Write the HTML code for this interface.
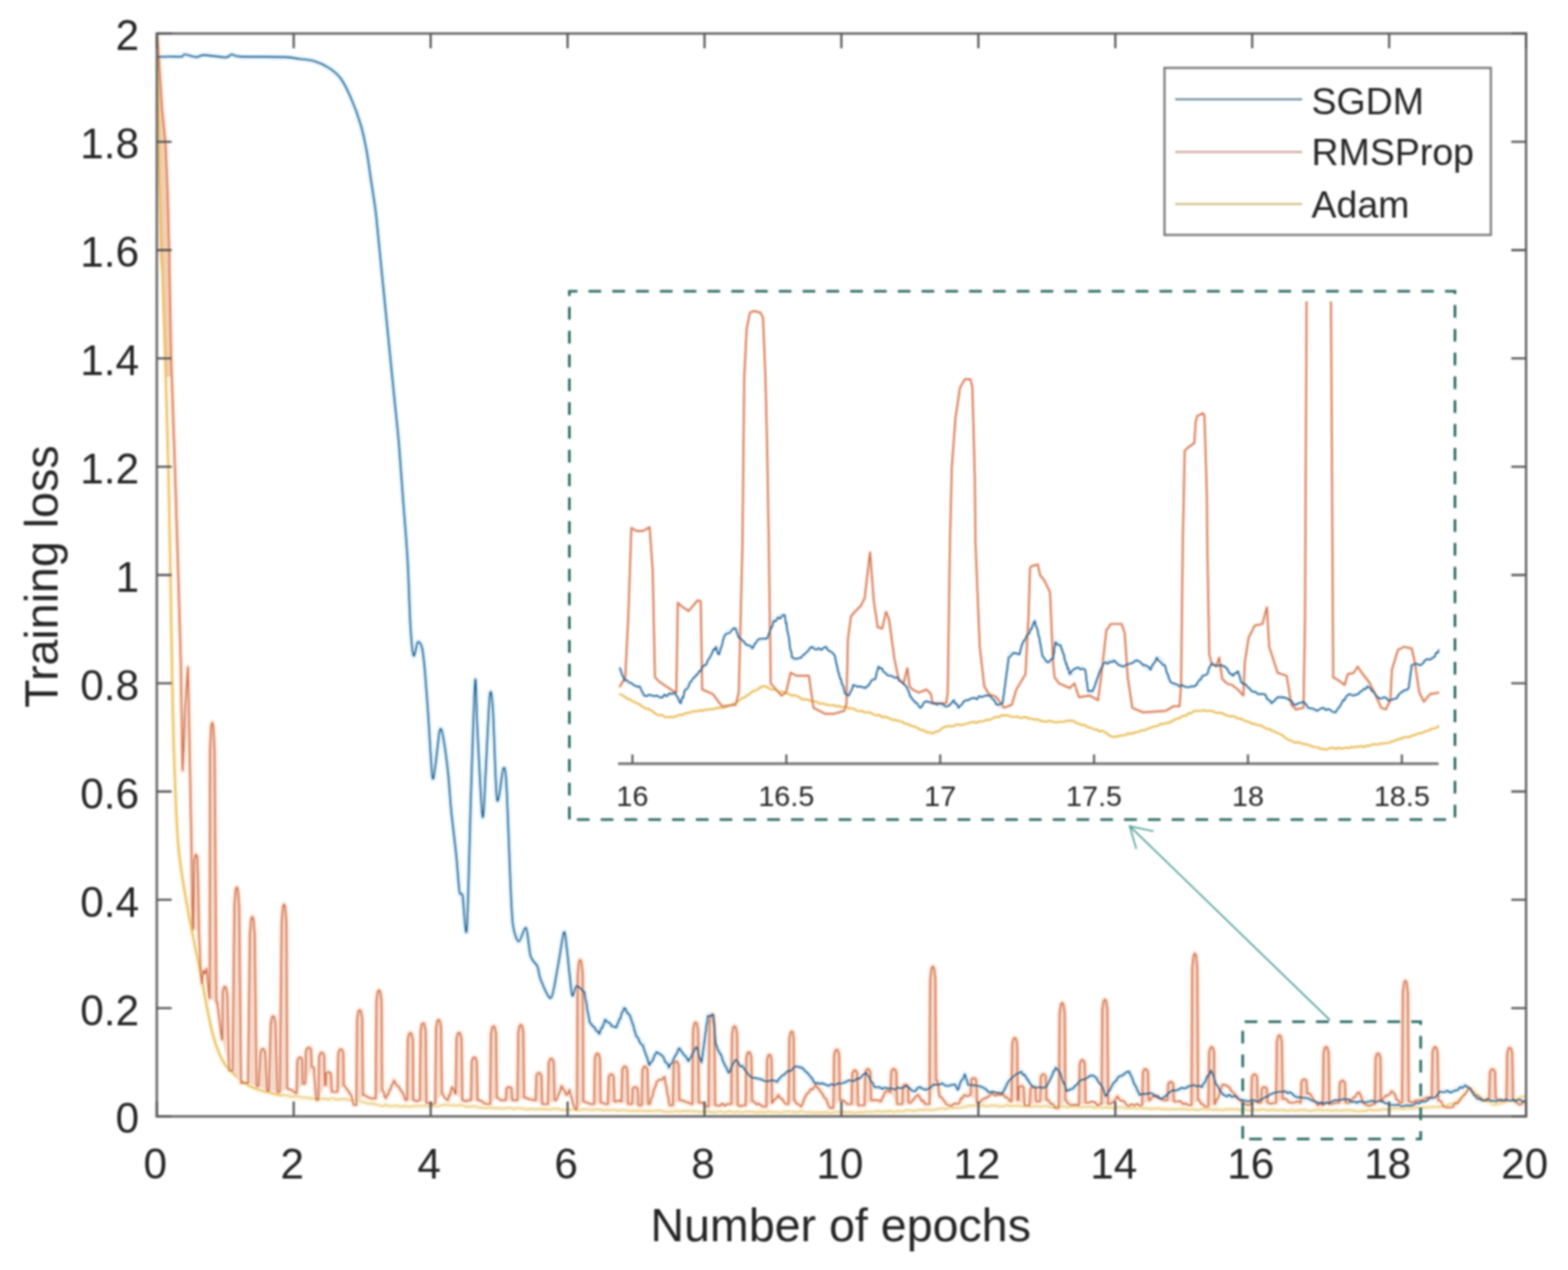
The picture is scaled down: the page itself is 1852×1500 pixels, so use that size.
<!DOCTYPE html>
<html><head><meta charset="utf-8"><title>Training loss</title>
<style>html,body{margin:0;padding:0;background:#fff;}svg{display:block;filter:blur(1px);}text{font-family:'Liberation Sans',sans-serif;}</style></head><body>
<svg width="1852" height="1500" viewBox="0 0 1852 1500">
<rect x="0" y="0" width="1852" height="1500" fill="#ffffff"/>
<defs>
<clipPath id="mainclip"><rect x="185.2" y="39.6" width="1617.3" height="1279.0"/></clipPath>
<clipPath id="insclip"><rect x="730" y="356" width="970" height="546"/></clipPath>
</defs>
<g clip-path="url(#mainclip)" fill="none" stroke-linejoin="round" stroke-linecap="round">
<path d="M186.0,67.4C188.0,67.3 195.9,66.9 200.0,66.8C204.1,66.7 212.1,67.3 214.7,66.9C217.3,66.5 215.6,64.2 218.1,64.3C220.6,64.4 228.8,67.3 232.0,67.4C235.2,67.5 235.7,65.1 240.7,65.1C245.7,65.1 262.0,67.8 266.7,67.7C271.4,67.6 271.1,64.4 273.6,64.3C276.1,64.2 275.1,66.5 284.0,66.9C292.9,67.3 326.1,67.0 336.0,67.4C345.9,67.8 348.3,68.8 353.3,69.5C358.3,70.2 365.7,70.6 370.7,72.1C375.7,73.6 383.5,77.1 388.0,79.9C392.5,82.7 398.2,87.1 401.9,92.0C405.6,96.9 410.5,106.6 414.0,114.5C417.5,122.4 423.4,138.3 426.1,147.5C428.8,156.7 431.4,169.3 433.1,178.7C434.8,188.1 436.8,203.4 438.3,213.3C439.8,223.2 442.3,238.5 443.5,248.0C444.7,257.5 445.3,265.5 446.8,280.0C448.3,294.5 451.7,329.5 453.7,349.3C455.7,369.1 458.9,401.2 460.6,418.5C462.3,435.8 464.3,455.7 465.8,470.5C467.3,485.3 469.5,505.1 471.0,522.4C472.5,539.7 474.7,571.9 476.2,591.7C477.7,611.5 480.2,639.8 481.4,661.0C482.6,682.2 483.8,723.8 484.8,740.0C485.8,756.2 487.3,771.9 488.5,774.5C489.7,777.1 492.0,759.9 493.4,758.5C494.8,757.1 497.2,759.6 498.4,764.7C499.6,769.8 501.0,782.9 502.0,794.2C503.0,805.5 504.5,825.9 505.7,843.5C506.9,861.1 509.5,909.0 510.7,917.5C511.9,926.0 513.2,910.4 514.4,902.7C515.6,895.0 518.1,868.2 519.3,863.3C520.5,858.4 521.6,861.2 523.0,868.2C524.4,875.2 527.8,899.9 529.2,912.6C530.6,925.3 531.5,942.9 532.9,957.0C534.3,971.1 537.6,997.5 539.0,1011.2C540.4,1024.9 541.6,1046.4 542.7,1053.1C543.8,1059.8 545.2,1051.7 546.4,1058.0C547.6,1064.3 550.0,1114.8 551.4,1097.5C552.8,1080.2 554.9,979.1 556.3,937.2C557.7,895.3 560.1,815.4 561.2,804.1C562.3,792.8 562.5,835.4 563.7,858.3C564.9,881.2 568.5,956.6 569.9,964.4C571.3,972.2 572.4,933.0 573.6,912.6C574.8,892.2 577.3,832.0 578.5,821.4C579.7,810.8 581.0,821.0 582.2,838.6C583.4,856.2 585.3,934.7 587.1,944.6C588.9,954.5 592.9,910.1 594.5,907.6C596.1,905.1 597.0,907.3 598.2,927.4C599.4,947.5 602.0,1024.5 603.1,1048.2C604.2,1071.9 604.6,1084.2 606.0,1093.3C607.4,1102.4 610.5,1111.6 612.7,1112.0C614.9,1112.4 619.3,1093.5 621.3,1096.0C623.3,1098.5 624.8,1122.8 626.7,1129.3C628.6,1135.8 633.0,1137.3 634.7,1141.3C636.4,1145.3 636.4,1152.0 638.7,1157.3C641.0,1162.6 647.8,1180.8 650.7,1178.7C653.6,1176.6 656.5,1153.8 658.7,1142.7C660.9,1131.6 664.5,1104.7 666.0,1101.3C667.5,1097.9 668.3,1111.6 669.3,1118.7C670.3,1125.8 671.7,1142.5 672.7,1150.7C673.7,1158.9 674.8,1174.0 676.0,1176.0C677.2,1178.0 679.0,1165.0 681.0,1164.4C683.0,1163.8 688.9,1170.9 690.2,1172.0" stroke="#dcf0fa" stroke-width="6.5"/>
<polyline points="690.2,1172.0 696.4,1207.4 707.9,1221.2 714.8,1204.3 722.7,1212.0 728.0,1213.5 737.2,1190.5 744.1,1199.7 751.8,1224.2 759.5,1235.0 767.1,1258.0 775.6,1242.6 782.5,1247.2 790.2,1261.0 802.4,1238.0 813.2,1253.4 822.4,1236.5 828.5,1254.9 836.2,1199.7 842.3,1198.2 845.4,1233.4 860.7,1267.2 868.4,1251.8 879.1,1262.6 888.3,1273.3 899.0,1274.8 910.0,1276.4 917.7,1277.9 928.4,1267.2 940.7,1259.5 946.8,1261.0 956.0,1270.2 962.1,1279.4 971.3,1279.4 979.0,1282.5 989.8,1279.4 999.0,1277.9 1009.7,1276.4 1017.4,1271.8 1023.5,1267.2 1032.7,1284.0 1048.0,1285.6 1063.4,1285.6 1071.0,1282.5 1078.7,1288.7 1086.4,1284.0 1094.0,1287.1 1105.0,1281.0 1112.7,1279.4 1120.3,1282.5 1128.0,1281.0 1131.1,1287.1 1139.5,1268.7 1143.3,1281.0 1155.6,1282.5 1163.3,1285.6 1167.9,1290.2 1183.2,1291.7 1190.9,1277.9 1200.1,1268.7 1206.2,1265.6 1212.4,1273.3 1218.5,1282.5 1227.7,1284.0 1235.4,1284.0 1246.9,1261.0 1252.2,1267.2 1259.9,1288.7 1267.6,1285.6 1278.3,1274.8 1289.0,1270.2 1295.2,1273.3 1301.3,1282.5 1306.1,1294.8 1312.3,1284.0 1319.9,1273.3 1327.6,1268.7 1333.7,1265.6 1338.3,1276.4 1346.0,1293.3 1361.3,1291.7 1370.6,1297.9 1381.3,1290.2 1392.0,1287.1 1407.4,1282.5 1419.6,1284.0 1430.4,1264.1 1436.5,1281.0 1445.7,1293.3 1461.0,1296.3 1468.7,1299.4 1484.0,1301.0 1502.7,1291.7 1518.0,1288.7 1533.3,1296.3 1548.7,1299.4 1564.0,1304.0 1577.8,1299.4 1587.0,1297.9 1602.4,1302.5 1617.7,1301.0 1633.0,1301.0 1648.4,1305.5 1663.7,1305.5 1679.0,1301.0 1695.0,1296.3 1700.4,1289.2 1716.0,1289.2 1730.4,1282.0 1736.4,1285.6 1744.8,1297.6 1752.0,1300.0 1764.0,1300.0 1776.0,1300.0 1801.2,1300.0" stroke="#dcf0fa" stroke-width="6.5"/>
<polyline points="186.0,40.0 188.5,83.0 191.5,130.0 195.5,170.0 198.0,230.0 199.8,298.0 202.0,420.0 206.5,550.0 210.0,660.0 213.5,780.0 214.5,838.0 215.7,910.0 218.5,840.0 222.0,788.0 224.0,889.0 226.2,1000.0 227.3,1090.0 228.3,1098.0 229.3,1016.0 231.0,1009.0 233.0,1012.0 234.2,1050.0 235.0,1100.0 237.0,1150.0 238.5,1162.0 240.0,1146.0 242.0,1150.0 244.0,1144.0 245.5,1160.0 247.2,1179.0 247.7,1179.0 248.1,886.0 249.3,858.3 250.6,853.4 252.0,858.4 253.4,886.4 255.6,1183.7 256.6,1183.7 262.1,1227.7 262.6,1227.7 263.0,1171.5 264.4,1166.2 265.7,1165.3 267.1,1166.8 268.5,1175.2 270.7,1264.4 271.2,1264.4 274.7,1264.4 276.9,1069.6 278.3,1051.1 279.7,1047.9 281.1,1051.4 282.5,1071.0 284.7,1279.1 285.9,1279.1 293.0,1279.1 295.2,1102.4 296.6,1085.7 298.0,1082.8 299.4,1085.8 300.8,1102.8 303.0,1282.8 304.3,1282.8 305.5,1282.8 307.7,1243.1 309.1,1239.4 310.5,1238.7 311.9,1239.4 313.3,1243.7 315.5,1288.3 316.4,1288.3 317.6,1288.3 319.8,1209.0 321.2,1201.5 322.6,1200.2 324.0,1201.5 325.4,1209.2 327.6,1290.0 330.0,1290.0 330.5,1290.0 332.7,1090.2 334.1,1071.3 335.5,1068.0 336.9,1071.3 338.3,1089.8 339.2,1285.6 339.7,1285.6 349.3,1291.5 350.3,1291.5 351.2,1253.2 352.7,1249.5 354.2,1248.9 355.6,1249.4 357.1,1252.0 357.5,1279.8 358.0,1279.8 360.5,1279.8 361.4,1241.5 362.9,1237.9 364.4,1237.3 365.9,1237.6 367.4,1239.6 368.3,1260.5 370.6,1260.5 373.5,1299.2 376.0,1299.2 376.9,1248.7 378.4,1243.9 379.9,1243.1 381.4,1243.7 382.9,1247.0 383.7,1281.8 384.2,1281.8 384.7,1281.8 385.1,1267.8 386.5,1266.5 388.0,1266.3 389.5,1266.6 391.0,1268.6 391.9,1289.5 393.8,1289.5 398.6,1289.5 399.5,1244.2 401.0,1240.0 402.5,1239.2 404.0,1239.8 405.5,1243.5 405.9,1281.8 406.4,1281.8 413.2,1291.5 418.0,1305.0 420.9,1305.0 421.8,1204.0 423.3,1194.5 424.8,1192.8 426.3,1194.3 427.8,1202.9 428.7,1293.4 430.6,1293.4 438.3,1297.3 443.7,1297.3 444.6,1182.4 446.1,1171.5 447.6,1169.6 449.1,1171.4 450.6,1181.4 451.4,1287.6 451.9,1287.6 455.7,1297.3 465.4,1276.0 473.1,1287.6 478.9,1299.2 480.8,1299.2 481.7,1227.8 483.2,1221.1 484.7,1219.9 486.2,1221.1 487.7,1227.8 488.1,1299.2 488.6,1299.2 495.9,1299.2 496.8,1217.4 498.3,1209.7 499.8,1208.3 501.3,1209.7 502.8,1217.8 503.7,1303.0 506.0,1303.0 514.1,1303.0 515.0,1214.3 516.5,1205.9 518.0,1204.4 519.5,1205.7 521.0,1213.1 521.9,1291.5 522.5,1291.5 529.2,1299.4 533.8,1284.0 537.6,1291.7 538.3,1291.7 539.2,1226.8 540.7,1220.7 542.2,1219.6 543.7,1220.8 545.2,1227.6 546.1,1299.4 546.8,1299.4 553.7,1299.4 556.3,1299.4 557.2,1253.9 558.7,1249.6 560.2,1248.8 561.7,1249.6 563.2,1253.9 564.1,1299.4 566.0,1299.4 575.2,1304.0 579.0,1304.0 579.9,1221.2 581.4,1213.4 582.9,1212.0 584.4,1213.3 585.9,1220.4 586.8,1296.3 587.5,1296.3 595.2,1299.4 597.4,1299.4 598.3,1285.5 599.8,1284.2 601.3,1284.0 602.8,1284.2 604.3,1285.5 605.2,1299.4 609.0,1299.4 611.2,1299.4 612.1,1219.3 613.6,1211.7 615.1,1210.4 616.6,1211.7 618.1,1219.0 619.0,1296.3 621.2,1296.3 630.4,1299.4 632.7,1299.4 633.6,1270.4 635.1,1267.7 636.6,1267.2 638.1,1267.8 639.6,1270.9 640.5,1304.0 642.7,1304.0 647.2,1304.0 648.1,1255.7 649.6,1251.1 651.1,1250.3 652.6,1251.0 654.1,1255.2 655.0,1299.4 656.5,1299.4 663.4,1282.5 668.8,1293.3 672.6,1287.1 679.5,1310.1 681.4,1310.1 682.3,1151.3 683.8,1136.3 685.3,1133.7 686.8,1136.2 688.3,1150.4 689.0,1301.0 689.5,1301.0 697.9,1304.0 701.7,1304.0 702.6,1250.2 704.1,1245.1 705.6,1244.2 707.1,1245.1 708.6,1250.0 709.5,1302.5 711.7,1302.5 715.0,1304.0 718.0,1304.0 718.9,1272.2 720.4,1269.2 721.9,1268.7 723.4,1269.2 724.9,1271.9 725.8,1301.0 727.3,1301.0 734.1,1301.0 735.0,1263.7 736.5,1260.1 738.0,1259.5 739.5,1260.2 741.0,1264.0 741.9,1304.0 744.1,1304.0 746.4,1304.0 747.3,1286.0 748.8,1284.3 750.3,1284.0 751.8,1284.3 753.3,1286.2 754.2,1305.5 754.9,1305.5 757.9,1305.5 758.8,1264.1 760.3,1260.2 761.8,1259.5 763.3,1260.2 764.8,1264.0 765.7,1304.0 767.1,1304.0 775.6,1277.9 784.8,1271.8 790.9,1305.5 794.7,1305.5 795.6,1258.6 797.1,1254.2 798.6,1253.4 800.1,1254.1 801.6,1258.0 802.5,1299.4 804.0,1299.4 816.2,1304.0 817.7,1304.0 818.6,1217.1 820.1,1208.8 821.6,1207.4 823.1,1208.8 824.6,1216.9 825.5,1302.5 827.0,1302.5 836.2,1307.0 836.9,1307.0 837.8,1209.1 839.3,1199.8 840.8,1198.2 842.3,1199.8 843.8,1208.9 844.7,1305.5 846.9,1305.5 859.2,1304.0 863.7,1304.0 864.6,1221.2 866.1,1213.4 867.6,1212.0 869.1,1213.4 870.6,1221.3 871.5,1305.5 877.6,1305.5 880.6,1305.5 881.5,1248.9 883.0,1243.5 884.5,1242.6 886.0,1243.5 887.5,1248.4 888.4,1301.0 890.6,1301.0 902.1,1307.0 905.1,1307.0 906.0,1251.8 907.5,1246.6 909.0,1245.7 910.2,1246.6 911.4,1251.4 911.8,1302.5 912.3,1302.5 919.2,1293.3 928.4,1304.0 931.4,1304.0 932.3,1226.7 933.8,1219.4 935.3,1218.1 936.4,1219.3 937.5,1226.2 937.9,1299.4 938.4,1299.4 946.0,1307.0 953.0,1291.7 963.7,1281.0 971.3,1291.7 980.6,1308.6 984.3,1308.6 985.2,1246.5 986.7,1240.6 988.2,1239.6 989.7,1240.5 991.2,1245.6 992.1,1299.4 993.6,1299.4 1000.5,1304.0 1005.8,1304.0 1006.7,1268.1 1008.2,1264.7 1009.7,1264.1 1011.2,1264.7 1012.7,1268.2 1013.6,1305.5 1015.8,1305.5 1021.1,1305.5 1022.0,1266.9 1023.5,1263.2 1025.0,1262.6 1026.5,1263.2 1028.0,1266.3 1028.9,1299.4 1032.7,1299.4 1040.4,1301.0 1045.0,1290.2 1051.8,1290.2 1052.7,1265.4 1054.2,1263.0 1055.7,1262.6 1057.2,1263.2 1058.7,1266.7 1059.6,1304.0 1061.8,1304.0 1065.6,1304.0 1066.5,1283.3 1068.0,1281.3 1069.5,1281.0 1071.0,1281.3 1072.5,1283.2 1073.4,1302.5 1075.6,1302.5 1084.8,1293.3 1092.5,1304.0 1097.8,1304.0 1098.7,1157.7 1100.2,1143.8 1101.7,1141.4 1103.2,1143.4 1104.7,1154.9 1105.6,1276.4 1107.3,1276.4 1109.6,1294.8 1120.3,1305.5 1131.1,1304.0 1138.7,1293.3 1146.3,1293.3 1147.2,1275.3 1148.7,1273.6 1150.2,1273.3 1151.7,1273.7 1153.2,1276.2 1154.1,1302.5 1157.1,1302.5 1169.4,1293.3 1184.8,1291.7 1193.2,1301.0 1194.7,1301.0 1195.6,1233.3 1197.1,1226.9 1198.6,1225.8 1200.0,1226.9 1201.5,1233.2 1201.9,1299.4 1202.4,1299.4 1202.9,1299.4 1203.3,1284.2 1204.8,1282.8 1206.2,1282.5 1207.7,1282.8 1209.2,1284.8 1210.1,1305.5 1215.4,1305.5 1216.1,1305.5 1217.0,1286.2 1218.5,1284.3 1220.0,1284.0 1221.5,1284.3 1223.0,1285.7 1223.9,1301.0 1226.2,1301.0 1228.4,1301.0 1229.3,1271.9 1230.8,1269.2 1232.3,1268.7 1233.8,1269.2 1235.3,1271.8 1236.2,1299.4 1238.4,1299.4 1246.1,1308.6 1250.6,1308.6 1251.5,1196.8 1253.0,1186.3 1254.5,1184.4 1256.0,1186.1 1257.5,1195.9 1258.4,1299.4 1259.1,1299.4 1266.0,1305.5 1274.4,1305.5 1275.3,1257.2 1276.8,1252.6 1278.3,1251.8 1279.8,1252.6 1281.3,1256.9 1282.2,1302.5 1286.0,1302.5 1299.8,1304.0 1301.1,1304.0 1302.0,1192.8 1303.5,1182.4 1305.0,1180.5 1306.5,1182.4 1308.0,1192.8 1308.9,1304.0 1311.5,1304.0 1319.9,1294.8 1330.7,1305.5 1349.0,1305.5 1349.9,1266.9 1351.4,1263.2 1352.9,1262.6 1354.4,1263.2 1355.9,1266.3 1356.8,1299.4 1358.3,1299.4 1364.4,1293.3 1373.6,1299.4 1378.9,1299.4 1379.8,1280.1 1381.3,1278.2 1382.8,1277.9 1384.3,1278.2 1385.8,1280.2 1386.7,1301.0 1390.5,1301.0 1404.3,1305.5 1407.3,1305.5 1408.2,1144.0 1409.7,1128.8 1411.2,1126.1 1412.7,1128.7 1414.2,1143.4 1415.1,1299.4 1416.6,1299.4 1422.7,1307.0 1427.2,1307.0 1428.1,1243.5 1429.6,1237.6 1431.1,1236.5 1432.6,1237.5 1434.1,1243.2 1434.5,1304.0 1435.0,1304.0 1444.2,1281.0 1451.8,1284.0 1462.6,1297.9 1470.2,1304.0 1477.8,1304.0 1478.7,1272.2 1480.2,1269.2 1481.7,1268.7 1483.2,1269.2 1484.7,1272.1 1485.6,1302.5 1487.1,1302.5 1489.4,1302.5 1490.3,1285.8 1491.8,1284.3 1493.3,1284.0 1494.8,1284.3 1496.3,1285.8 1497.2,1302.5 1497.9,1302.5 1507.2,1302.5 1508.1,1230.7 1509.6,1223.9 1511.1,1222.7 1512.6,1223.8 1514.1,1230.2 1515.0,1297.9 1515.7,1297.9 1525.7,1302.5 1536.3,1302.5 1537.2,1277.6 1538.7,1275.2 1540.2,1274.8 1541.7,1275.1 1543.2,1276.5 1544.1,1291.7 1547.1,1291.7 1556.3,1305.5 1562.4,1305.5 1563.3,1243.4 1564.8,1237.5 1566.3,1236.5 1567.8,1237.5 1569.3,1243.2 1570.2,1304.0 1571.7,1304.0 1577.8,1302.5 1581.6,1302.5 1582.5,1279.0 1584.0,1276.8 1585.5,1276.4 1587.0,1276.8 1588.5,1279.0 1589.4,1302.5 1593.2,1302.5 1605.4,1290.2 1611.6,1304.0 1623.8,1304.0 1624.7,1250.2 1626.2,1245.1 1627.7,1244.2 1629.2,1245.1 1630.6,1249.9 1631.0,1301.0 1631.5,1301.0 1643.8,1288.7 1653.0,1302.5 1656.0,1302.5 1656.9,1172.7 1658.4,1160.5 1659.9,1158.3 1661.4,1160.4 1662.9,1172.6 1663.8,1301.0 1664.5,1301.0 1679.0,1299.4 1685.2,1296.3 1691.1,1296.3 1692.0,1242.5 1693.5,1237.4 1695.0,1236.5 1696.5,1237.5 1698.0,1242.8 1698.9,1300.0 1700.4,1300.0 1706.4,1307.3 1716.0,1307.3 1725.6,1297.6 1735.2,1284.4 1743.6,1294.0 1752.0,1300.0 1756.8,1297.6 1758.9,1297.6 1759.8,1266.3 1761.3,1263.3 1762.8,1262.8 1764.3,1263.3 1765.8,1266.3 1766.7,1297.6 1767.6,1297.6 1776.0,1300.0 1779.3,1300.0 1780.2,1243.8 1781.7,1238.5 1783.2,1237.6 1784.7,1238.5 1786.2,1243.8 1787.1,1300.0 1788.0,1300.0 1795.2,1304.8 1801.2,1300.0" stroke="#fce6da" stroke-width="6.5"/>
<path d="M186.0,40.0C186.1,51.4 186.6,94.3 187.0,120.0C187.4,145.7 187.9,194.3 188.5,220.0C189.1,245.7 190.1,271.4 191.0,300.0C191.9,328.6 193.9,385.7 195.0,420.0C196.1,454.3 197.6,505.7 198.5,540.0C199.4,574.3 200.4,625.7 201.0,660.0C201.6,694.3 202.4,747.1 203.0,780.0C203.6,812.9 204.4,858.5 205.5,890.0C206.6,921.5 208.4,974.0 210.7,1000.2C213.0,1026.4 218.0,1052.6 221.7,1073.6C225.4,1094.6 232.2,1126.0 236.4,1147.0C240.6,1168.0 246.8,1204.7 251.0,1220.4C255.2,1236.1 259.4,1248.1 265.7,1257.0C272.0,1265.9 285.6,1277.5 295.0,1282.8C304.4,1288.1 321.3,1291.7 331.8,1293.8C342.3,1295.9 356.5,1296.6 368.7,1297.3C380.9,1298.0 406.0,1297.9 417.0,1299.0C428.0,1300.1 436.3,1303.9 446.0,1305.0C455.7,1306.1 472.7,1307.0 484.7,1307.0C496.7,1307.0 516.4,1304.8 530.0,1305.0C543.6,1305.2 564.3,1307.8 580.0,1308.5C595.7,1309.2 622.9,1309.6 640.0,1310.0C657.1,1310.4 682.9,1310.7 700.0,1311.0C717.1,1311.3 741.4,1311.7 760.0,1312.0C778.6,1312.3 810.0,1312.8 830.0,1313.0C850.0,1313.2 875.7,1313.4 900.0,1313.5C924.3,1313.6 971.4,1314.4 1000.0,1314.0C1028.6,1313.6 1078.6,1312.1 1100.0,1311.0C1121.4,1309.9 1135.7,1306.7 1150.0,1306.0C1164.3,1305.3 1178.6,1305.7 1200.0,1306.0C1221.4,1306.3 1271.4,1307.4 1300.0,1308.0C1328.6,1308.6 1371.4,1309.6 1400.0,1310.0C1428.6,1310.4 1471.4,1310.7 1500.0,1311.0C1528.6,1311.3 1574.3,1312.4 1600.0,1312.0C1625.7,1311.6 1665.1,1308.7 1680.0,1308.0C1694.9,1307.3 1698.0,1308.4 1704.0,1307.3C1710.0,1306.2 1717.4,1303.1 1722.0,1300.0C1726.6,1296.9 1732.8,1286.3 1736.4,1285.6C1740.0,1284.9 1743.3,1292.5 1747.2,1295.2C1751.1,1297.9 1759.0,1304.1 1764.0,1304.8C1769.0,1305.5 1776.7,1301.4 1782.0,1300.0C1787.3,1298.6 1798.5,1295.9 1801.2,1295.2" stroke="#fcf4dc" stroke-width="6.5"/>
<polygon points="186.5,45.0 188.5,83.0 191.5,130.0 195.5,170.0 198.0,230.0 199.8,298.0 202.0,420.0 203.0,445.0 196.0,445.0 192.0,330.0 188.5,300.0 187.2,200.0 186.5,100.0" fill="#f4cdb0" stroke="none"/>
<path d="M186.0,40.0C186.1,51.4 186.6,94.3 187.0,120.0C187.4,145.7 187.9,194.3 188.5,220.0C189.1,245.7 190.1,271.4 191.0,300.0C191.9,328.6 193.9,385.7 195.0,420.0C196.1,454.3 197.6,505.7 198.5,540.0C199.4,574.3 200.4,625.7 201.0,660.0C201.6,694.3 202.4,747.1 203.0,780.0C203.6,812.9 204.4,858.5 205.5,890.0C206.6,921.5 208.4,974.0 210.7,1000.2C213.0,1026.4 218.0,1052.6 221.7,1073.6C225.4,1094.6 232.2,1126.0 236.4,1147.0C240.6,1168.0 246.8,1204.7 251.0,1220.4C255.2,1236.1 259.4,1248.1 265.7,1257.0C272.0,1265.9 285.6,1277.5 295.0,1282.8C304.4,1288.1 326.5,1292.2 331.8,1293.8" stroke="#e6b54a" stroke-width="1.8"/>
<polyline points="331.8,1293.8 335.2,1293.0 338.5,1293.6 341.9,1294.5 345.2,1295.5 348.6,1294.6 351.9,1294.9 355.3,1295.4 358.6,1296.9 362.0,1295.9 365.3,1297.5 368.7,1297.3 371.9,1297.8 375.1,1296.7 378.4,1297.7 381.6,1297.6 384.8,1297.7 388.0,1299.1 391.2,1297.2 394.5,1297.2 397.7,1299.3 400.9,1298.2 404.1,1297.9 407.3,1298.3 410.6,1298.5 413.8,1299.9 417.0,1299.0 420.2,1299.0 423.4,1299.7 426.7,1301.2 429.9,1301.8 433.1,1303.3 436.3,1303.7 439.6,1303.3 442.8,1303.7 446.0,1305.0 449.2,1305.9 452.4,1306.4 455.7,1304.5 458.9,1306.2 462.1,1306.6 465.4,1306.3 468.6,1305.5 471.8,1307.0 475.0,1307.0 478.2,1306.0 481.5,1307.1 484.7,1307.0 487.9,1306.2 491.2,1305.7 494.4,1306.2 497.6,1306.1 500.9,1306.1 504.1,1306.5 507.4,1306.7 510.6,1306.9 513.8,1306.8 517.1,1306.7 520.3,1306.1 523.5,1304.9 526.8,1304.4 530.0,1305.0 533.3,1305.5 536.7,1305.6 540.0,1306.1 543.3,1305.0 546.7,1305.5 550.0,1307.3 553.3,1306.9 556.7,1307.3 560.0,1306.2 563.3,1307.1 566.7,1308.5 570.0,1308.1 573.3,1309.1 576.7,1307.6 580.0,1308.5 583.3,1308.5 586.7,1309.3 590.0,1308.6 593.3,1309.5 596.7,1309.1 600.0,1308.2 603.3,1308.2 606.7,1310.2 610.0,1308.4 613.3,1308.7 616.7,1309.1 620.0,1310.0 623.3,1310.4 626.7,1309.6 630.0,1309.7 633.3,1310.5 636.7,1309.4 640.0,1310.0 643.3,1309.8 646.7,1310.4 650.0,1310.5 653.3,1309.2 656.7,1309.4 660.0,1309.5 663.3,1310.9 666.7,1310.9 670.0,1311.5 673.3,1311.1 676.7,1310.1 680.0,1311.3 683.3,1311.8 686.7,1310.4 690.0,1309.8 693.3,1310.6 696.7,1310.5 700.0,1311.0 703.3,1310.3 706.7,1310.1 710.0,1310.3 713.3,1312.0 716.7,1310.3 720.0,1311.6 723.3,1310.7 726.7,1310.8 730.0,1312.2 733.3,1311.1 736.7,1310.9 740.0,1311.6 743.3,1312.2 746.7,1311.8 750.0,1312.6 753.3,1311.7 756.7,1312.0 760.0,1312.0 763.3,1312.5 766.7,1312.0 770.0,1312.6 773.3,1312.1 776.7,1311.4 780.0,1311.5 783.3,1313.0 786.7,1312.9 790.0,1313.4 793.3,1312.9 796.7,1312.7 800.0,1311.8 803.3,1313.4 806.7,1311.8 810.0,1312.5 813.3,1312.0 816.7,1312.5 820.0,1312.4 823.3,1312.7 826.7,1313.4 830.0,1313.0 833.3,1313.1 836.7,1312.5 840.0,1313.7 843.3,1313.6 846.7,1313.8 850.0,1312.1 853.3,1313.4 856.7,1314.1 860.0,1312.7 863.3,1312.6 866.7,1314.0 870.0,1313.0 873.3,1313.1 876.7,1314.0 880.0,1313.1 883.3,1312.7 886.7,1312.8 890.0,1313.1 893.3,1313.9 896.7,1313.2 900.0,1313.5 903.2,1314.1 906.5,1312.6 909.7,1313.0 912.9,1313.8 916.1,1313.5 919.4,1313.6 922.6,1314.6 925.8,1313.1 929.0,1312.9 932.3,1312.6 935.5,1313.6 938.7,1313.2 941.9,1313.7 945.2,1312.6 948.4,1312.6 951.6,1313.5 954.8,1314.3 958.1,1313.4 961.3,1314.7 964.5,1314.0 967.7,1313.6 971.0,1314.5 974.2,1313.3 977.4,1314.1 980.6,1314.7 983.9,1314.0 987.1,1313.5 990.3,1313.1 993.5,1314.1 996.8,1313.3 1000.0,1314.0 1003.2,1313.6 1006.5,1313.9 1009.7,1314.7 1012.9,1314.0 1016.1,1313.6 1019.4,1314.2 1022.6,1312.9 1025.8,1313.0 1029.0,1313.5 1032.3,1313.2 1035.5,1312.3 1038.7,1312.6 1041.9,1313.5 1045.2,1312.1 1048.4,1313.0 1051.6,1311.5 1054.8,1313.4 1058.1,1312.7 1061.3,1311.8 1064.5,1313.1 1067.7,1312.6 1071.0,1310.9 1074.2,1311.2 1077.4,1311.7 1080.6,1312.7 1083.9,1310.7 1087.1,1310.4 1090.3,1310.9 1093.5,1310.2 1096.8,1310.9 1100.0,1311.0 1103.3,1310.8 1106.7,1310.2 1110.0,1309.2 1113.3,1308.6 1116.7,1310.0 1120.0,1308.9 1123.3,1308.6 1126.7,1308.3 1130.0,1308.4 1133.3,1308.5 1136.7,1308.1 1140.0,1307.5 1143.3,1306.3 1146.7,1305.6 1150.0,1306.0 1153.3,1305.1 1156.7,1306.8 1160.0,1305.0 1163.3,1306.2 1166.7,1306.9 1170.0,1305.6 1173.3,1305.8 1176.7,1305.8 1180.0,1307.0 1183.3,1306.4 1186.7,1306.7 1190.0,1305.0 1193.3,1306.5 1196.7,1305.9 1200.0,1306.0 1203.2,1305.8 1206.5,1306.8 1209.7,1306.7 1212.9,1307.2 1216.1,1306.8 1219.4,1307.3 1222.6,1306.3 1225.8,1306.6 1229.0,1307.2 1232.3,1306.5 1235.5,1305.9 1238.7,1307.0 1241.9,1307.7 1245.2,1307.7 1248.4,1306.1 1251.6,1306.8 1254.8,1306.5 1258.1,1306.8 1261.3,1308.2 1264.5,1307.1 1267.7,1306.9 1271.0,1306.9 1274.2,1307.4 1277.4,1307.9 1280.6,1307.3 1283.9,1307.0 1287.1,1307.1 1290.3,1307.3 1293.5,1308.8 1296.8,1307.2 1300.0,1308.0 1303.2,1308.6 1306.5,1307.3 1309.7,1308.8 1312.9,1307.7 1316.1,1308.9 1319.4,1308.2 1322.6,1307.5 1325.8,1307.6 1329.0,1309.2 1332.3,1308.7 1335.5,1308.7 1338.7,1308.4 1341.9,1309.3 1345.2,1308.9 1348.4,1308.0 1351.6,1309.3 1354.8,1308.7 1358.1,1309.9 1361.3,1309.3 1364.5,1309.9 1367.7,1308.5 1371.0,1309.9 1374.2,1309.7 1377.4,1310.3 1380.6,1310.5 1383.9,1309.8 1387.1,1309.9 1390.3,1310.4 1393.5,1309.4 1396.8,1310.0 1400.0,1310.0 1403.2,1310.7 1406.5,1310.3 1409.7,1310.2 1412.9,1310.9 1416.1,1311.2 1419.4,1309.7 1422.6,1309.3 1425.8,1310.5 1429.0,1309.5 1432.3,1311.4 1435.5,1310.3 1438.7,1310.5 1441.9,1311.1 1445.2,1311.3 1448.4,1309.7 1451.6,1310.4 1454.8,1309.8 1458.1,1310.5 1461.3,1309.8 1464.5,1311.5 1467.7,1310.4 1471.0,1310.5 1474.2,1311.6 1477.4,1311.5 1480.6,1310.4 1483.9,1310.8 1487.1,1311.2 1490.3,1310.2 1493.5,1310.1 1496.8,1311.8 1500.0,1311.0 1503.2,1310.3 1506.5,1311.5 1509.7,1311.6 1512.9,1311.3 1516.1,1310.8 1519.4,1312.0 1522.6,1311.9 1525.8,1310.3 1529.0,1312.2 1532.3,1311.6 1535.5,1310.9 1538.7,1310.7 1541.9,1310.5 1545.2,1312.1 1548.4,1312.2 1551.6,1311.2 1554.8,1310.8 1558.1,1310.6 1561.3,1311.4 1564.5,1311.2 1567.7,1310.7 1571.0,1311.3 1574.2,1312.4 1577.4,1310.8 1580.6,1311.6 1583.9,1311.9 1587.1,1311.1 1590.3,1310.9 1593.5,1311.0 1596.8,1311.2 1600.0,1312.0 1603.2,1312.9 1606.4,1312.5 1609.6,1312.0 1612.8,1312.2 1616.0,1310.8 1619.2,1310.5 1622.4,1311.7 1625.6,1311.0 1628.8,1311.5 1632.0,1310.1 1635.2,1310.0 1638.4,1310.6 1641.6,1310.8 1644.8,1309.0 1648.0,1309.1 1651.2,1308.4 1654.4,1309.4 1657.6,1310.1 1660.8,1309.1 1664.0,1308.0 1667.2,1309.1 1670.4,1308.8 1673.6,1307.5 1676.8,1309.1 1680.0,1308.0 1683.4,1308.3 1686.9,1307.8 1690.3,1307.4 1693.7,1306.9 1697.1,1307.4 1700.6,1307.1 1704.0,1307.3 1707.0,1305.5 1710.0,1305.2 1713.0,1304.0 1716.0,1303.4 1719.0,1302.2 1722.0,1300.0 1724.4,1297.5 1726.8,1295.7 1729.2,1292.5 1731.6,1290.3 1734.0,1288.1 1736.4,1285.6 1739.1,1289.1 1741.8,1289.4 1744.5,1292.7 1747.2,1295.2 1750.0,1296.4 1752.8,1299.1 1755.6,1301.0 1758.4,1301.5 1761.2,1302.3 1764.0,1304.8 1767.6,1304.0 1771.2,1303.1 1774.8,1302.3 1778.4,1301.6 1782.0,1300.0 1785.2,1299.1 1788.4,1298.5 1791.6,1298.2 1794.8,1295.8 1798.0,1295.4 1801.2,1295.2" stroke="#e8c77a" stroke-width="1.5"/>
<g fill="#f7d9ca" stroke="none">
<polygon points="247.7,1179.0 248.1,886.0 249.3,858.3 250.6,853.4 252.0,858.4 253.4,886.4 255.6,1183.7"/>
<polygon points="262.6,1227.7 263.0,1171.5 264.4,1166.2 265.7,1165.3 267.1,1166.8 268.5,1175.2 270.7,1264.4"/>
<polygon points="274.7,1264.4 276.9,1069.6 278.3,1051.1 279.7,1047.9 281.1,1051.4 282.5,1071.0 284.7,1279.1"/>
<polygon points="293.0,1279.1 295.2,1102.4 296.6,1085.7 298.0,1082.8 299.4,1085.8 300.8,1102.8 303.0,1282.8"/>
<polygon points="305.5,1282.8 307.7,1243.1 309.1,1239.4 310.5,1238.7 311.9,1239.4 313.3,1243.7 315.5,1288.3"/>
<polygon points="317.6,1288.3 319.8,1209.0 321.2,1201.5 322.6,1200.2 324.0,1201.5 325.4,1209.2 327.6,1290.0"/>
<polygon points="330.5,1290.0 332.7,1090.2 334.1,1071.3 335.5,1068.0 336.9,1071.3 338.3,1089.8 339.2,1285.6"/>
<polygon points="350.3,1291.5 351.2,1253.2 352.7,1249.5 354.2,1248.9 355.6,1249.4 357.1,1252.0 357.5,1279.8"/>
<polygon points="360.5,1279.8 361.4,1241.5 362.9,1237.9 364.4,1237.3 365.9,1237.6 367.4,1239.6 368.3,1260.5"/>
<polygon points="376.0,1299.2 376.9,1248.7 378.4,1243.9 379.9,1243.1 381.4,1243.7 382.9,1247.0 383.7,1281.8"/>
<polygon points="384.7,1281.8 385.1,1267.8 386.5,1266.5 388.0,1266.3 389.5,1266.6 391.0,1268.6 391.9,1289.5"/>
<polygon points="398.6,1289.5 399.5,1244.2 401.0,1240.0 402.5,1239.2 404.0,1239.8 405.5,1243.5 405.9,1281.8"/>
<polygon points="420.9,1305.0 421.8,1204.0 423.3,1194.5 424.8,1192.8 426.3,1194.3 427.8,1202.9 428.7,1293.4"/>
<polygon points="443.7,1297.3 444.6,1182.4 446.1,1171.5 447.6,1169.6 449.1,1171.4 450.6,1181.4 451.4,1287.6"/>
<polygon points="480.8,1299.2 481.7,1227.8 483.2,1221.1 484.7,1219.9 486.2,1221.1 487.7,1227.8 488.1,1299.2"/>
<polygon points="495.9,1299.2 496.8,1217.4 498.3,1209.7 499.8,1208.3 501.3,1209.7 502.8,1217.8 503.7,1303.0"/>
<polygon points="514.1,1303.0 515.0,1214.3 516.5,1205.9 518.0,1204.4 519.5,1205.7 521.0,1213.1 521.9,1291.5"/>
<polygon points="538.3,1291.7 539.2,1226.8 540.7,1220.7 542.2,1219.6 543.7,1220.8 545.2,1227.6 546.1,1299.4"/>
<polygon points="556.3,1299.4 557.2,1253.9 558.7,1249.6 560.2,1248.8 561.7,1249.6 563.2,1253.9 564.1,1299.4"/>
<polygon points="579.0,1304.0 579.9,1221.2 581.4,1213.4 582.9,1212.0 584.4,1213.3 585.9,1220.4 586.8,1296.3"/>
<polygon points="597.4,1299.4 598.3,1285.5 599.8,1284.2 601.3,1284.0 602.8,1284.2 604.3,1285.5 605.2,1299.4"/>
<polygon points="611.2,1299.4 612.1,1219.3 613.6,1211.7 615.1,1210.4 616.6,1211.7 618.1,1219.0 619.0,1296.3"/>
<polygon points="632.7,1299.4 633.6,1270.4 635.1,1267.7 636.6,1267.2 638.1,1267.8 639.6,1270.9 640.5,1304.0"/>
<polygon points="647.2,1304.0 648.1,1255.7 649.6,1251.1 651.1,1250.3 652.6,1251.0 654.1,1255.2 655.0,1299.4"/>
<polygon points="681.4,1310.1 682.3,1151.3 683.8,1136.3 685.3,1133.7 686.8,1136.2 688.3,1150.4 689.0,1301.0"/>
<polygon points="701.7,1304.0 702.6,1250.2 704.1,1245.1 705.6,1244.2 707.1,1245.1 708.6,1250.0 709.5,1302.5"/>
<polygon points="718.0,1304.0 718.9,1272.2 720.4,1269.2 721.9,1268.7 723.4,1269.2 724.9,1271.9 725.8,1301.0"/>
<polygon points="734.1,1301.0 735.0,1263.7 736.5,1260.1 738.0,1259.5 739.5,1260.2 741.0,1264.0 741.9,1304.0"/>
<polygon points="746.4,1304.0 747.3,1286.0 748.8,1284.3 750.3,1284.0 751.8,1284.3 753.3,1286.2 754.2,1305.5"/>
<polygon points="757.9,1305.5 758.8,1264.1 760.3,1260.2 761.8,1259.5 763.3,1260.2 764.8,1264.0 765.7,1304.0"/>
<polygon points="794.7,1305.5 795.6,1258.6 797.1,1254.2 798.6,1253.4 800.1,1254.1 801.6,1258.0 802.5,1299.4"/>
<polygon points="817.7,1304.0 818.6,1217.1 820.1,1208.8 821.6,1207.4 823.1,1208.8 824.6,1216.9 825.5,1302.5"/>
<polygon points="836.9,1307.0 837.8,1209.1 839.3,1199.8 840.8,1198.2 842.3,1199.8 843.8,1208.9 844.7,1305.5"/>
<polygon points="863.7,1304.0 864.6,1221.2 866.1,1213.4 867.6,1212.0 869.1,1213.4 870.6,1221.3 871.5,1305.5"/>
<polygon points="880.6,1305.5 881.5,1248.9 883.0,1243.5 884.5,1242.6 886.0,1243.5 887.5,1248.4 888.4,1301.0"/>
<polygon points="905.1,1307.0 906.0,1251.8 907.5,1246.6 909.0,1245.7 910.2,1246.6 911.4,1251.4 911.8,1302.5"/>
<polygon points="931.4,1304.0 932.3,1226.7 933.8,1219.4 935.3,1218.1 936.4,1219.3 937.5,1226.2 937.9,1299.4"/>
<polygon points="984.3,1308.6 985.2,1246.5 986.7,1240.6 988.2,1239.6 989.7,1240.5 991.2,1245.6 992.1,1299.4"/>
<polygon points="1005.8,1304.0 1006.7,1268.1 1008.2,1264.7 1009.7,1264.1 1011.2,1264.7 1012.7,1268.2 1013.6,1305.5"/>
<polygon points="1021.1,1305.5 1022.0,1266.9 1023.5,1263.2 1025.0,1262.6 1026.5,1263.2 1028.0,1266.3 1028.9,1299.4"/>
<polygon points="1051.8,1290.2 1052.7,1265.4 1054.2,1263.0 1055.7,1262.6 1057.2,1263.2 1058.7,1266.7 1059.6,1304.0"/>
<polygon points="1065.6,1304.0 1066.5,1283.3 1068.0,1281.3 1069.5,1281.0 1071.0,1281.3 1072.5,1283.2 1073.4,1302.5"/>
<polygon points="1097.8,1304.0 1098.7,1157.7 1100.2,1143.8 1101.7,1141.4 1103.2,1143.4 1104.7,1154.9 1105.6,1276.4"/>
<polygon points="1146.3,1293.3 1147.2,1275.3 1148.7,1273.6 1150.2,1273.3 1151.7,1273.7 1153.2,1276.2 1154.1,1302.5"/>
<polygon points="1194.7,1301.0 1195.6,1233.3 1197.1,1226.9 1198.6,1225.8 1200.0,1226.9 1201.5,1233.2 1201.9,1299.4"/>
<polygon points="1202.9,1299.4 1203.3,1284.2 1204.8,1282.8 1206.2,1282.5 1207.7,1282.8 1209.2,1284.8 1210.1,1305.5"/>
<polygon points="1216.1,1305.5 1217.0,1286.2 1218.5,1284.3 1220.0,1284.0 1221.5,1284.3 1223.0,1285.7 1223.9,1301.0"/>
<polygon points="1228.4,1301.0 1229.3,1271.9 1230.8,1269.2 1232.3,1268.7 1233.8,1269.2 1235.3,1271.8 1236.2,1299.4"/>
<polygon points="1250.6,1308.6 1251.5,1196.8 1253.0,1186.3 1254.5,1184.4 1256.0,1186.1 1257.5,1195.9 1258.4,1299.4"/>
<polygon points="1274.4,1305.5 1275.3,1257.2 1276.8,1252.6 1278.3,1251.8 1279.8,1252.6 1281.3,1256.9 1282.2,1302.5"/>
<polygon points="1301.1,1304.0 1302.0,1192.8 1303.5,1182.4 1305.0,1180.5 1306.5,1182.4 1308.0,1192.8 1308.9,1304.0"/>
<polygon points="1349.0,1305.5 1349.9,1266.9 1351.4,1263.2 1352.9,1262.6 1354.4,1263.2 1355.9,1266.3 1356.8,1299.4"/>
<polygon points="1378.9,1299.4 1379.8,1280.1 1381.3,1278.2 1382.8,1277.9 1384.3,1278.2 1385.8,1280.2 1386.7,1301.0"/>
<polygon points="1407.3,1305.5 1408.2,1144.0 1409.7,1128.8 1411.2,1126.1 1412.7,1128.7 1414.2,1143.4 1415.1,1299.4"/>
<polygon points="1427.2,1307.0 1428.1,1243.5 1429.6,1237.6 1431.1,1236.5 1432.6,1237.5 1434.1,1243.2 1434.5,1304.0"/>
<polygon points="1477.8,1304.0 1478.7,1272.2 1480.2,1269.2 1481.7,1268.7 1483.2,1269.2 1484.7,1272.1 1485.6,1302.5"/>
<polygon points="1489.4,1302.5 1490.3,1285.8 1491.8,1284.3 1493.3,1284.0 1494.8,1284.3 1496.3,1285.8 1497.2,1302.5"/>
<polygon points="1507.2,1302.5 1508.1,1230.7 1509.6,1223.9 1511.1,1222.7 1512.6,1223.8 1514.1,1230.2 1515.0,1297.9"/>
<polygon points="1536.3,1302.5 1537.2,1277.6 1538.7,1275.2 1540.2,1274.8 1541.7,1275.1 1543.2,1276.5 1544.1,1291.7"/>
<polygon points="1562.4,1305.5 1563.3,1243.4 1564.8,1237.5 1566.3,1236.5 1567.8,1237.5 1569.3,1243.2 1570.2,1304.0"/>
<polygon points="1581.6,1302.5 1582.5,1279.0 1584.0,1276.8 1585.5,1276.4 1587.0,1276.8 1588.5,1279.0 1589.4,1302.5"/>
<polygon points="1623.8,1304.0 1624.7,1250.2 1626.2,1245.1 1627.7,1244.2 1629.2,1245.1 1630.6,1249.9 1631.0,1301.0"/>
<polygon points="1656.0,1302.5 1656.9,1172.7 1658.4,1160.5 1659.9,1158.3 1661.4,1160.4 1662.9,1172.6 1663.8,1301.0"/>
<polygon points="1691.1,1296.3 1692.0,1242.5 1693.5,1237.4 1695.0,1236.5 1696.5,1237.5 1698.0,1242.8 1698.9,1300.0"/>
<polygon points="1758.9,1297.6 1759.8,1266.3 1761.3,1263.3 1762.8,1262.8 1764.3,1263.3 1765.8,1266.3 1766.7,1297.6"/>
<polygon points="1779.3,1300.0 1780.2,1243.8 1781.7,1238.5 1783.2,1237.6 1784.7,1238.5 1786.2,1243.8 1787.1,1300.0"/>
<polygon points="227.6,1095.0 229.3,1016.0 231.0,1009.0 233.0,1012.0 234.2,1050.0 235.0,1100.0"/>
<polygon points="214.8,905.0 216.5,850.0 218.5,840.0 220.0,830.0 221.0,860.0 218.0,900.0"/>
</g>
<polyline points="186.0,40.0 186.2,43.1 186.4,46.1 186.5,49.2 186.7,52.3 186.9,55.4 187.1,58.4 187.2,61.5 187.4,64.6 187.6,67.6 187.8,70.7 188.0,73.8 188.1,76.9 188.3,79.9 188.5,83.0 188.7,86.1 188.9,89.3 189.1,92.4 189.3,95.5 189.5,98.7 189.7,101.8 189.9,104.9 190.1,108.1 190.3,111.2 190.5,114.3 190.7,117.5 190.9,120.6 191.1,123.7 191.3,126.9 191.5,130.0 191.8,133.1 192.1,136.2 192.4,139.2 192.7,142.3 193.0,145.4 193.3,148.5 193.7,151.5 194.0,154.6 194.3,157.7 194.6,160.8 194.9,163.8 195.2,166.9 195.5,170.0 195.6,173.0 195.8,176.0 195.9,179.0 196.0,182.0 196.1,185.0 196.2,188.0 196.4,191.0 196.5,194.0 196.6,197.0 196.8,200.0 196.9,203.0 197.0,206.0 197.1,209.0 197.2,212.0 197.4,215.0 197.5,218.0 197.6,221.0 197.8,224.0 197.9,227.0 198.0,230.0 198.1,233.1 198.2,236.2 198.2,239.3 198.3,242.4 198.4,245.5 198.5,248.5 198.6,251.6 198.7,254.7 198.7,257.8 198.8,260.9 198.9,264.0 199.0,267.1 199.1,270.2 199.1,273.3 199.2,276.4 199.3,279.5 199.4,282.5 199.5,285.6 199.6,288.7 199.6,291.8 199.7,294.9 199.8,298.0 199.9,301.1 199.9,304.1 200.0,307.1 200.0,310.2 200.1,313.2 200.1,316.3 200.2,319.4 200.2,322.4 200.3,325.4 200.4,328.5 200.4,331.6 200.5,334.6 200.5,337.6 200.6,340.7 200.6,343.8 200.7,346.8 200.7,349.9 200.8,352.9 200.8,355.9 200.9,359.0 201.0,362.1 201.0,365.1 201.1,368.1 201.1,371.2 201.2,374.2 201.2,377.3 201.3,380.4 201.3,383.4 201.4,386.4 201.4,389.5 201.5,392.6 201.6,395.6 201.6,398.6 201.7,401.7 201.7,404.8 201.8,407.8 201.8,410.9 201.9,413.9 201.9,416.9 202.0,420.0 202.1,423.0 202.2,426.0 202.3,429.1 202.4,432.1 202.5,435.1 202.6,438.1 202.7,441.2 202.8,444.2 202.9,447.2 203.0,450.2 203.2,453.3 203.3,456.3 203.4,459.3 203.5,462.3 203.6,465.3 203.7,468.4 203.8,471.4 203.9,474.4 204.0,477.4 204.1,480.5 204.2,483.5 204.3,486.5 204.4,489.5 204.5,492.6 204.6,495.6 204.7,498.6 204.8,501.6 204.9,504.7 205.0,507.7 205.1,510.7 205.2,513.7 205.3,516.7 205.5,519.8 205.6,522.8 205.7,525.8 205.8,528.8 205.9,531.9 206.0,534.9 206.1,537.9 206.2,540.9 206.3,544.0 206.4,547.0 206.5,550.0 206.6,553.1 206.7,556.1 206.8,559.2 206.9,562.2 207.0,565.3 207.1,568.3 207.2,571.4 207.3,574.4 207.4,577.5 207.5,580.6 207.6,583.6 207.7,586.7 207.8,589.7 207.9,592.8 208.0,595.8 208.1,598.9 208.2,601.9 208.2,605.0 208.3,608.1 208.4,611.1 208.5,614.2 208.6,617.2 208.7,620.3 208.8,623.3 208.9,626.4 209.0,629.4 209.1,632.5 209.2,635.6 209.3,638.6 209.4,641.7 209.5,644.7 209.6,647.8 209.7,650.8 209.8,653.9 209.9,656.9 210.0,660.0 210.1,663.0 210.2,666.0 210.3,669.0 210.3,672.0 210.4,675.0 210.5,678.0 210.6,681.0 210.7,684.0 210.8,687.0 210.9,690.0 211.0,693.0 211.1,696.0 211.1,699.0 211.2,702.0 211.3,705.0 211.4,708.0 211.5,711.0 211.6,714.0 211.7,717.0 211.8,720.0 211.8,723.0 211.9,726.0 212.0,729.0 212.1,732.0 212.2,735.0 212.3,738.0 212.4,741.0 212.4,744.0 212.5,747.0 212.6,750.0 212.7,753.0 212.8,756.0 212.9,759.0 213.0,762.0 213.1,765.0 213.2,768.0 213.2,771.0 213.3,774.0 213.4,777.0 213.5,780.0 213.6,783.1 213.6,786.1 213.7,789.2 213.7,792.2 213.8,795.3 213.8,798.3 213.9,801.4 213.9,804.4 214.0,807.5 214.0,810.5 214.1,813.6 214.1,816.6 214.2,819.7 214.2,822.7 214.3,825.8 214.3,828.8 214.4,831.9 214.4,834.9 214.5,838.0 214.6,841.0 214.6,844.0 214.7,847.0 214.7,850.0 214.8,853.0 214.8,856.0 214.8,859.0 214.9,862.0 214.9,865.0 215.0,868.0 215.0,871.0 215.1,874.0 215.2,877.0 215.2,880.0 215.2,883.0 215.3,886.0 215.3,889.0 215.4,892.0 215.4,895.0 215.5,898.0 215.5,901.0 215.6,904.0 215.6,907.0 215.7,910.0 215.8,907.0 215.9,903.9 216.1,900.9 216.2,897.8 216.3,894.8 216.4,891.7 216.6,888.7 216.7,885.7 216.8,882.6 216.9,879.6 217.0,876.5 217.2,873.5 217.3,870.4 217.4,867.4 217.5,864.3 217.6,861.3 217.8,858.3 217.9,855.2 218.0,852.2 218.1,849.1 218.3,846.1 218.4,843.0 218.5,840.0 218.7,836.9 218.9,833.9 219.1,830.8 219.3,827.8 219.5,824.7 219.7,821.6 219.9,818.6 220.1,815.5 220.4,812.5 220.6,809.4 220.8,806.4 221.0,803.3 221.2,800.2 221.4,797.2 221.6,794.1 221.8,791.1 222.0,788.0 222.1,791.1 222.1,794.1 222.2,797.2 222.2,800.2 222.3,803.3 222.4,806.4 222.4,809.4 222.5,812.5 222.5,815.5 222.6,818.6 222.7,821.7 222.7,824.7 222.8,827.8 222.8,830.8 222.9,833.9 223.0,837.0 223.0,840.0 223.1,843.1 223.2,846.2 223.2,849.2 223.3,852.3 223.3,855.3 223.4,858.4 223.5,861.5 223.5,864.5 223.6,867.6 223.6,870.6 223.7,873.7 223.8,876.8 223.8,879.8 223.9,882.9 223.9,885.9 224.0,889.0 224.1,892.0 224.1,895.0 224.2,898.0 224.2,901.0 224.3,904.0 224.4,907.0 224.4,910.0 224.5,913.0 224.5,916.0 224.6,919.0 224.7,922.0 224.7,925.0 224.8,928.0 224.8,931.0 224.9,934.0 225.0,937.0 225.0,940.0 225.1,943.0 225.1,946.0 225.2,949.0 225.2,952.0 225.3,955.0 225.4,958.0 225.4,961.0 225.5,964.0 225.5,967.0 225.6,970.0 225.7,973.0 225.7,976.0 225.8,979.0 225.8,982.0 225.9,985.0 226.0,988.0 226.0,991.0 226.1,994.0 226.1,997.0 226.2,1000.0 226.2,1003.0 226.3,1006.0 226.3,1009.0 226.3,1012.0 226.4,1015.0 226.4,1018.0 226.5,1021.0 226.5,1024.0 226.5,1027.0 226.6,1030.0 226.6,1033.0 226.6,1036.0 226.7,1039.0 226.7,1042.0 226.8,1045.0 226.8,1048.0 226.8,1051.0 226.9,1054.0 226.9,1057.0 226.9,1060.0 227.0,1063.0 227.0,1066.0 227.0,1069.0 227.1,1072.0 227.1,1075.0 227.2,1078.0 227.2,1081.0 227.2,1084.0 227.3,1087.0 227.3,1090.0 227.8,1094.0 228.3,1098.0 228.3,1095.0 228.4,1091.9 228.4,1088.9 228.4,1085.9 228.5,1082.8 228.5,1079.8 228.6,1076.7 228.6,1073.7 228.6,1070.7 228.7,1067.6 228.7,1064.6 228.7,1061.6 228.8,1058.5 228.8,1055.5 228.9,1052.4 228.9,1049.4 228.9,1046.4 229.0,1043.3 229.0,1040.3 229.0,1037.3 229.1,1034.2 229.1,1031.2 229.2,1028.1 229.2,1025.1 229.2,1022.1 229.3,1019.0 229.3,1016.0 230.2,1012.5 231.0,1009.0 233.0,1012.0 233.1,1015.2 233.2,1018.3 233.3,1021.5 233.4,1024.7 233.5,1027.8 233.6,1031.0 233.7,1034.2 233.8,1037.3 233.9,1040.5 234.0,1043.7 234.1,1046.8 234.2,1050.0 234.2,1053.1 234.3,1056.2 234.3,1059.4 234.4,1062.5 234.4,1065.6 234.5,1068.8 234.5,1071.9 234.6,1075.0 234.7,1078.1 234.7,1081.2 234.8,1084.4 234.8,1087.5 234.8,1090.6 234.9,1093.8 234.9,1096.9 235.0,1100.0 235.1,1103.1 235.2,1106.2 235.4,1109.4 235.5,1112.5 235.6,1115.6 235.8,1118.8 235.9,1121.9 236.0,1125.0 236.1,1128.1 236.2,1131.2 236.4,1134.4 236.5,1137.5 236.6,1140.6 236.8,1143.8 236.9,1146.9 237.0,1150.0 237.4,1153.0 237.8,1156.0 238.1,1159.0 238.5,1162.0 238.8,1158.8 239.1,1155.6 239.4,1152.4 239.7,1149.2 240.0,1146.0 242.0,1150.0 243.0,1147.0 244.0,1144.0 244.3,1147.2 244.6,1150.4 244.9,1153.6 245.2,1156.8 245.5,1160.0 245.8,1163.2 246.1,1166.3 246.3,1169.5 246.6,1172.7 246.9,1175.8 247.2,1179.0 247.7,1179.0 247.7,1176.0 247.7,1173.0 247.7,1169.9 247.7,1166.9 247.7,1163.9 247.7,1160.9 247.7,1157.9 247.7,1154.8 247.7,1151.8 247.7,1148.8 247.7,1145.8 247.7,1142.7 247.8,1139.7 247.8,1136.7 247.8,1133.7 247.8,1130.7 247.8,1127.6 247.8,1124.6 247.8,1121.6 247.8,1118.6 247.8,1115.6 247.8,1112.5 247.8,1109.5 247.8,1106.5 247.8,1103.5 247.8,1100.5 247.8,1097.4 247.8,1094.4 247.8,1091.4 247.8,1088.4 247.8,1085.3 247.8,1082.3 247.8,1079.3 247.8,1076.3 247.8,1073.3 247.8,1070.2 247.9,1067.2 247.9,1064.2 247.9,1061.2 247.9,1058.2 247.9,1055.1 247.9,1052.1 247.9,1049.1 247.9,1046.1 247.9,1043.1 247.9,1040.0 247.9,1037.0 247.9,1034.0 247.9,1031.0 247.9,1027.9 247.9,1024.9 247.9,1021.9 247.9,1018.9 247.9,1015.9 247.9,1012.8 247.9,1009.8 247.9,1006.8 247.9,1003.8 247.9,1000.8 247.9,997.7 248.0,994.7 248.0,991.7 248.0,988.7 248.0,985.7 248.0,982.6 248.0,979.6 248.0,976.6 248.0,973.6 248.0,970.5 248.0,967.5 248.0,964.5 248.0,961.5 248.0,958.5 248.0,955.4 248.0,952.4 248.0,949.4 248.0,946.4 248.0,943.4 248.0,940.3 248.0,937.3 248.0,934.3 248.0,931.3 248.0,928.3 248.0,925.2 248.1,922.2 248.1,919.2 248.1,916.2 248.1,913.1 248.1,910.1 248.1,907.1 248.1,904.1 248.1,901.1 248.1,898.0 248.1,895.0 248.1,892.0 248.1,889.0 248.1,886.0 248.2,882.9 248.4,879.8 248.5,876.7 248.7,873.7 248.8,870.6 248.9,867.5 249.1,864.4 249.2,861.4 249.3,858.3 250.6,853.4 252.0,858.4 252.2,861.5 252.3,864.6 252.5,867.7 252.6,870.8 252.8,874.0 252.9,877.1 253.1,880.2 253.2,883.3 253.4,886.4 253.4,889.4 253.4,892.4 253.5,895.4 253.5,898.4 253.5,901.4 253.5,904.4 253.6,907.4 253.6,910.5 253.6,913.5 253.6,916.5 253.6,919.5 253.7,922.5 253.7,925.5 253.7,928.5 253.7,931.5 253.8,934.5 253.8,937.5 253.8,940.5 253.8,943.5 253.8,946.5 253.9,949.5 253.9,952.5 253.9,955.5 253.9,958.5 254.0,961.5 254.0,964.5 254.0,967.5 254.0,970.5 254.0,973.5 254.1,976.5 254.1,979.5 254.1,982.5 254.1,985.5 254.2,988.5 254.2,991.5 254.2,994.5 254.2,997.5 254.2,1000.5 254.3,1003.5 254.3,1006.5 254.3,1009.5 254.3,1012.5 254.4,1015.5 254.4,1018.5 254.4,1021.6 254.4,1024.6 254.4,1027.6 254.5,1030.6 254.5,1033.6 254.5,1036.6 254.5,1039.6 254.6,1042.6 254.6,1045.6 254.6,1048.6 254.6,1051.6 254.6,1054.6 254.7,1057.6 254.7,1060.6 254.7,1063.6 254.7,1066.6 254.8,1069.6 254.8,1072.6 254.8,1075.6 254.8,1078.6 254.8,1081.6 254.9,1084.6 254.9,1087.6 254.9,1090.6 254.9,1093.6 255.0,1096.6 255.0,1099.6 255.0,1102.6 255.0,1105.6 255.0,1108.6 255.1,1111.6 255.1,1114.6 255.1,1117.6 255.1,1120.6 255.2,1123.6 255.2,1126.6 255.2,1129.7 255.2,1132.7 255.2,1135.7 255.3,1138.7 255.3,1141.7 255.3,1144.7 255.3,1147.7 255.4,1150.7 255.4,1153.7 255.4,1156.7 255.4,1159.7 255.4,1162.7 255.5,1165.7 255.5,1168.7 255.5,1171.7 255.5,1174.7 255.6,1177.7 255.6,1180.7 255.6,1183.7 256.6,1183.7 257.0,1186.8 257.4,1190.0 257.8,1193.1 258.2,1196.3 258.6,1199.4 259.0,1202.6 259.4,1205.7 259.7,1208.8 260.1,1212.0 260.5,1215.1 260.9,1218.3 261.3,1221.4 261.7,1224.6 262.1,1227.7 262.6,1227.7 262.6,1224.6 262.6,1221.5 262.7,1218.3 262.7,1215.2 262.7,1212.1 262.7,1209.0 262.8,1205.9 262.8,1202.7 262.8,1199.6 262.8,1196.5 262.8,1193.4 262.9,1190.3 262.9,1187.1 262.9,1184.0 262.9,1180.9 263.0,1177.8 263.0,1174.7 263.0,1171.5 264.4,1166.2 265.7,1165.3 267.1,1166.8 267.8,1171.0 268.5,1175.2 268.6,1178.3 268.7,1181.4 268.7,1184.4 268.8,1187.5 268.9,1190.6 269.0,1193.7 269.0,1196.7 269.1,1199.8 269.2,1202.9 269.3,1206.0 269.3,1209.0 269.4,1212.1 269.5,1215.2 269.6,1218.3 269.6,1221.3 269.7,1224.4 269.8,1227.5 269.9,1230.6 269.9,1233.6 270.0,1236.7 270.1,1239.8 270.2,1242.9 270.2,1245.9 270.3,1249.0 270.4,1252.1 270.5,1255.2 270.5,1258.2 270.6,1261.3 270.7,1264.4 271.2,1264.4 274.7,1264.4 274.7,1261.4 274.8,1258.3 274.8,1255.3 274.8,1252.2 274.9,1249.2 274.9,1246.1 274.9,1243.1 275.0,1240.0 275.0,1237.0 275.0,1234.0 275.1,1230.9 275.1,1227.9 275.1,1224.8 275.2,1221.8 275.2,1218.7 275.2,1215.7 275.3,1212.6 275.3,1209.6 275.4,1206.6 275.4,1203.5 275.4,1200.5 275.5,1197.4 275.5,1194.4 275.5,1191.3 275.6,1188.3 275.6,1185.2 275.6,1182.2 275.7,1179.2 275.7,1176.1 275.7,1173.1 275.8,1170.0 275.8,1167.0 275.8,1163.9 275.9,1160.9 275.9,1157.8 275.9,1154.8 276.0,1151.8 276.0,1148.7 276.0,1145.7 276.1,1142.6 276.1,1139.6 276.1,1136.5 276.2,1133.5 276.2,1130.4 276.2,1127.4 276.3,1124.4 276.3,1121.3 276.3,1118.3 276.4,1115.2 276.4,1112.2 276.5,1109.1 276.5,1106.1 276.5,1103.0 276.6,1100.0 276.6,1097.0 276.6,1093.9 276.7,1090.9 276.7,1087.8 276.7,1084.8 276.8,1081.7 276.8,1078.7 276.8,1075.6 276.9,1072.6 276.9,1069.6 277.1,1066.5 277.4,1063.4 277.6,1060.3 277.8,1057.3 278.1,1054.2 278.3,1051.1 279.7,1047.9 281.1,1051.4 281.3,1054.6 281.6,1057.9 281.8,1061.2 282.0,1064.5 282.3,1067.7 282.5,1071.0 282.5,1074.0 282.6,1077.1 282.6,1080.1 282.6,1083.1 282.7,1086.1 282.7,1089.1 282.7,1092.1 282.8,1095.1 282.8,1098.2 282.8,1101.2 282.9,1104.2 282.9,1107.2 282.9,1110.2 282.9,1113.2 283.0,1116.3 283.0,1119.3 283.0,1122.3 283.1,1125.3 283.1,1128.3 283.1,1131.3 283.2,1134.3 283.2,1137.4 283.2,1140.4 283.3,1143.4 283.3,1146.4 283.3,1149.4 283.4,1152.4 283.4,1155.5 283.4,1158.5 283.5,1161.5 283.5,1164.5 283.5,1167.5 283.6,1170.5 283.6,1173.6 283.6,1176.6 283.6,1179.6 283.7,1182.6 283.7,1185.6 283.7,1188.6 283.8,1191.6 283.8,1194.7 283.8,1197.7 283.9,1200.7 283.9,1203.7 283.9,1206.7 284.0,1209.7 284.0,1212.8 284.0,1215.8 284.1,1218.8 284.1,1221.8 284.1,1224.8 284.2,1227.8 284.2,1230.8 284.2,1233.9 284.3,1236.9 284.3,1239.9 284.3,1242.9 284.3,1245.9 284.4,1248.9 284.4,1252.0 284.4,1255.0 284.5,1258.0 284.5,1261.0 284.5,1264.0 284.6,1267.0 284.6,1270.1 284.6,1273.1 284.7,1276.1 284.7,1279.1 285.9,1279.1 289.4,1279.1 293.0,1279.1 293.0,1276.1 293.1,1273.0 293.1,1270.0 293.2,1266.9 293.2,1263.9 293.2,1260.8 293.3,1257.8 293.3,1254.7 293.3,1251.7 293.4,1248.6 293.4,1245.6 293.5,1242.5 293.5,1239.5 293.5,1236.5 293.6,1233.4 293.6,1230.4 293.6,1227.3 293.7,1224.3 293.7,1221.2 293.8,1218.2 293.8,1215.1 293.8,1212.1 293.9,1209.0 293.9,1206.0 293.9,1202.9 294.0,1199.9 294.0,1196.9 294.1,1193.8 294.1,1190.8 294.1,1187.7 294.2,1184.7 294.2,1181.6 294.3,1178.6 294.3,1175.5 294.3,1172.5 294.4,1169.4 294.4,1166.4 294.4,1163.4 294.5,1160.3 294.5,1157.3 294.6,1154.2 294.6,1151.2 294.6,1148.1 294.7,1145.1 294.7,1142.0 294.7,1139.0 294.8,1135.9 294.8,1132.9 294.9,1129.8 294.9,1126.8 294.9,1123.8 295.0,1120.7 295.0,1117.7 295.0,1114.6 295.1,1111.6 295.1,1108.5 295.2,1105.5 295.2,1102.4 295.5,1099.1 295.8,1095.8 296.0,1092.4 296.3,1089.1 296.6,1085.7 298.0,1082.8 299.4,1085.8 299.7,1089.2 300.0,1092.6 300.2,1096.0 300.5,1099.4 300.8,1102.8 300.8,1105.8 300.9,1108.8 300.9,1111.8 300.9,1114.8 301.0,1117.8 301.0,1120.8 301.1,1123.8 301.1,1126.8 301.1,1129.8 301.2,1132.8 301.2,1135.8 301.2,1138.8 301.3,1141.8 301.3,1144.8 301.4,1147.8 301.4,1150.8 301.4,1153.8 301.5,1156.8 301.5,1159.8 301.5,1162.8 301.6,1165.8 301.6,1168.8 301.6,1171.8 301.7,1174.8 301.7,1177.8 301.8,1180.8 301.8,1183.8 301.8,1186.8 301.9,1189.8 301.9,1192.8 301.9,1195.8 302.0,1198.8 302.0,1201.8 302.0,1204.8 302.1,1207.8 302.1,1210.8 302.2,1213.8 302.2,1216.8 302.2,1219.8 302.3,1222.8 302.3,1225.8 302.3,1228.8 302.4,1231.8 302.4,1234.8 302.4,1237.8 302.5,1240.8 302.5,1243.8 302.6,1246.8 302.6,1249.8 302.6,1252.8 302.7,1255.8 302.7,1258.8 302.7,1261.8 302.8,1264.8 302.8,1267.8 302.9,1270.8 302.9,1273.8 302.9,1276.8 303.0,1279.8 303.0,1282.8 304.3,1282.8 305.5,1282.8 305.7,1279.7 305.8,1276.7 306.0,1273.6 306.2,1270.6 306.3,1267.5 306.5,1264.5 306.7,1261.4 306.9,1258.4 307.0,1255.3 307.2,1252.3 307.4,1249.2 307.5,1246.2 307.7,1243.1 309.1,1239.4 310.5,1238.7 311.9,1239.4 313.3,1243.7 313.5,1246.8 313.6,1250.0 313.8,1253.2 313.9,1256.4 314.1,1259.6 314.2,1262.8 314.4,1266.0 314.6,1269.2 314.7,1272.4 314.9,1275.5 315.0,1278.7 315.2,1281.9 315.3,1285.1 315.5,1288.3 316.4,1288.3 317.6,1288.3 317.7,1285.3 317.8,1282.2 317.9,1279.2 317.9,1276.1 318.0,1273.1 318.1,1270.0 318.2,1267.0 318.3,1263.9 318.4,1260.9 318.4,1257.8 318.5,1254.8 318.6,1251.7 318.7,1248.7 318.8,1245.6 318.9,1242.6 319.0,1239.5 319.0,1236.5 319.1,1233.4 319.2,1230.4 319.3,1227.3 319.4,1224.3 319.5,1221.2 319.5,1218.2 319.6,1215.1 319.7,1212.1 319.8,1209.0 320.5,1205.3 321.2,1201.5 322.6,1200.2 324.0,1201.5 324.7,1205.4 325.4,1209.2 325.5,1212.3 325.6,1215.4 325.7,1218.5 325.7,1221.6 325.8,1224.7 325.9,1227.8 326.0,1230.9 326.1,1234.0 326.2,1237.2 326.2,1240.3 326.3,1243.4 326.4,1246.5 326.5,1249.6 326.6,1252.7 326.7,1255.8 326.8,1258.9 326.8,1262.0 326.9,1265.1 327.0,1268.2 327.1,1271.3 327.2,1274.5 327.3,1277.6 327.3,1280.7 327.4,1283.8 327.5,1286.9 327.6,1290.0 330.0,1290.0 330.5,1290.0 330.5,1287.0 330.6,1283.9 330.6,1280.9 330.6,1277.9 330.7,1274.9 330.7,1271.8 330.7,1268.8 330.8,1265.8 330.8,1262.8 330.8,1259.7 330.9,1256.7 330.9,1253.7 330.9,1250.6 331.0,1247.6 331.0,1244.6 331.0,1241.6 331.1,1238.5 331.1,1235.5 331.1,1232.5 331.2,1229.5 331.2,1226.4 331.2,1223.4 331.3,1220.4 331.3,1217.3 331.3,1214.3 331.4,1211.3 331.4,1208.3 331.4,1205.2 331.5,1202.2 331.5,1199.2 331.5,1196.2 331.6,1193.1 331.6,1190.1 331.6,1187.1 331.7,1184.0 331.7,1181.0 331.7,1178.0 331.8,1175.0 331.8,1171.9 331.8,1168.9 331.9,1165.9 331.9,1162.9 331.9,1159.8 332.0,1156.8 332.0,1153.8 332.0,1150.7 332.1,1147.7 332.1,1144.7 332.1,1141.7 332.2,1138.6 332.2,1135.6 332.2,1132.6 332.3,1129.6 332.3,1126.5 332.3,1123.5 332.4,1120.5 332.4,1117.4 332.4,1114.4 332.5,1111.4 332.5,1108.4 332.5,1105.3 332.6,1102.3 332.6,1099.3 332.6,1096.3 332.7,1093.2 332.7,1090.2 332.9,1087.1 333.2,1083.9 333.4,1080.8 333.6,1077.6 333.9,1074.5 334.1,1071.3 335.5,1068.0 336.9,1071.3 337.1,1074.3 337.4,1077.4 337.6,1080.5 337.8,1083.6 338.1,1086.7 338.3,1089.8 338.3,1092.8 338.3,1095.8 338.3,1098.8 338.4,1101.8 338.4,1104.8 338.4,1107.8 338.4,1110.9 338.4,1113.9 338.4,1116.9 338.4,1119.9 338.5,1122.9 338.5,1125.9 338.5,1128.9 338.5,1131.9 338.5,1135.0 338.5,1138.0 338.5,1141.0 338.5,1144.0 338.6,1147.0 338.6,1150.0 338.6,1153.0 338.6,1156.0 338.6,1159.1 338.6,1162.1 338.6,1165.1 338.7,1168.1 338.7,1171.1 338.7,1174.1 338.7,1177.1 338.7,1180.1 338.7,1183.2 338.7,1186.2 338.8,1189.2 338.8,1192.2 338.8,1195.2 338.8,1198.2 338.8,1201.2 338.8,1204.3 338.8,1207.3 338.9,1210.3 338.9,1213.3 338.9,1216.3 338.9,1219.3 338.9,1222.3 338.9,1225.3 338.9,1228.4 339.0,1231.4 339.0,1234.4 339.0,1237.4 339.0,1240.4 339.0,1243.4 339.0,1246.4 339.0,1249.4 339.0,1252.5 339.1,1255.5 339.1,1258.5 339.1,1261.5 339.1,1264.5 339.1,1267.5 339.1,1270.5 339.1,1273.5 339.2,1276.6 339.2,1279.6 339.2,1282.6 339.2,1285.6 339.7,1285.6 342.9,1287.0 346.1,1288.3 349.3,1291.5 350.3,1291.5 350.4,1286.8 350.4,1286.9 350.5,1282.3 350.6,1279.6 350.7,1275.8 350.8,1271.8 350.8,1269.1 350.9,1265.9 351.0,1262.7 351.1,1259.6 351.1,1256.4 351.2,1253.2 352.7,1249.5 354.2,1248.9 355.6,1249.4 357.1,1252.0 357.1,1255.1 357.2,1258.2 357.2,1261.3 357.3,1264.3 357.3,1267.4 357.4,1270.5 357.4,1274.6 357.5,1277.0 357.5,1279.8 358.0,1279.8 360.5,1279.8 360.6,1277.8 360.6,1274.1 360.7,1270.2 360.8,1267.0 360.9,1263.9 360.9,1260.7 361.0,1257.5 361.1,1254.3 361.2,1251.1 361.2,1247.9 361.3,1244.7 361.4,1241.5 362.9,1237.9 364.4,1237.3 365.9,1237.6 367.4,1239.6 367.5,1243.1 367.7,1246.6 367.8,1250.1 368.0,1253.5 368.1,1257.0 368.3,1260.5 370.6,1260.5 370.8,1263.7 371.1,1267.0 371.3,1270.2 371.6,1274.9 371.8,1276.4 372.1,1278.3 372.3,1281.5 372.5,1287.3 372.8,1288.1 373.0,1293.4 373.3,1296.5 373.5,1299.2 376.0,1299.2 376.1,1294.1 376.1,1294.1 376.2,1287.7 376.2,1288.2 376.3,1284.9 376.3,1279.0 376.4,1278.1 376.4,1275.0 376.5,1270.8 376.6,1267.6 376.6,1264.5 376.7,1261.3 376.7,1258.2 376.8,1255.0 376.8,1251.9 376.9,1248.7 378.4,1243.9 379.9,1243.1 381.4,1243.7 382.9,1247.0 383.0,1250.1 383.0,1253.3 383.1,1256.5 383.2,1259.6 383.3,1262.8 383.3,1266.0 383.4,1269.1 383.5,1270.7 383.6,1276.2 383.6,1277.0 383.7,1281.8 384.2,1281.8 384.7,1281.8 384.8,1280.1 384.9,1275.7 385.0,1271.3 385.1,1267.8 386.5,1266.5 388.0,1266.3 389.5,1266.6 391.0,1268.6 391.1,1274.2 391.3,1273.6 391.4,1278.3 391.6,1283.1 391.8,1286.5 391.9,1289.5 393.8,1289.5 398.6,1289.5 398.7,1285.1 398.7,1285.2 398.8,1282.0 398.8,1276.6 398.9,1272.9 399.0,1271.4 399.0,1268.4 399.1,1265.4 399.1,1262.3 399.2,1259.3 399.3,1256.3 399.3,1253.3 399.4,1250.3 399.4,1247.2 399.5,1244.2 401.0,1240.0 402.5,1239.2 404.0,1239.8 405.5,1243.5 405.5,1246.7 405.6,1249.8 405.6,1253.0 405.6,1256.2 405.7,1259.4 405.7,1262.6 405.7,1265.8 405.8,1269.0 405.8,1273.0 405.8,1275.0 405.9,1279.3 405.9,1281.8 406.4,1281.8 408.7,1285.0 410.9,1287.8 413.2,1291.5 414.4,1292.8 415.6,1296.6 416.8,1301.4 418.0,1305.0 420.9,1305.0 420.9,1302.9 421.0,1298.6 421.0,1296.9 421.0,1292.9 421.0,1291.4 421.1,1287.3 421.1,1282.8 421.1,1278.9 421.1,1275.5 421.2,1272.4 421.2,1271.3 421.2,1268.3 421.3,1265.2 421.3,1262.2 421.3,1259.1 421.3,1256.0 421.4,1253.0 421.4,1249.9 421.4,1246.9 421.4,1243.8 421.5,1240.7 421.5,1237.7 421.5,1234.6 421.6,1231.6 421.6,1228.5 421.6,1225.4 421.6,1222.4 421.7,1219.3 421.7,1216.3 421.7,1213.2 421.7,1210.1 421.8,1207.1 421.8,1204.0 422.3,1200.8 422.8,1197.7 423.3,1194.5 424.8,1192.8 426.3,1194.3 427.1,1198.6 427.8,1202.9 427.8,1205.9 427.9,1208.9 427.9,1211.9 427.9,1214.9 427.9,1217.9 428.0,1221.0 428.0,1224.0 428.0,1227.0 428.1,1230.0 428.1,1233.0 428.1,1236.1 428.2,1239.1 428.2,1242.1 428.2,1245.1 428.2,1248.1 428.3,1251.1 428.3,1254.2 428.3,1257.2 428.4,1260.2 428.4,1263.2 428.4,1266.2 428.5,1269.3 428.5,1273.9 428.5,1276.9 428.6,1279.4 428.6,1279.6 428.6,1285.1 428.6,1285.7 428.7,1292.1 428.7,1293.4 430.6,1293.4 434.5,1296.0 438.3,1297.3 443.7,1297.3 443.7,1295.4 443.7,1291.7 443.8,1287.9 443.8,1286.7 443.8,1284.2 443.8,1278.0 443.9,1275.9 443.9,1274.1 443.9,1270.1 443.9,1267.1 444.0,1264.0 444.0,1261.0 444.0,1258.0 444.0,1255.0 444.1,1251.9 444.1,1248.9 444.1,1245.9 444.1,1242.9 444.2,1239.8 444.2,1236.8 444.2,1233.8 444.2,1230.8 444.2,1227.7 444.3,1224.7 444.3,1221.7 444.3,1218.7 444.3,1215.6 444.4,1212.6 444.4,1209.6 444.4,1206.6 444.4,1203.5 444.5,1200.5 444.5,1197.5 444.5,1194.5 444.5,1191.4 444.6,1188.4 444.6,1185.4 444.6,1182.4 445.1,1178.8 445.6,1175.1 446.1,1171.5 447.6,1169.6 449.1,1171.4 449.6,1174.7 450.1,1178.1 450.6,1181.4 450.6,1184.4 450.6,1187.5 450.7,1190.5 450.7,1193.5 450.7,1196.6 450.7,1199.6 450.8,1202.6 450.8,1205.7 450.8,1208.7 450.8,1211.7 450.9,1214.8 450.9,1217.8 450.9,1220.8 450.9,1223.9 450.9,1226.9 451.0,1229.9 451.0,1233.0 451.0,1236.0 451.0,1239.1 451.1,1242.1 451.1,1245.1 451.1,1248.2 451.1,1251.2 451.1,1254.2 451.2,1257.3 451.2,1260.3 451.2,1263.3 451.2,1266.4 451.3,1269.4 451.3,1273.2 451.3,1275.1 451.3,1278.3 451.4,1283.6 451.4,1283.6 451.4,1287.6 451.9,1287.6 453.2,1289.6 454.4,1294.9 455.7,1297.3 457.1,1293.3 458.5,1293.0 459.9,1287.4 461.2,1287.0 462.6,1281.6 464.0,1280.7 465.4,1276.0 467.3,1280.0 469.2,1282.8 471.2,1283.4 473.1,1287.6 474.6,1289.0 476.0,1291.3 477.4,1294.9 478.9,1299.2 480.8,1299.2 480.8,1296.8 480.9,1291.1 480.9,1288.7 481.0,1287.1 481.0,1282.2 481.0,1279.8 481.1,1276.3 481.1,1275.2 481.2,1271.3 481.2,1268.2 481.2,1265.1 481.3,1262.0 481.3,1258.9 481.3,1255.8 481.4,1252.7 481.4,1249.6 481.5,1246.4 481.5,1243.3 481.5,1240.2 481.6,1237.1 481.6,1234.0 481.7,1230.9 481.7,1227.8 482.4,1224.5 483.2,1221.1 484.7,1219.9 486.2,1221.1 486.9,1224.5 487.7,1227.8 487.7,1230.9 487.7,1234.0 487.8,1237.1 487.8,1240.2 487.8,1243.3 487.8,1246.4 487.8,1249.6 487.8,1252.7 487.9,1255.8 487.9,1258.9 487.9,1262.0 487.9,1265.1 487.9,1268.2 487.9,1271.3 488.0,1272.7 488.0,1279.7 488.0,1281.0 488.0,1284.6 488.0,1287.0 488.0,1289.9 488.1,1295.1 488.1,1297.8 488.1,1299.2 488.6,1299.2 492.2,1300.6 495.9,1299.2 495.9,1294.1 496.0,1293.5 496.0,1292.1 496.0,1287.7 496.1,1284.1 496.1,1281.7 496.1,1276.6 496.2,1276.0 496.2,1271.9 496.2,1268.9 496.3,1265.9 496.3,1262.8 496.3,1259.8 496.4,1256.8 496.4,1253.8 496.4,1250.7 496.5,1247.7 496.5,1244.7 496.5,1241.6 496.6,1238.6 496.6,1235.6 496.6,1232.5 496.7,1229.5 496.7,1226.5 496.7,1223.4 496.8,1220.4 496.8,1217.4 497.6,1213.5 498.3,1209.7 499.8,1208.3 501.3,1209.7 502.1,1213.7 502.8,1217.8 502.8,1220.8 502.9,1223.9 502.9,1226.9 502.9,1229.9 503.0,1233.0 503.0,1236.0 503.0,1239.1 503.1,1242.1 503.1,1245.2 503.1,1248.2 503.2,1251.3 503.2,1254.3 503.2,1257.3 503.2,1260.4 503.3,1263.4 503.3,1266.5 503.3,1269.5 503.4,1273.8 503.4,1273.7 503.4,1278.7 503.5,1282.1 503.5,1284.1 503.5,1288.6 503.6,1292.7 503.6,1295.7 503.6,1296.1 503.7,1298.4 503.7,1303.0 506.0,1303.0 510.1,1304.6 514.1,1303.0 514.1,1300.4 514.2,1298.3 514.2,1295.4 514.2,1289.8 514.3,1288.1 514.3,1283.8 514.3,1282.9 514.3,1279.4 514.4,1274.3 514.4,1272.4 514.4,1269.3 514.5,1266.3 514.5,1263.2 514.5,1260.2 514.6,1257.1 514.6,1254.0 514.6,1251.0 514.7,1247.9 514.7,1244.9 514.7,1241.8 514.8,1238.7 514.8,1235.7 514.8,1232.6 514.8,1229.6 514.9,1226.5 514.9,1223.4 514.9,1220.4 515.0,1217.3 515.0,1214.3 515.8,1210.1 516.5,1205.9 518.0,1204.4 519.5,1205.7 520.2,1209.4 521.0,1213.1 521.0,1216.1 521.1,1219.1 521.1,1222.2 521.1,1225.2 521.2,1228.2 521.2,1231.2 521.2,1234.2 521.3,1237.2 521.3,1240.2 521.3,1243.3 521.4,1246.3 521.4,1249.3 521.5,1252.3 521.5,1255.3 521.5,1258.3 521.6,1261.4 521.6,1264.4 521.6,1267.4 521.7,1270.4 521.7,1273.8 521.7,1275.3 521.8,1278.0 521.8,1282.3 521.8,1283.6 521.9,1288.5 521.9,1291.5 522.5,1291.5 524.7,1296.1 527.0,1298.2 529.2,1299.4 530.1,1294.4 531.0,1294.7 532.0,1291.1 532.9,1288.0 533.8,1284.0 535.7,1285.8 537.6,1291.7 538.3,1291.7 538.3,1289.8 538.4,1284.2 538.4,1283.8 538.5,1278.6 538.5,1275.7 538.6,1271.7 538.6,1270.1 538.6,1267.0 538.7,1263.9 538.7,1260.8 538.8,1257.7 538.8,1254.6 538.9,1251.5 538.9,1248.4 538.9,1245.3 539.0,1242.3 539.0,1239.2 539.1,1236.1 539.1,1233.0 539.2,1229.9 539.2,1226.8 540.0,1223.7 540.7,1220.7 542.2,1219.6 543.7,1220.8 544.5,1224.2 545.2,1227.6 545.2,1230.7 545.3,1233.8 545.3,1236.9 545.4,1240.1 545.4,1243.2 545.4,1246.3 545.5,1249.4 545.5,1252.6 545.6,1255.7 545.6,1258.8 545.6,1261.9 545.7,1265.1 545.7,1268.2 545.7,1271.3 545.8,1276.0 545.8,1276.3 545.9,1282.3 545.9,1283.8 545.9,1285.4 546.0,1290.7 546.0,1293.3 546.1,1294.2 546.1,1299.4 546.8,1299.4 550.2,1300.8 553.7,1299.4 556.3,1299.4 556.4,1295.4 556.4,1291.2 556.5,1291.5 556.5,1288.3 556.6,1283.7 556.7,1279.8 556.7,1278.3 556.8,1275.5 556.8,1272.9 556.9,1269.0 557.0,1266.0 557.0,1263.0 557.1,1259.9 557.1,1256.9 557.2,1253.9 558.7,1249.6 560.2,1248.8 561.7,1249.6 563.2,1253.9 563.3,1256.9 563.3,1259.9 563.4,1263.0 563.4,1266.0 563.5,1269.0 563.6,1272.0 563.6,1275.4 563.7,1279.1 563.7,1279.8 563.8,1282.8 563.9,1287.2 563.9,1291.4 564.0,1294.7 564.0,1297.9 564.1,1299.4 566.0,1299.4 569.1,1300.7 572.1,1303.4 575.2,1304.0 579.0,1304.0 579.0,1299.2 579.1,1297.4 579.1,1292.9 579.1,1293.2 579.2,1290.9 579.2,1286.3 579.2,1283.6 579.3,1278.9 579.3,1277.7 579.3,1271.5 579.4,1270.3 579.4,1267.2 579.4,1264.1 579.5,1261.1 579.5,1258.0 579.5,1254.9 579.6,1251.9 579.6,1248.8 579.6,1245.7 579.7,1242.7 579.7,1239.6 579.7,1236.5 579.8,1233.5 579.8,1230.4 579.8,1227.3 579.9,1224.3 579.9,1221.2 580.6,1217.3 581.4,1213.4 582.9,1212.0 584.4,1213.3 585.1,1216.8 585.9,1220.4 585.9,1223.5 586.0,1226.5 586.0,1229.5 586.0,1232.6 586.1,1235.6 586.1,1238.6 586.2,1241.7 586.2,1244.7 586.2,1247.7 586.3,1250.8 586.3,1253.8 586.3,1256.8 586.4,1259.9 586.4,1262.9 586.4,1266.0 586.5,1269.0 586.5,1271.5 586.5,1274.4 586.6,1279.7 586.6,1279.7 586.7,1282.7 586.7,1285.4 586.7,1291.7 586.8,1292.5 586.8,1296.3 587.5,1296.3 591.4,1299.6 595.2,1299.4 597.4,1299.4 597.6,1295.1 597.8,1294.0 598.1,1287.7 598.3,1285.5 599.8,1284.2 601.3,1284.0 602.8,1284.2 604.3,1285.5 604.5,1290.8 604.8,1294.6 605.0,1297.6 605.2,1299.4 609.0,1299.4 611.2,1299.4 611.2,1297.2 611.3,1295.0 611.3,1292.0 611.3,1289.1 611.4,1283.0 611.4,1282.5 611.4,1279.1 611.5,1274.1 611.5,1271.7 611.5,1268.6 611.6,1265.5 611.6,1262.4 611.7,1259.4 611.7,1256.3 611.7,1253.2 611.8,1250.1 611.8,1247.0 611.8,1243.9 611.9,1240.9 611.9,1237.8 611.9,1234.7 612.0,1231.6 612.0,1228.5 612.0,1225.5 612.1,1222.4 612.1,1219.3 612.9,1215.5 613.6,1211.7 615.1,1210.4 616.6,1211.7 617.4,1215.3 618.1,1219.0 618.1,1222.1 618.2,1225.2 618.2,1228.3 618.2,1231.4 618.3,1234.5 618.3,1237.5 618.4,1240.6 618.4,1243.7 618.4,1246.8 618.5,1249.9 618.5,1253.0 618.5,1256.1 618.6,1259.2 618.6,1262.3 618.6,1265.4 618.7,1268.5 618.7,1271.6 618.7,1273.2 618.8,1279.5 618.8,1280.7 618.9,1284.1 618.9,1288.7 618.9,1290.0 619.0,1292.1 619.0,1296.3 621.2,1296.3 624.3,1298.2 627.3,1298.5 630.4,1299.4 632.7,1299.4 632.8,1295.2 632.9,1293.8 633.0,1291.5 633.1,1285.4 633.2,1284.7 633.3,1281.2 633.4,1277.0 633.5,1272.3 633.6,1270.4 635.1,1267.7 636.6,1267.2 638.1,1267.8 639.6,1270.9 639.7,1274.6 639.8,1275.9 639.8,1278.8 639.9,1284.5 640.0,1284.9 640.1,1287.2 640.2,1293.5 640.3,1297.1 640.3,1297.1 640.4,1300.6 640.5,1304.0 642.7,1304.0 647.2,1304.0 647.3,1301.2 647.3,1299.1 647.4,1292.8 647.4,1292.6 647.5,1287.7 647.5,1287.8 647.6,1282.5 647.7,1281.8 647.7,1276.6 647.8,1274.5 647.8,1270.8 647.9,1267.8 647.9,1264.7 648.0,1261.7 648.0,1258.7 648.1,1255.7 649.6,1251.1 651.1,1250.3 652.6,1251.0 654.1,1255.2 654.2,1258.4 654.2,1261.5 654.3,1264.7 654.4,1267.8 654.4,1271.0 654.5,1272.1 654.5,1276.0 654.6,1279.6 654.7,1283.0 654.7,1285.3 654.8,1289.6 654.9,1291.3 654.9,1296.5 655.0,1299.4 656.5,1299.4 657.6,1298.6 658.8,1295.3 660.0,1291.5 661.1,1290.3 662.2,1286.3 663.4,1282.5 664.8,1285.8 666.1,1287.7 667.4,1288.8 668.8,1293.3 670.7,1291.9 672.6,1287.1 673.5,1291.7 674.3,1294.2 675.2,1296.6 676.0,1300.0 676.9,1303.5 677.8,1306.4 678.6,1308.4 679.5,1310.1 681.4,1310.1 681.4,1304.9 681.4,1306.0 681.5,1301.2 681.5,1297.7 681.5,1294.5 681.5,1290.8 681.5,1286.7 681.5,1286.2 681.6,1283.1 681.6,1277.7 681.6,1278.4 681.6,1275.2 681.6,1270.4 681.6,1267.4 681.7,1264.3 681.7,1261.3 681.7,1258.2 681.7,1255.1 681.7,1252.1 681.7,1249.0 681.8,1246.0 681.8,1242.9 681.8,1239.9 681.8,1236.8 681.8,1233.8 681.8,1230.7 681.9,1227.7 681.9,1224.6 681.9,1221.6 681.9,1218.5 681.9,1215.5 682.0,1212.4 682.0,1209.3 682.0,1206.3 682.0,1203.2 682.0,1200.2 682.0,1197.1 682.1,1194.1 682.1,1191.0 682.1,1188.0 682.1,1184.9 682.1,1181.9 682.1,1178.8 682.2,1175.8 682.2,1172.7 682.2,1169.7 682.2,1166.6 682.2,1163.6 682.2,1160.5 682.3,1157.4 682.3,1154.4 682.3,1151.3 682.6,1148.3 682.9,1145.3 683.2,1142.3 683.5,1139.3 683.8,1136.3 685.3,1133.7 686.8,1136.2 687.2,1139.8 687.5,1143.3 687.9,1146.9 688.3,1150.4 688.3,1153.4 688.3,1156.5 688.3,1159.5 688.4,1162.5 688.4,1165.5 688.4,1168.5 688.4,1171.5 688.4,1174.5 688.4,1177.5 688.4,1180.5 688.5,1183.6 688.5,1186.6 688.5,1189.6 688.5,1192.6 688.5,1195.6 688.5,1198.6 688.5,1201.6 688.6,1204.6 688.6,1207.6 688.6,1210.7 688.6,1213.7 688.6,1216.7 688.6,1219.7 688.6,1222.7 688.6,1225.7 688.7,1228.7 688.7,1231.7 688.7,1234.7 688.7,1237.8 688.7,1240.8 688.7,1243.8 688.7,1246.8 688.8,1249.8 688.8,1252.8 688.8,1255.8 688.8,1258.8 688.8,1261.9 688.8,1264.9 688.8,1267.9 688.9,1270.9 688.9,1275.5 688.9,1277.1 688.9,1279.4 688.9,1282.8 688.9,1285.4 688.9,1291.0 689.0,1293.8 689.0,1296.7 689.0,1298.1 689.0,1301.0 689.5,1301.0 693.7,1302.5 697.9,1304.0 701.7,1304.0 701.8,1301.7 701.8,1296.7 701.9,1293.1 701.9,1293.5 702.0,1287.2 702.0,1284.0 702.1,1281.8 702.1,1276.9 702.2,1275.6 702.2,1270.8 702.3,1269.2 702.3,1266.0 702.4,1262.8 702.4,1259.7 702.5,1256.5 702.5,1253.3 702.6,1250.2 704.1,1245.1 705.6,1244.2 707.1,1245.1 708.6,1250.0 708.7,1253.1 708.7,1256.2 708.8,1259.3 708.8,1262.4 708.9,1265.5 708.9,1268.5 709.0,1271.6 709.0,1276.2 709.1,1276.0 709.1,1282.2 709.2,1283.0 709.2,1288.3 709.3,1291.5 709.3,1295.2 709.4,1294.9 709.4,1301.5 709.5,1302.5 711.7,1302.5 715.0,1304.0 718.0,1304.0 718.1,1299.3 718.2,1297.0 718.3,1292.3 718.4,1291.3 718.5,1286.3 718.5,1285.2 718.6,1283.7 718.7,1279.8 718.8,1276.1 718.9,1272.2 720.4,1269.2 721.9,1268.7 723.4,1269.2 724.9,1271.9 725.0,1273.4 725.1,1280.5 725.2,1281.0 725.3,1286.8 725.4,1286.5 725.5,1290.4 725.6,1296.5 725.7,1298.9 725.8,1301.0 727.3,1301.0 730.7,1299.6 734.1,1301.0 734.2,1297.7 734.2,1295.0 734.3,1290.6 734.4,1287.3 734.5,1283.6 734.5,1282.4 734.6,1278.8 734.7,1275.4 734.8,1272.9 734.9,1269.9 734.9,1266.8 735.0,1263.7 736.5,1260.1 738.0,1259.5 739.5,1260.2 741.0,1264.0 741.1,1267.0 741.1,1270.1 741.2,1272.5 741.3,1275.8 741.3,1280.5 741.4,1280.9 741.5,1283.7 741.6,1288.4 741.6,1290.8 741.7,1294.6 741.8,1299.4 741.8,1302.9 741.9,1304.0 744.1,1304.0 746.4,1304.0 746.5,1302.4 746.7,1299.9 746.8,1293.8 747.0,1291.3 747.1,1287.3 747.3,1286.0 748.8,1284.3 750.3,1284.0 751.8,1284.3 753.3,1286.2 753.4,1288.4 753.6,1291.5 753.8,1294.7 753.9,1298.3 754.0,1304.2 754.2,1305.5 754.9,1305.5 757.9,1305.5 758.0,1302.4 758.0,1300.9 758.1,1296.1 758.2,1293.9 758.2,1290.3 758.3,1286.8 758.4,1285.1 758.5,1280.4 758.5,1276.9 758.6,1272.5 758.7,1270.5 758.7,1267.3 758.8,1264.1 760.3,1260.2 761.8,1259.5 763.3,1260.2 764.8,1264.0 764.9,1267.0 764.9,1270.1 765.0,1271.4 765.1,1276.0 765.1,1278.9 765.2,1280.8 765.3,1287.5 765.4,1286.5 765.4,1291.4 765.5,1293.6 765.6,1297.4 765.6,1302.4 765.7,1304.0 767.1,1304.0 768.0,1303.1 769.0,1297.8 769.9,1296.2 770.9,1294.1 771.8,1288.6 772.8,1286.1 773.7,1283.4 774.7,1282.3 775.6,1277.9 778.7,1275.0 781.7,1275.6 784.8,1271.8 785.4,1273.5 785.9,1278.7 786.5,1281.6 787.0,1282.0 787.6,1286.4 788.1,1291.7 788.7,1292.8 789.2,1294.4 789.8,1299.2 790.3,1302.6 790.9,1305.5 794.7,1305.5 794.8,1302.2 794.8,1298.9 794.9,1298.0 794.9,1293.7 795.0,1289.6 795.1,1286.5 795.1,1284.8 795.2,1279.3 795.2,1277.3 795.3,1275.4 795.4,1271.1 795.4,1268.0 795.5,1264.9 795.5,1261.7 795.6,1258.6 797.1,1254.2 798.6,1253.4 800.1,1254.1 801.6,1258.0 801.7,1261.2 801.7,1264.4 801.8,1267.6 801.9,1270.7 801.9,1272.1 802.0,1275.6 802.1,1278.3 802.2,1284.2 802.2,1288.0 802.3,1290.6 802.4,1293.6 802.4,1294.2 802.5,1299.4 804.0,1299.4 807.0,1300.0 810.1,1301.5 813.2,1302.1 816.2,1304.0 817.7,1304.0 817.7,1299.8 817.8,1297.2 817.8,1293.5 817.8,1289.7 817.9,1288.8 817.9,1283.3 817.9,1282.0 818.0,1278.7 818.0,1277.4 818.0,1273.9 818.1,1269.8 818.1,1266.7 818.1,1263.6 818.2,1260.5 818.2,1257.4 818.2,1254.3 818.2,1251.2 818.3,1248.1 818.3,1245.0 818.3,1241.9 818.4,1238.8 818.4,1235.7 818.4,1232.6 818.5,1229.5 818.5,1226.4 818.5,1223.3 818.6,1220.2 818.6,1217.1 819.4,1213.0 820.1,1208.8 821.6,1207.4 823.1,1208.8 823.9,1212.9 824.6,1216.9 824.6,1220.0 824.7,1223.0 824.7,1226.1 824.7,1229.1 824.8,1232.2 824.8,1235.3 824.8,1238.3 824.9,1241.4 824.9,1244.4 824.9,1247.5 825.0,1250.5 825.0,1253.6 825.0,1256.6 825.0,1259.7 825.1,1262.8 825.1,1265.8 825.1,1268.9 825.2,1271.9 825.2,1274.8 825.2,1275.9 825.3,1282.0 825.3,1285.1 825.3,1287.8 825.4,1292.4 825.4,1293.3 825.4,1295.9 825.5,1299.6 825.5,1302.5 827.0,1302.5 830.1,1302.3 833.1,1306.1 836.2,1307.0 836.9,1307.0 836.9,1302.3 837.0,1301.6 837.0,1298.3 837.0,1295.6 837.0,1290.3 837.1,1289.6 837.1,1287.5 837.1,1284.7 837.2,1280.6 837.2,1274.9 837.2,1274.5 837.2,1270.3 837.3,1267.2 837.3,1264.2 837.3,1261.1 837.3,1258.0 837.4,1255.0 837.4,1251.9 837.4,1248.9 837.5,1245.8 837.5,1242.7 837.5,1239.7 837.5,1236.6 837.6,1233.6 837.6,1230.5 837.6,1227.4 837.7,1224.4 837.7,1221.3 837.7,1218.3 837.7,1215.2 837.8,1212.1 837.8,1209.1 838.3,1206.0 838.8,1202.9 839.3,1199.8 840.8,1198.2 842.3,1199.8 842.8,1202.8 843.3,1205.9 843.8,1208.9 843.8,1211.9 843.9,1215.0 843.9,1218.0 843.9,1221.0 843.9,1224.0 844.0,1227.0 844.0,1230.1 844.0,1233.1 844.1,1236.1 844.1,1239.1 844.1,1242.1 844.1,1245.1 844.2,1248.2 844.2,1251.2 844.2,1254.2 844.2,1257.2 844.3,1260.2 844.3,1263.3 844.3,1266.3 844.4,1269.3 844.4,1270.9 844.4,1277.4 844.4,1276.3 844.5,1279.2 844.5,1283.9 844.5,1285.5 844.6,1292.4 844.6,1295.3 844.6,1295.4 844.6,1301.1 844.7,1301.8 844.7,1305.5 846.9,1305.5 850.0,1306.5 853.0,1303.1 856.1,1306.3 859.2,1304.0 863.7,1304.0 863.7,1300.7 863.8,1296.7 863.8,1294.6 863.8,1289.5 863.9,1286.6 863.9,1285.5 863.9,1283.0 864.0,1281.7 864.0,1276.5 864.0,1272.6 864.1,1270.3 864.1,1267.2 864.1,1264.1 864.2,1261.1 864.2,1258.0 864.2,1254.9 864.3,1251.9 864.3,1248.8 864.3,1245.7 864.4,1242.7 864.4,1239.6 864.4,1236.5 864.5,1233.5 864.5,1230.4 864.5,1227.3 864.6,1224.3 864.6,1221.2 865.4,1217.3 866.1,1213.4 867.6,1212.0 869.1,1213.4 869.9,1217.4 870.6,1221.3 870.6,1224.4 870.7,1227.4 870.7,1230.4 870.7,1233.4 870.8,1236.4 870.8,1239.4 870.8,1242.4 870.9,1245.4 870.9,1248.4 870.9,1251.4 871.0,1254.4 871.0,1257.4 871.0,1260.4 871.0,1263.4 871.1,1266.4 871.1,1269.4 871.1,1271.4 871.2,1273.3 871.2,1280.3 871.2,1282.3 871.3,1283.4 871.3,1288.6 871.3,1291.3 871.4,1294.1 871.4,1296.3 871.4,1301.1 871.5,1304.4 871.5,1305.5 874.5,1306.6 877.6,1305.5 880.6,1305.5 880.6,1301.0 880.7,1299.0 880.8,1296.7 880.8,1294.9 880.9,1289.8 880.9,1286.6 881.0,1281.6 881.0,1278.4 881.0,1276.2 881.1,1274.8 881.1,1270.9 881.2,1267.8 881.2,1264.6 881.3,1261.5 881.4,1258.3 881.4,1255.2 881.5,1252.0 881.5,1248.9 883.0,1243.5 884.5,1242.6 886.0,1243.5 887.5,1248.4 887.6,1251.5 887.6,1254.6 887.7,1257.7 887.7,1260.8 887.8,1263.9 887.8,1267.0 887.9,1270.1 887.9,1271.9 888.0,1277.4 888.0,1280.0 888.1,1281.5 888.1,1285.6 888.2,1290.1 888.2,1289.7 888.3,1295.4 888.3,1299.0 888.4,1301.0 890.6,1301.0 893.5,1304.6 896.4,1303.3 899.2,1306.1 902.1,1307.0 905.1,1307.0 905.1,1305.3 905.2,1300.0 905.2,1299.0 905.3,1295.8 905.4,1293.7 905.4,1288.2 905.5,1283.8 905.5,1282.6 905.5,1280.2 905.6,1278.2 905.6,1274.4 905.7,1270.2 905.8,1267.2 905.8,1264.1 905.9,1261.0 905.9,1258.0 906.0,1254.9 906.0,1251.8 907.5,1246.6 909.0,1245.7 910.2,1246.6 911.4,1251.4 911.4,1254.4 911.4,1257.4 911.5,1260.4 911.5,1263.4 911.5,1266.4 911.5,1269.4 911.6,1272.6 911.6,1277.0 911.6,1280.0 911.6,1281.9 911.7,1283.5 911.7,1285.3 911.7,1290.9 911.7,1291.3 911.8,1295.8 911.8,1301.6 911.8,1302.5 912.3,1302.5 914.6,1298.4 916.9,1297.2 919.2,1293.3 921.5,1297.0 923.8,1297.9 926.1,1301.8 928.4,1304.0 931.4,1304.0 931.4,1302.6 931.5,1298.8 931.5,1294.0 931.5,1293.8 931.6,1289.3 931.6,1284.3 931.7,1283.7 931.7,1280.5 931.7,1277.8 931.8,1274.6 931.8,1270.0 931.8,1266.9 931.9,1263.8 931.9,1260.7 931.9,1257.6 932.0,1254.5 932.0,1251.4 932.0,1248.3 932.1,1245.2 932.1,1242.2 932.2,1239.1 932.2,1236.0 932.2,1232.9 932.3,1229.8 932.3,1226.7 933.0,1223.0 933.8,1219.4 935.3,1218.1 936.4,1219.3 937.0,1222.8 937.5,1226.2 937.5,1229.3 937.5,1232.3 937.5,1235.4 937.6,1238.4 937.6,1241.5 937.6,1244.5 937.6,1247.6 937.6,1250.6 937.6,1253.7 937.7,1256.7 937.7,1259.8 937.7,1262.8 937.7,1265.9 937.7,1268.9 937.8,1272.0 937.8,1276.3 937.8,1277.6 937.8,1282.2 937.8,1285.3 937.8,1288.6 937.9,1289.0 937.9,1295.4 937.9,1296.7 937.9,1299.4 938.4,1299.4 940.9,1303.7 943.5,1304.5 946.0,1307.0 947.4,1305.2 948.8,1301.3 950.2,1296.9 951.6,1294.7 953.0,1291.7 955.1,1291.0 957.3,1286.4 959.4,1287.1 961.6,1284.2 963.7,1281.0 965.6,1284.9 967.5,1286.5 969.4,1289.9 971.3,1291.7 972.8,1295.1 974.4,1297.0 976.0,1298.0 977.5,1303.2 979.0,1306.6 980.6,1308.6 984.3,1308.6 984.3,1305.7 984.4,1302.0 984.4,1299.5 984.5,1294.4 984.5,1293.7 984.6,1288.1 984.6,1285.2 984.7,1281.9 984.7,1282.6 984.8,1279.3 984.8,1275.0 984.8,1271.3 984.9,1268.2 984.9,1265.1 985.0,1262.0 985.0,1258.9 985.1,1255.8 985.1,1252.7 985.2,1249.6 985.2,1246.5 986.0,1243.6 986.7,1240.6 988.2,1239.6 989.7,1240.5 991.2,1245.6 991.3,1248.7 991.3,1251.9 991.4,1255.1 991.4,1258.2 991.5,1261.4 991.5,1264.6 991.6,1267.7 991.6,1270.9 991.7,1276.0 991.7,1276.0 991.8,1281.1 991.8,1283.5 991.9,1285.0 991.9,1290.2 992.0,1291.4 992.0,1295.3 992.1,1299.4 993.6,1299.4 997.0,1300.1 1000.5,1304.0 1005.8,1304.0 1005.9,1299.6 1006.0,1299.2 1006.0,1294.2 1006.1,1291.2 1006.2,1286.1 1006.3,1282.9 1006.4,1279.4 1006.5,1278.8 1006.5,1275.0 1006.6,1271.4 1006.7,1268.1 1008.2,1264.7 1009.7,1264.1 1011.2,1264.7 1012.7,1268.2 1012.8,1271.3 1012.9,1275.5 1012.9,1277.9 1013.0,1279.6 1013.1,1283.3 1013.2,1286.3 1013.2,1291.9 1013.3,1294.0 1013.4,1297.6 1013.5,1300.0 1013.5,1304.4 1013.6,1305.5 1015.8,1305.5 1021.1,1305.5 1021.2,1303.4 1021.2,1296.9 1021.3,1294.0 1021.4,1290.6 1021.5,1291.1 1021.5,1284.9 1021.6,1282.8 1021.7,1280.1 1021.8,1275.3 1021.9,1272.3 1021.9,1270.1 1022.0,1266.9 1023.5,1263.2 1025.0,1262.6 1026.5,1263.2 1028.0,1266.3 1028.1,1269.3 1028.2,1274.0 1028.2,1273.9 1028.3,1279.8 1028.4,1281.2 1028.5,1285.2 1028.6,1286.9 1028.7,1291.2 1028.7,1294.3 1028.8,1296.0 1028.9,1299.4 1032.7,1299.4 1036.6,1299.3 1040.4,1301.0 1041.9,1297.1 1043.5,1294.9 1045.0,1290.2 1048.4,1288.0 1051.8,1290.2 1051.9,1285.8 1052.0,1283.3 1052.1,1281.8 1052.2,1277.8 1052.4,1273.5 1052.5,1271.6 1052.6,1268.5 1052.7,1265.4 1054.2,1263.0 1055.7,1262.6 1057.2,1263.2 1058.7,1266.7 1058.8,1269.8 1058.9,1274.6 1058.9,1276.4 1059.0,1280.9 1059.1,1281.7 1059.2,1287.4 1059.2,1288.8 1059.3,1290.9 1059.4,1293.2 1059.5,1299.1 1059.5,1299.5 1059.6,1304.0 1061.8,1304.0 1065.6,1304.0 1065.8,1302.0 1065.9,1298.5 1066.0,1292.0 1066.2,1291.2 1066.3,1287.6 1066.5,1283.3 1068.0,1281.3 1069.5,1281.0 1071.0,1281.3 1072.5,1283.2 1072.7,1284.6 1072.8,1290.7 1073.0,1294.8 1073.1,1295.3 1073.2,1299.4 1073.4,1302.5 1075.6,1302.5 1077.9,1299.8 1080.2,1296.7 1082.5,1294.1 1084.8,1293.3 1086.7,1296.7 1088.7,1300.7 1090.6,1299.7 1092.5,1304.0 1097.8,1304.0 1097.8,1298.8 1097.8,1298.1 1097.9,1293.8 1097.9,1293.4 1097.9,1287.8 1097.9,1283.6 1097.9,1281.8 1098.0,1279.2 1098.0,1276.3 1098.0,1273.1 1098.0,1270.5 1098.0,1267.4 1098.0,1264.4 1098.1,1261.3 1098.1,1258.3 1098.1,1255.2 1098.1,1252.2 1098.1,1249.1 1098.2,1246.1 1098.2,1243.0 1098.2,1240.0 1098.2,1236.9 1098.2,1233.9 1098.2,1230.8 1098.3,1227.8 1098.3,1224.7 1098.3,1221.7 1098.3,1218.6 1098.3,1215.6 1098.4,1212.5 1098.4,1209.5 1098.4,1206.4 1098.4,1203.4 1098.4,1200.3 1098.5,1197.3 1098.5,1194.2 1098.5,1191.2 1098.5,1188.1 1098.5,1185.1 1098.5,1182.1 1098.6,1179.0 1098.6,1176.0 1098.6,1172.9 1098.6,1169.9 1098.6,1166.8 1098.7,1163.8 1098.7,1160.7 1098.7,1157.7 1099.1,1154.2 1099.5,1150.7 1099.8,1147.3 1100.2,1143.8 1101.7,1141.4 1103.2,1143.4 1103.7,1147.3 1104.2,1151.1 1104.7,1154.9 1104.7,1157.9 1104.7,1161.0 1104.8,1164.0 1104.8,1167.1 1104.8,1170.1 1104.8,1173.1 1104.9,1176.2 1104.9,1179.2 1104.9,1182.2 1104.9,1185.3 1104.9,1188.3 1105.0,1191.4 1105.0,1194.4 1105.0,1197.4 1105.0,1200.5 1105.1,1203.5 1105.1,1206.5 1105.1,1209.6 1105.1,1212.6 1105.2,1215.7 1105.2,1218.7 1105.2,1221.7 1105.2,1224.8 1105.2,1227.8 1105.3,1230.8 1105.3,1233.9 1105.3,1236.9 1105.3,1240.0 1105.4,1243.0 1105.4,1246.0 1105.4,1249.1 1105.4,1252.1 1105.4,1255.1 1105.5,1258.2 1105.5,1261.2 1105.5,1264.2 1105.5,1267.3 1105.6,1270.3 1105.6,1272.4 1105.6,1276.4 1107.3,1276.4 1107.7,1281.5 1108.1,1280.4 1108.4,1284.4 1108.8,1290.1 1109.2,1290.4 1109.6,1294.8 1111.7,1295.7 1113.9,1298.6 1116.0,1301.8 1118.2,1304.8 1120.3,1305.5 1123.9,1306.3 1127.5,1303.1 1131.1,1304.0 1133.0,1303.2 1134.9,1297.2 1136.8,1297.3 1138.7,1293.3 1142.5,1294.9 1146.3,1293.3 1146.5,1288.6 1146.6,1286.8 1146.8,1283.0 1146.9,1281.1 1147.0,1279.5 1147.2,1275.3 1148.7,1273.6 1150.2,1273.3 1151.7,1273.7 1153.2,1276.2 1153.3,1280.8 1153.4,1283.9 1153.5,1284.0 1153.7,1288.4 1153.8,1294.5 1153.9,1297.0 1154.0,1300.4 1154.1,1302.5 1157.1,1302.5 1159.6,1299.2 1162.0,1297.3 1164.5,1296.9 1166.9,1295.6 1169.4,1293.3 1172.5,1291.3 1175.6,1294.3 1178.6,1292.7 1181.7,1293.9 1184.8,1291.7 1186.9,1295.8 1189.0,1295.9 1191.1,1297.7 1193.2,1301.0 1194.7,1301.0 1194.7,1299.4 1194.8,1294.8 1194.8,1292.2 1194.9,1289.7 1194.9,1287.7 1194.9,1282.6 1195.0,1279.3 1195.0,1278.0 1195.1,1271.4 1195.1,1270.2 1195.1,1267.2 1195.2,1264.1 1195.2,1261.0 1195.3,1257.9 1195.3,1254.9 1195.4,1251.8 1195.4,1248.7 1195.4,1245.6 1195.5,1242.5 1195.5,1239.5 1195.6,1236.4 1195.6,1233.3 1196.3,1230.1 1197.1,1226.9 1198.6,1225.8 1200.0,1226.9 1200.8,1230.0 1201.5,1233.2 1201.5,1236.2 1201.5,1239.2 1201.6,1242.2 1201.6,1245.2 1201.6,1248.2 1201.6,1251.2 1201.6,1254.2 1201.6,1257.2 1201.7,1260.3 1201.7,1263.3 1201.7,1266.3 1201.7,1269.3 1201.7,1272.0 1201.8,1274.1 1201.8,1278.8 1201.8,1282.8 1201.8,1284.0 1201.8,1286.1 1201.8,1288.7 1201.9,1295.1 1201.9,1296.8 1201.9,1299.4 1202.4,1299.4 1202.9,1299.4 1203.0,1298.3 1203.1,1292.3 1203.1,1289.3 1203.2,1285.8 1203.3,1284.2 1204.8,1282.8 1206.2,1282.5 1207.7,1282.8 1209.2,1284.8 1209.4,1288.9 1209.5,1292.0 1209.7,1296.7 1209.8,1299.0 1210.0,1301.3 1210.1,1305.5 1215.4,1305.5 1216.1,1305.5 1216.2,1300.5 1216.4,1300.3 1216.5,1297.8 1216.7,1291.8 1216.8,1288.5 1217.0,1286.2 1218.5,1284.3 1220.0,1284.0 1221.5,1284.3 1223.0,1285.7 1223.2,1288.9 1223.4,1291.3 1223.5,1296.0 1223.7,1297.9 1223.9,1301.0 1226.2,1301.0 1228.4,1301.0 1228.5,1297.7 1228.6,1294.0 1228.7,1290.2 1228.8,1289.9 1228.9,1286.8 1229.0,1280.3 1229.1,1277.8 1229.2,1276.1 1229.3,1271.9 1230.8,1269.2 1232.3,1268.7 1233.8,1269.2 1235.3,1271.8 1235.4,1274.2 1235.5,1277.7 1235.6,1281.3 1235.7,1283.0 1235.8,1286.6 1235.9,1291.2 1236.0,1295.2 1236.1,1294.4 1236.2,1299.4 1238.4,1299.4 1241.0,1304.1 1243.5,1303.7 1246.1,1308.6 1250.6,1308.6 1250.6,1306.3 1250.6,1300.6 1250.7,1299.7 1250.7,1295.3 1250.7,1294.9 1250.7,1288.4 1250.8,1287.5 1250.8,1286.5 1250.8,1281.5 1250.8,1278.1 1250.9,1276.0 1250.9,1273.6 1250.9,1269.3 1250.9,1266.3 1251.0,1263.3 1251.0,1260.3 1251.0,1257.2 1251.0,1254.2 1251.1,1251.2 1251.1,1248.2 1251.1,1245.2 1251.1,1242.1 1251.2,1239.1 1251.2,1236.1 1251.2,1233.1 1251.2,1230.1 1251.3,1227.0 1251.3,1224.0 1251.3,1221.0 1251.3,1218.0 1251.4,1214.9 1251.4,1211.9 1251.4,1208.9 1251.4,1205.9 1251.5,1202.9 1251.5,1199.8 1251.5,1196.8 1252.0,1193.3 1252.5,1189.8 1253.0,1186.3 1254.5,1184.4 1256.0,1186.1 1256.5,1189.4 1257.0,1192.6 1257.5,1195.9 1257.5,1198.9 1257.6,1202.0 1257.6,1205.0 1257.6,1208.1 1257.6,1211.1 1257.7,1214.2 1257.7,1217.2 1257.7,1220.3 1257.7,1223.3 1257.8,1226.3 1257.8,1229.4 1257.8,1232.4 1257.8,1235.5 1257.9,1238.5 1257.9,1241.6 1257.9,1244.6 1258.0,1247.7 1258.0,1250.7 1258.0,1253.7 1258.0,1256.8 1258.1,1259.8 1258.1,1262.9 1258.1,1265.9 1258.1,1269.0 1258.2,1272.8 1258.2,1274.7 1258.2,1276.8 1258.2,1282.4 1258.3,1284.2 1258.3,1289.2 1258.3,1289.6 1258.3,1292.5 1258.4,1296.2 1258.4,1299.4 1259.1,1299.4 1261.4,1303.6 1263.7,1304.7 1266.0,1305.5 1270.2,1304.6 1274.4,1305.5 1274.5,1303.3 1274.5,1300.9 1274.6,1294.5 1274.6,1294.5 1274.7,1290.3 1274.7,1289.1 1274.8,1285.5 1274.8,1280.7 1274.9,1276.5 1275.0,1274.9 1275.0,1271.7 1275.1,1269.3 1275.1,1266.2 1275.2,1263.2 1275.2,1260.2 1275.3,1257.2 1276.8,1252.6 1278.3,1251.8 1279.8,1252.6 1281.3,1256.9 1281.4,1259.9 1281.4,1263.0 1281.5,1266.0 1281.5,1269.0 1281.6,1270.8 1281.7,1275.9 1281.7,1279.8 1281.8,1281.0 1281.8,1282.6 1281.9,1287.6 1282.0,1289.6 1282.0,1291.4 1282.1,1294.6 1282.1,1299.0 1282.2,1302.5 1286.0,1302.5 1289.5,1300.8 1292.9,1301.6 1296.3,1305.6 1299.8,1304.0 1301.1,1304.0 1301.1,1301.1 1301.1,1296.6 1301.2,1293.0 1301.2,1291.0 1301.2,1288.2 1301.2,1287.9 1301.3,1281.6 1301.3,1281.8 1301.3,1277.0 1301.3,1275.3 1301.4,1271.0 1301.4,1268.0 1301.4,1264.9 1301.4,1261.9 1301.5,1258.9 1301.5,1255.9 1301.5,1252.9 1301.5,1249.9 1301.6,1246.9 1301.6,1243.9 1301.6,1240.9 1301.6,1237.9 1301.7,1234.9 1301.7,1231.9 1301.7,1228.9 1301.7,1225.9 1301.8,1222.9 1301.8,1219.9 1301.8,1216.9 1301.8,1213.9 1301.9,1210.9 1301.9,1207.9 1301.9,1204.9 1301.9,1201.9 1302.0,1198.9 1302.0,1195.9 1302.0,1192.8 1302.5,1189.4 1303.0,1185.9 1303.5,1182.4 1305.0,1180.5 1306.5,1182.4 1307.0,1185.9 1307.5,1189.4 1308.0,1192.8 1308.0,1195.9 1308.0,1198.9 1308.1,1201.9 1308.1,1204.9 1308.1,1207.9 1308.1,1210.9 1308.2,1213.9 1308.2,1216.9 1308.2,1219.9 1308.2,1222.9 1308.3,1225.9 1308.3,1228.9 1308.3,1231.9 1308.3,1234.9 1308.4,1237.9 1308.4,1240.9 1308.4,1243.9 1308.4,1246.9 1308.5,1249.9 1308.5,1252.9 1308.5,1255.9 1308.5,1258.9 1308.6,1261.9 1308.6,1264.9 1308.6,1268.0 1308.6,1271.0 1308.7,1274.2 1308.7,1279.0 1308.7,1282.0 1308.7,1283.5 1308.8,1285.3 1308.8,1288.1 1308.8,1290.5 1308.8,1293.8 1308.9,1298.5 1308.9,1300.6 1308.9,1304.0 1311.5,1304.0 1313.6,1301.9 1315.7,1301.4 1317.8,1298.1 1319.9,1294.8 1322.1,1298.8 1324.2,1300.2 1326.4,1300.1 1328.5,1301.3 1330.7,1305.5 1333.8,1306.4 1336.8,1303.9 1339.8,1306.2 1342.9,1303.7 1346.0,1305.8 1349.0,1305.5 1349.1,1302.4 1349.2,1298.9 1349.2,1297.2 1349.3,1293.5 1349.4,1288.2 1349.5,1286.2 1349.5,1282.6 1349.6,1279.3 1349.7,1275.3 1349.8,1272.1 1349.8,1270.1 1349.9,1266.9 1351.4,1263.2 1352.9,1262.6 1354.4,1263.2 1355.9,1266.3 1356.0,1269.3 1356.1,1272.8 1356.1,1273.4 1356.2,1278.0 1356.3,1281.3 1356.4,1284.2 1356.5,1288.2 1356.6,1291.7 1356.6,1293.5 1356.7,1294.9 1356.8,1299.4 1358.3,1299.4 1361.3,1294.9 1364.4,1293.3 1367.5,1297.2 1370.5,1297.2 1373.6,1299.4 1378.9,1299.4 1379.0,1296.1 1379.2,1291.7 1379.3,1290.3 1379.5,1286.0 1379.6,1283.6 1379.8,1280.1 1381.3,1278.2 1382.8,1277.9 1384.3,1278.2 1385.8,1280.2 1386.0,1283.9 1386.1,1289.0 1386.2,1291.8 1386.4,1295.9 1386.5,1299.2 1386.7,1301.0 1390.5,1301.0 1394.0,1300.3 1397.4,1303.8 1400.8,1303.4 1404.3,1305.5 1407.3,1305.5 1407.3,1301.8 1407.3,1299.5 1407.4,1296.5 1407.4,1293.7 1407.4,1290.0 1407.4,1285.5 1407.4,1286.3 1407.4,1279.1 1407.5,1280.0 1407.5,1277.2 1407.5,1272.0 1407.5,1268.9 1407.5,1265.9 1407.5,1262.9 1407.6,1259.8 1407.6,1256.8 1407.6,1253.7 1407.6,1250.7 1407.6,1247.6 1407.6,1244.6 1407.7,1241.5 1407.7,1238.5 1407.7,1235.4 1407.7,1232.4 1407.7,1229.3 1407.7,1226.3 1407.8,1223.2 1407.8,1220.2 1407.8,1217.2 1407.8,1214.1 1407.8,1211.1 1407.8,1208.0 1407.9,1205.0 1407.9,1201.9 1407.9,1198.9 1407.9,1195.8 1407.9,1192.8 1407.9,1189.7 1408.0,1186.7 1408.0,1183.6 1408.0,1180.6 1408.0,1177.6 1408.0,1174.5 1408.0,1171.5 1408.1,1168.4 1408.1,1165.4 1408.1,1162.3 1408.1,1159.3 1408.1,1156.2 1408.1,1153.2 1408.2,1150.1 1408.2,1147.1 1408.2,1144.0 1408.5,1141.0 1408.8,1137.9 1409.1,1134.9 1409.4,1131.8 1409.7,1128.8 1411.2,1126.1 1412.7,1128.7 1413.1,1132.4 1413.5,1136.1 1413.8,1139.7 1414.2,1143.4 1414.2,1146.5 1414.2,1149.5 1414.3,1152.6 1414.3,1155.7 1414.3,1158.7 1414.3,1161.8 1414.3,1164.8 1414.3,1167.9 1414.4,1171.0 1414.4,1174.0 1414.4,1177.1 1414.4,1180.1 1414.4,1183.2 1414.4,1186.2 1414.5,1189.3 1414.5,1192.4 1414.5,1195.4 1414.5,1198.5 1414.5,1201.5 1414.6,1204.6 1414.6,1207.7 1414.6,1210.7 1414.6,1213.8 1414.6,1216.8 1414.6,1219.9 1414.7,1222.9 1414.7,1226.0 1414.7,1229.1 1414.7,1232.1 1414.7,1235.2 1414.7,1238.2 1414.8,1241.3 1414.8,1244.4 1414.8,1247.4 1414.8,1250.5 1414.8,1253.5 1414.9,1256.6 1414.9,1259.6 1414.9,1262.7 1414.9,1265.8 1414.9,1268.8 1414.9,1271.9 1415.0,1275.7 1415.0,1276.7 1415.0,1281.9 1415.0,1283.4 1415.0,1286.5 1415.0,1291.8 1415.1,1294.3 1415.1,1294.2 1415.1,1299.4 1416.6,1299.4 1418.6,1303.9 1420.7,1304.0 1422.7,1307.0 1427.2,1307.0 1427.2,1303.1 1427.3,1300.5 1427.3,1296.6 1427.4,1294.6 1427.4,1293.4 1427.5,1291.0 1427.5,1287.4 1427.5,1283.5 1427.6,1279.5 1427.6,1276.7 1427.7,1272.2 1427.7,1270.7 1427.8,1267.7 1427.8,1264.7 1427.8,1261.7 1427.9,1258.7 1427.9,1255.6 1428.0,1252.6 1428.0,1249.6 1428.1,1246.6 1428.1,1243.5 1428.8,1240.6 1429.6,1237.6 1431.1,1236.5 1432.6,1237.5 1434.1,1243.2 1434.1,1246.3 1434.1,1249.3 1434.2,1252.4 1434.2,1255.4 1434.2,1258.4 1434.2,1261.5 1434.2,1264.5 1434.3,1267.5 1434.3,1270.6 1434.3,1272.5 1434.3,1274.7 1434.3,1280.9 1434.4,1281.0 1434.4,1284.4 1434.4,1288.5 1434.4,1293.2 1434.4,1293.0 1434.5,1299.0 1434.5,1300.1 1434.5,1304.0 1435.0,1304.0 1436.2,1300.7 1437.3,1298.0 1438.5,1297.5 1439.6,1294.7 1440.8,1288.6 1441.9,1287.2 1443.0,1283.1 1444.2,1281.0 1448.0,1281.7 1451.8,1284.0 1454.0,1288.2 1456.1,1290.2 1458.3,1292.5 1460.4,1294.3 1462.6,1297.9 1465.1,1299.4 1467.7,1301.8 1470.2,1304.0 1474.0,1305.4 1477.8,1304.0 1477.9,1299.8 1478.0,1297.9 1478.1,1295.8 1478.2,1289.3 1478.2,1286.9 1478.3,1286.1 1478.4,1279.9 1478.5,1280.5 1478.6,1275.1 1478.7,1272.2 1480.2,1269.2 1481.7,1268.7 1483.2,1269.2 1484.7,1272.1 1484.8,1275.7 1484.9,1276.4 1485.0,1281.0 1485.1,1284.1 1485.2,1288.5 1485.2,1290.7 1485.3,1291.8 1485.4,1294.6 1485.5,1298.4 1485.6,1302.5 1487.1,1302.5 1489.4,1302.5 1489.6,1299.5 1489.8,1294.1 1489.9,1291.0 1490.1,1288.5 1490.3,1285.8 1491.8,1284.3 1493.3,1284.0 1494.8,1284.3 1496.3,1285.8 1496.5,1288.0 1496.7,1293.0 1496.8,1294.6 1497.0,1297.9 1497.2,1302.5 1497.9,1302.5 1501.0,1303.6 1504.1,1303.0 1507.2,1302.5 1507.2,1300.4 1507.3,1294.7 1507.3,1293.7 1507.4,1289.5 1507.4,1286.8 1507.4,1282.5 1507.5,1282.0 1507.5,1278.9 1507.6,1274.2 1507.6,1271.3 1507.6,1268.2 1507.7,1265.0 1507.7,1261.9 1507.7,1258.8 1507.8,1255.7 1507.8,1252.5 1507.9,1249.4 1507.9,1246.3 1507.9,1243.2 1508.0,1240.0 1508.0,1236.9 1508.1,1233.8 1508.1,1230.7 1508.8,1227.3 1509.6,1223.9 1511.1,1222.7 1512.6,1223.8 1513.3,1227.0 1514.1,1230.2 1514.1,1233.3 1514.2,1236.4 1514.2,1239.4 1514.3,1242.5 1514.3,1245.6 1514.3,1248.7 1514.4,1251.8 1514.4,1254.8 1514.5,1257.9 1514.5,1261.0 1514.5,1264.1 1514.6,1267.1 1514.6,1270.2 1514.7,1272.7 1514.7,1275.3 1514.8,1279.5 1514.8,1281.6 1514.8,1285.3 1514.9,1289.1 1514.9,1293.3 1515.0,1296.4 1515.0,1297.9 1515.7,1297.9 1519.0,1297.5 1522.4,1302.2 1525.7,1302.5 1529.2,1302.0 1532.8,1300.8 1536.3,1302.5 1536.4,1299.2 1536.5,1297.9 1536.6,1292.7 1536.8,1289.2 1536.9,1287.1 1537.0,1284.1 1537.1,1282.5 1537.2,1277.6 1538.7,1275.2 1540.2,1274.8 1541.7,1275.1 1543.2,1276.5 1543.4,1281.3 1543.6,1284.7 1543.7,1283.7 1543.9,1289.7 1544.1,1291.7 1547.1,1291.7 1548.9,1294.4 1550.8,1297.6 1552.6,1301.5 1554.5,1301.9 1556.3,1305.5 1559.3,1303.3 1562.4,1305.5 1562.4,1301.3 1562.5,1301.3 1562.5,1298.1 1562.6,1292.9 1562.6,1288.4 1562.7,1287.9 1562.7,1282.9 1562.8,1282.3 1562.8,1277.6 1562.8,1273.6 1562.9,1271.3 1562.9,1268.2 1563.0,1265.1 1563.0,1262.0 1563.1,1258.9 1563.1,1255.8 1563.2,1252.7 1563.2,1249.6 1563.3,1246.5 1563.3,1243.4 1564.0,1240.5 1564.8,1237.5 1566.3,1236.5 1567.8,1237.5 1569.3,1243.2 1569.3,1246.3 1569.4,1249.3 1569.4,1252.4 1569.5,1255.4 1569.5,1258.4 1569.6,1261.5 1569.6,1264.5 1569.7,1267.5 1569.7,1270.6 1569.8,1271.7 1569.8,1275.6 1569.8,1279.0 1569.9,1281.8 1569.9,1286.9 1570.0,1290.3 1570.0,1292.5 1570.1,1294.7 1570.1,1298.7 1570.2,1299.0 1570.2,1304.0 1571.7,1304.0 1574.8,1303.3 1577.8,1302.5 1581.6,1302.5 1581.7,1299.3 1581.9,1296.3 1582.0,1291.4 1582.1,1290.7 1582.2,1285.0 1582.4,1282.2 1582.5,1279.0 1584.0,1276.8 1585.5,1276.4 1587.0,1276.8 1588.5,1279.0 1588.6,1280.7 1588.8,1285.8 1588.9,1286.9 1589.0,1292.6 1589.1,1294.5 1589.3,1301.1 1589.4,1302.5 1593.2,1302.5 1595.6,1299.8 1598.1,1296.4 1600.5,1295.8 1603.0,1291.1 1605.4,1290.2 1606.6,1293.1 1607.9,1295.5 1609.1,1300.4 1610.4,1302.3 1611.6,1304.0 1614.6,1305.6 1617.7,1306.1 1620.8,1304.4 1623.8,1304.0 1623.9,1301.6 1623.9,1298.5 1624.0,1295.9 1624.0,1293.0 1624.1,1289.8 1624.1,1286.9 1624.2,1283.8 1624.2,1277.2 1624.3,1276.7 1624.3,1273.3 1624.4,1269.2 1624.4,1266.0 1624.5,1262.8 1624.5,1259.7 1624.6,1256.5 1624.6,1253.3 1624.7,1250.2 1626.2,1245.1 1627.7,1244.2 1629.2,1245.1 1630.6,1249.9 1630.6,1252.9 1630.6,1255.9 1630.7,1258.9 1630.7,1261.9 1630.7,1264.9 1630.7,1267.9 1630.8,1270.9 1630.8,1275.7 1630.8,1276.3 1630.8,1281.1 1630.9,1280.8 1630.9,1285.5 1630.9,1287.8 1630.9,1290.8 1631.0,1293.2 1631.0,1298.1 1631.0,1301.0 1631.5,1301.0 1634.0,1297.0 1636.4,1294.1 1638.9,1294.1 1641.3,1292.4 1643.8,1288.7 1645.6,1290.7 1647.5,1292.2 1649.3,1298.6 1651.2,1299.1 1653.0,1302.5 1656.0,1302.5 1656.0,1299.0 1656.0,1298.2 1656.1,1291.9 1656.1,1291.1 1656.1,1286.8 1656.1,1284.8 1656.1,1281.2 1656.2,1277.0 1656.2,1277.3 1656.2,1272.4 1656.2,1269.3 1656.3,1266.3 1656.3,1263.3 1656.3,1260.2 1656.3,1257.2 1656.3,1254.2 1656.4,1251.2 1656.4,1248.2 1656.4,1245.2 1656.4,1242.1 1656.4,1239.1 1656.5,1236.1 1656.5,1233.1 1656.5,1230.1 1656.5,1227.0 1656.5,1224.0 1656.6,1221.0 1656.6,1218.0 1656.6,1215.0 1656.6,1212.0 1656.6,1208.9 1656.7,1205.9 1656.7,1202.9 1656.7,1199.9 1656.7,1196.9 1656.8,1193.8 1656.8,1190.8 1656.8,1187.8 1656.8,1184.8 1656.8,1181.8 1656.9,1178.8 1656.9,1175.7 1656.9,1172.7 1657.3,1169.7 1657.7,1166.6 1658.0,1163.5 1658.4,1160.5 1659.9,1158.3 1661.4,1160.4 1661.8,1163.5 1662.2,1166.5 1662.5,1169.5 1662.9,1172.6 1662.9,1175.6 1662.9,1178.7 1663.0,1181.7 1663.0,1184.8 1663.0,1187.9 1663.0,1190.9 1663.1,1194.0 1663.1,1197.0 1663.1,1200.1 1663.1,1203.1 1663.1,1206.2 1663.2,1209.3 1663.2,1212.3 1663.2,1215.4 1663.2,1218.4 1663.2,1221.5 1663.3,1224.6 1663.3,1227.6 1663.3,1230.7 1663.3,1233.7 1663.4,1236.8 1663.4,1239.8 1663.4,1242.9 1663.4,1246.0 1663.4,1249.0 1663.5,1252.1 1663.5,1255.1 1663.5,1258.2 1663.5,1261.2 1663.5,1264.3 1663.6,1267.4 1663.6,1270.4 1663.6,1272.1 1663.6,1276.4 1663.7,1280.0 1663.7,1284.5 1663.7,1284.8 1663.7,1287.0 1663.7,1291.7 1663.8,1296.4 1663.8,1295.9 1663.8,1301.0 1664.5,1301.0 1668.1,1302.4 1671.8,1300.2 1675.4,1299.7 1679.0,1299.4 1682.1,1298.4 1685.2,1296.3 1691.1,1296.3 1691.2,1294.2 1691.2,1290.6 1691.3,1288.7 1691.3,1284.1 1691.4,1279.7 1691.4,1276.9 1691.5,1273.8 1691.5,1271.0 1691.6,1267.8 1691.6,1264.6 1691.7,1261.5 1691.7,1258.3 1691.8,1255.1 1691.8,1252.0 1691.9,1248.8 1691.9,1245.6 1692.0,1242.5 1693.5,1237.4 1695.0,1236.5 1696.5,1237.5 1698.0,1242.8 1698.0,1245.9 1698.1,1248.9 1698.1,1251.9 1698.2,1254.9 1698.2,1257.9 1698.3,1260.9 1698.3,1263.9 1698.4,1266.9 1698.4,1269.9 1698.5,1271.7 1698.5,1275.1 1698.6,1278.4 1698.6,1283.9 1698.7,1286.7 1698.7,1289.0 1698.8,1291.9 1698.8,1292.9 1698.9,1296.4 1698.9,1300.0 1700.4,1300.0 1702.4,1301.1 1704.4,1306.3 1706.4,1307.3 1709.6,1308.1 1712.8,1308.0 1716.0,1307.3 1718.4,1302.8 1720.8,1303.5 1723.2,1301.3 1725.6,1297.6 1727.5,1295.1 1729.4,1293.5 1731.4,1291.1 1733.3,1287.6 1735.2,1284.4 1737.3,1286.0 1739.4,1289.5 1741.5,1293.3 1743.6,1294.0 1746.4,1294.2 1749.2,1299.4 1752.0,1300.0 1756.8,1297.6 1758.9,1297.6 1759.0,1293.8 1759.1,1292.2 1759.2,1286.5 1759.3,1284.9 1759.3,1284.1 1759.4,1279.2 1759.5,1275.6 1759.6,1271.7 1759.7,1269.4 1759.8,1266.3 1761.3,1263.3 1762.8,1262.8 1764.3,1263.3 1765.8,1266.3 1765.9,1269.4 1766.0,1272.0 1766.1,1276.4 1766.2,1280.7 1766.2,1280.3 1766.3,1284.4 1766.4,1287.6 1766.5,1290.4 1766.6,1296.5 1766.7,1297.6 1767.6,1297.6 1771.8,1300.2 1776.0,1300.0 1779.3,1300.0 1779.3,1297.0 1779.4,1291.6 1779.5,1292.4 1779.5,1288.6 1779.5,1286.1 1779.6,1280.4 1779.7,1277.4 1779.7,1274.6 1779.8,1271.9 1779.8,1268.8 1779.8,1265.7 1779.9,1262.6 1780.0,1259.4 1780.0,1256.3 1780.0,1253.2 1780.1,1250.1 1780.2,1247.0 1780.2,1243.8 1781.7,1238.5 1783.2,1237.6 1784.7,1238.5 1786.2,1243.8 1786.2,1247.0 1786.3,1250.1 1786.4,1253.2 1786.4,1256.3 1786.5,1259.4 1786.5,1262.6 1786.6,1265.7 1786.6,1268.8 1786.7,1271.9 1786.7,1274.6 1786.8,1278.0 1786.8,1283.4 1786.9,1286.0 1786.9,1285.6 1787.0,1290.3 1787.0,1292.2 1787.1,1296.8 1787.1,1300.0 1788.0,1300.0 1791.6,1302.2 1795.2,1304.8 1798.2,1303.1 1801.2,1300.0" stroke="#cf6f4a" stroke-width="1.7"/>
<path d="M186.0,67.4C188.0,67.3 195.9,66.9 200.0,66.8C204.1,66.7 212.1,67.3 214.7,66.9C217.3,66.5 215.6,64.2 218.1,64.3C220.6,64.4 228.8,67.3 232.0,67.4C235.2,67.5 235.7,65.1 240.7,65.1C245.7,65.1 262.0,67.8 266.7,67.7C271.4,67.6 271.1,64.4 273.6,64.3C276.1,64.2 275.1,66.5 284.0,66.9C292.9,67.3 326.1,67.0 336.0,67.4C345.9,67.8 348.3,68.8 353.3,69.5C358.3,70.2 365.7,70.6 370.7,72.1C375.7,73.6 383.5,77.1 388.0,79.9C392.5,82.7 398.2,87.1 401.9,92.0C405.6,96.9 410.5,106.6 414.0,114.5C417.5,122.4 423.4,138.3 426.1,147.5C428.8,156.7 431.4,169.3 433.1,178.7C434.8,188.1 436.8,203.4 438.3,213.3C439.8,223.2 442.3,238.5 443.5,248.0C444.7,257.5 445.3,265.5 446.8,280.0C448.3,294.5 451.7,329.5 453.7,349.3C455.7,369.1 458.9,401.2 460.6,418.5C462.3,435.8 464.3,455.7 465.8,470.5C467.3,485.3 469.5,505.1 471.0,522.4C472.5,539.7 474.7,571.9 476.2,591.7C477.7,611.5 480.2,639.8 481.4,661.0C482.6,682.2 483.8,723.8 484.8,740.0C485.8,756.2 487.3,771.9 488.5,774.5C489.7,777.1 492.0,759.9 493.4,758.5C494.8,757.1 497.2,759.6 498.4,764.7C499.6,769.8 501.0,782.9 502.0,794.2C503.0,805.5 504.5,825.9 505.7,843.5C506.9,861.1 509.5,909.0 510.7,917.5C511.9,926.0 513.2,910.4 514.4,902.7C515.6,895.0 518.1,868.2 519.3,863.3C520.5,858.4 521.6,861.2 523.0,868.2C524.4,875.2 527.8,899.9 529.2,912.6C530.6,925.3 531.5,942.9 532.9,957.0C534.3,971.1 537.6,997.5 539.0,1011.2C540.4,1024.9 541.6,1046.4 542.7,1053.1C543.8,1059.8 545.2,1051.7 546.4,1058.0C547.6,1064.3 550.0,1114.8 551.4,1097.5C552.8,1080.2 554.9,979.1 556.3,937.2C557.7,895.3 560.1,815.4 561.2,804.1C562.3,792.8 562.5,835.4 563.7,858.3C564.9,881.2 568.5,956.6 569.9,964.4C571.3,972.2 572.4,933.0 573.6,912.6C574.8,892.2 577.3,832.0 578.5,821.4C579.7,810.8 581.0,821.0 582.2,838.6C583.4,856.2 585.3,934.7 587.1,944.6C588.9,954.5 592.9,910.1 594.5,907.6C596.1,905.1 597.0,907.3 598.2,927.4C599.4,947.5 602.0,1024.5 603.1,1048.2C604.2,1071.9 604.6,1084.2 606.0,1093.3C607.4,1102.4 610.5,1111.6 612.7,1112.0C614.9,1112.4 619.3,1093.5 621.3,1096.0C623.3,1098.5 624.8,1122.8 626.7,1129.3C628.6,1135.8 633.0,1137.3 634.7,1141.3C636.4,1145.3 636.4,1152.0 638.7,1157.3C641.0,1162.6 647.8,1180.8 650.7,1178.7C653.6,1176.6 656.5,1153.8 658.7,1142.7C660.9,1131.6 664.5,1104.7 666.0,1101.3C667.5,1097.9 668.3,1111.6 669.3,1118.7C670.3,1125.8 671.7,1142.5 672.7,1150.7C673.7,1158.9 674.8,1174.0 676.0,1176.0C677.2,1178.0 679.0,1165.0 681.0,1164.4C683.0,1163.8 688.9,1170.9 690.2,1172.0" stroke="#1a5688" stroke-width="1.6"/>
<polyline points="690.2,1172.0 690.7,1173.9 691.2,1178.5 691.8,1181.3 692.3,1183.7 692.8,1185.8 693.3,1190.6 693.8,1193.6 694.3,1195.6 694.9,1198.6 695.4,1200.7 695.9,1202.9 696.4,1207.4 698.3,1209.3 700.2,1212.3 702.1,1212.9 704.1,1217.5 706.0,1218.0 707.9,1221.2 709.0,1217.5 710.2,1214.1 711.3,1214.3 712.5,1210.7 713.6,1208.3 714.8,1204.3 717.4,1207.2 720.1,1207.9 722.7,1212.0 728.0,1213.5 729.1,1210.1 730.3,1207.7 731.5,1203.6 732.6,1203.4 733.8,1198.7 734.9,1195.1 736.1,1194.4 737.2,1190.5 738.9,1191.6 740.7,1196.5 742.4,1197.3 744.1,1199.7 745.0,1202.6 745.8,1204.6 746.7,1207.8 747.5,1209.6 748.4,1211.8 749.2,1217.2 750.1,1217.9 750.9,1222.4 751.8,1224.2 753.7,1226.0 755.6,1231.1 757.6,1233.6 759.5,1235.0 760.5,1238.7 761.4,1241.6 762.4,1243.9 763.3,1247.2 764.2,1248.2 765.2,1252.2 766.1,1256.2 767.1,1258.0 768.5,1254.5 769.9,1254.2 771.4,1251.5 772.8,1247.4 774.2,1244.7 775.6,1242.6 779.0,1244.7 782.5,1247.2 784.0,1249.6 785.6,1254.3 787.1,1255.1 788.7,1256.7 790.2,1261.0 791.6,1257.1 792.9,1256.6 794.3,1254.9 795.6,1250.8 797.0,1248.2 798.3,1245.8 799.7,1243.9 801.0,1239.7 802.4,1238.0 804.2,1240.9 806.0,1243.3 807.8,1246.1 809.6,1247.2 811.4,1249.8 813.2,1253.4 814.7,1250.1 816.3,1249.1 817.8,1244.5 819.3,1242.4 820.9,1238.7 822.4,1236.5 823.4,1238.3 824.4,1241.2 825.5,1246.7 826.5,1249.7 827.5,1251.4 828.5,1254.9 828.9,1252.6 829.3,1249.7 829.7,1247.5 830.1,1244.7 830.5,1240.1 830.9,1239.0 831.3,1236.0 831.7,1231.9 832.1,1230.0 832.6,1225.8 833.0,1222.5 833.4,1219.2 833.8,1218.3 834.2,1213.1 834.6,1209.9 835.0,1209.4 835.4,1206.4 835.8,1202.6 836.2,1199.7 839.2,1200.0 842.3,1198.2 842.6,1199.7 842.8,1203.3 843.1,1206.3 843.3,1209.7 843.6,1211.8 843.8,1214.4 844.1,1218.2 844.4,1222.9 844.6,1226.1 844.9,1228.3 845.1,1230.4 845.4,1233.4 846.6,1235.2 847.8,1240.1 848.9,1241.3 850.1,1244.5 851.3,1244.9 852.5,1248.1 853.6,1252.7 854.8,1255.1 856.0,1258.0 857.2,1259.7 858.3,1261.8 859.5,1264.9 860.7,1267.2 862.0,1265.8 863.3,1261.5 864.5,1259.6 865.8,1256.2 867.1,1255.2 868.4,1251.8 870.5,1252.4 872.7,1256.7 874.8,1259.7 877.0,1258.9 879.1,1262.6 880.9,1265.0 882.8,1267.3 884.6,1270.1 886.5,1271.4 888.3,1273.3 891.9,1273.0 895.4,1274.0 899.0,1274.8 902.7,1276.8 906.3,1277.2 910.0,1276.4 913.9,1276.0 917.7,1277.9 919.8,1274.5 922.0,1272.3 924.1,1270.0 926.3,1269.2 928.4,1267.2 930.9,1264.5 933.3,1265.3 935.8,1263.1 938.2,1259.8 940.7,1259.5 943.8,1260.4 946.8,1261.0 949.1,1262.7 951.4,1265.6 953.7,1267.0 956.0,1270.2 958.0,1272.2 960.1,1275.3 962.1,1279.4 965.2,1279.0 968.2,1280.1 971.3,1279.4 975.1,1281.1 979.0,1282.5 981.7,1280.3 984.4,1281.6 987.1,1281.4 989.8,1279.4 992.9,1279.8 995.9,1279.3 999.0,1277.9 1002.6,1275.8 1006.1,1276.8 1009.7,1276.4 1012.3,1273.5 1014.8,1274.2 1017.4,1271.8 1020.5,1268.5 1023.5,1267.2 1025.0,1270.7 1026.6,1272.0 1028.1,1276.2 1029.6,1277.8 1031.2,1279.7 1032.7,1284.0 1035.8,1284.0 1038.8,1284.0 1041.9,1286.2 1044.9,1284.6 1048.0,1285.6 1051.1,1285.6 1054.2,1285.8 1057.2,1287.0 1060.3,1284.3 1063.4,1285.6 1067.2,1284.4 1071.0,1282.5 1073.6,1284.6 1076.1,1287.4 1078.7,1288.7 1081.3,1288.6 1083.8,1285.0 1086.4,1284.0 1090.2,1286.2 1094.0,1287.1 1096.8,1285.7 1099.5,1284.2 1102.2,1281.1 1105.0,1281.0 1108.8,1281.2 1112.7,1279.4 1116.5,1282.5 1120.3,1282.5 1124.2,1281.3 1128.0,1281.0 1129.5,1283.5 1131.1,1287.1 1132.3,1286.0 1133.5,1280.6 1134.7,1277.9 1135.9,1275.2 1137.1,1275.0 1138.3,1272.2 1139.5,1268.7 1140.5,1271.6 1141.4,1275.2 1142.3,1276.4 1143.3,1281.0 1146.4,1281.8 1149.4,1281.6 1152.5,1282.2 1155.6,1282.5 1159.4,1283.7 1163.3,1285.6 1165.6,1287.6 1167.9,1290.2 1171.0,1289.6 1174.0,1289.4 1177.1,1290.9 1180.1,1290.6 1183.2,1291.7 1184.7,1289.6 1186.3,1287.2 1187.8,1284.1 1189.4,1280.5 1190.9,1277.9 1193.2,1274.8 1195.5,1272.9 1197.8,1271.0 1200.1,1268.7 1203.2,1267.6 1206.2,1265.6 1208.3,1269.6 1210.3,1269.4 1212.4,1273.3 1214.4,1276.3 1216.5,1279.4 1218.5,1282.5 1221.6,1283.7 1224.6,1284.7 1227.7,1284.0 1231.6,1284.9 1235.4,1284.0 1236.7,1281.9 1238.0,1279.7 1239.2,1276.9 1240.5,1274.9 1241.8,1271.9 1243.1,1269.3 1244.3,1265.3 1245.6,1264.9 1246.9,1261.0 1249.6,1263.7 1252.2,1267.2 1253.2,1270.3 1254.1,1273.6 1255.1,1276.7 1256.1,1279.5 1257.0,1279.1 1258.0,1282.7 1258.9,1285.4 1259.9,1288.7 1263.8,1286.8 1267.6,1285.6 1269.7,1282.3 1271.9,1281.5 1274.0,1277.8 1276.2,1276.3 1278.3,1274.8 1281.0,1275.1 1283.7,1273.3 1286.3,1271.2 1289.0,1270.2 1292.1,1270.5 1295.2,1273.3 1297.2,1277.8 1299.3,1280.1 1301.3,1282.5 1302.5,1284.6 1303.7,1288.1 1304.9,1292.2 1306.1,1294.8 1307.6,1292.7 1309.2,1288.6 1310.8,1288.1 1312.3,1284.0 1314.2,1280.8 1316.1,1277.9 1318.0,1277.1 1319.9,1273.3 1322.5,1270.7 1325.0,1270.8 1327.6,1268.7 1330.7,1266.2 1333.7,1265.6 1334.8,1268.6 1336.0,1270.3 1337.2,1273.3 1338.3,1276.4 1339.6,1280.6 1340.9,1281.9 1342.2,1284.6 1343.4,1288.0 1344.7,1289.8 1346.0,1293.3 1349.1,1291.9 1352.1,1292.3 1355.2,1291.6 1358.2,1291.0 1361.3,1291.7 1364.4,1295.2 1367.5,1294.3 1370.6,1297.9 1373.3,1297.0 1375.9,1295.4 1378.6,1292.8 1381.3,1290.2 1384.9,1287.6 1388.4,1288.1 1392.0,1287.1 1395.1,1284.7 1398.2,1285.6 1401.2,1285.0 1404.3,1282.6 1407.4,1282.5 1410.5,1281.3 1413.5,1283.4 1416.5,1282.3 1419.6,1284.0 1420.9,1280.9 1422.3,1278.9 1423.7,1277.8 1425.0,1273.6 1426.3,1270.4 1427.7,1270.0 1429.1,1267.6 1430.4,1264.1 1431.4,1267.0 1432.4,1268.3 1433.5,1271.6 1434.5,1275.1 1435.5,1278.3 1436.5,1281.0 1438.3,1282.6 1440.2,1286.9 1442.0,1289.5 1443.9,1292.2 1445.7,1293.3 1448.8,1295.1 1451.8,1293.0 1454.9,1295.4 1457.9,1294.4 1461.0,1296.3 1464.8,1299.1 1468.7,1299.4 1471.8,1300.5 1474.8,1300.9 1477.9,1299.4 1480.9,1299.3 1484.0,1301.0 1486.7,1300.7 1489.3,1298.7 1492.0,1297.4 1494.7,1295.6 1497.4,1295.3 1500.0,1292.5 1502.7,1291.7 1505.8,1290.4 1508.8,1290.0 1511.9,1289.3 1514.9,1289.7 1518.0,1288.7 1520.5,1291.2 1523.1,1289.9 1525.7,1291.1 1528.2,1293.8 1530.8,1295.6 1533.3,1296.3 1536.4,1295.9 1539.5,1296.8 1542.5,1296.7 1545.6,1297.3 1548.7,1299.4 1551.8,1300.3 1554.8,1301.8 1557.9,1302.7 1560.9,1302.0 1564.0,1304.0 1566.8,1301.8 1569.5,1303.5 1572.3,1301.4 1575.0,1300.0 1577.8,1299.4 1580.9,1299.5 1583.9,1299.1 1587.0,1297.9 1590.1,1298.9 1593.2,1298.4 1596.2,1301.7 1599.3,1300.7 1602.4,1302.5 1605.5,1300.7 1608.5,1301.4 1611.6,1301.7 1614.6,1301.7 1617.7,1301.0 1620.8,1300.0 1623.8,1301.7 1626.9,1301.0 1629.9,1299.9 1633.0,1301.0 1636.1,1303.0 1639.2,1303.8 1642.2,1305.0 1645.3,1305.2 1648.4,1305.5 1651.5,1304.6 1654.5,1306.4 1657.6,1306.8 1660.6,1305.6 1663.7,1305.5 1666.8,1305.9 1669.8,1305.2 1672.9,1302.4 1675.9,1303.3 1679.0,1301.0 1682.2,1301.5 1685.4,1300.1 1688.6,1296.6 1691.8,1296.8 1695.0,1296.3 1696.8,1294.3 1698.6,1291.9 1700.4,1289.2 1703.5,1290.0 1706.6,1289.7 1709.8,1288.1 1712.9,1290.6 1716.0,1289.2 1718.9,1287.9 1721.8,1287.5 1724.6,1283.9 1727.5,1285.0 1730.4,1282.0 1733.4,1284.0 1736.4,1285.6 1738.1,1288.9 1739.8,1291.2 1741.4,1294.0 1743.1,1294.8 1744.8,1297.6 1748.4,1297.5 1752.0,1300.0 1755.0,1299.7 1758.0,1299.0 1761.0,1300.1 1764.0,1300.0 1767.0,1301.0 1770.0,1299.6 1773.0,1298.8 1776.0,1300.0 1778.8,1298.5 1781.6,1299.8 1784.4,1300.3 1787.2,1298.5 1790.0,1300.5 1792.8,1299.1 1795.6,1298.7 1798.4,1301.4 1801.2,1300.0" stroke="#1a5688" stroke-width="1.6"/>
</g>
<rect x="185.2" y="39.6" width="1617.3" height="1279.0" fill="none" stroke="#6e6e6e" stroke-width="3"/>
<path d="M185.2 1318.6V1301.1M185.2 39.6V57.1M346.9 1318.6V1301.1M346.9 39.6V57.1M508.7 1318.6V1301.1M508.7 39.6V57.1M670.4 1318.6V1301.1M670.4 39.6V57.1M832.1 1318.6V1301.1M832.1 39.6V57.1M993.8 1318.6V1301.1M993.8 39.6V57.1M1155.6 1318.6V1301.1M1155.6 39.6V57.1M1317.3 1318.6V1301.1M1317.3 39.6V57.1M1479.0 1318.6V1301.1M1479.0 39.6V57.1M1640.8 1318.6V1301.1M1640.8 39.6V57.1M1802.5 1318.6V1301.1M1802.5 39.6V57.1M185.2 1318.6H202.7M1802.5 1318.6H1785.0M185.2 1190.7H202.7M1802.5 1190.7H1785.0M185.2 1062.8H202.7M1802.5 1062.8H1785.0M185.2 934.9H202.7M1802.5 934.9H1785.0M185.2 807.0H202.7M1802.5 807.0H1785.0M185.2 679.1H202.7M1802.5 679.1H1785.0M185.2 551.2H202.7M1802.5 551.2H1785.0M185.2 423.3H202.7M1802.5 423.3H1785.0M185.2 295.4H202.7M1802.5 295.4H1785.0M185.2 167.5H202.7M1802.5 167.5H1785.0M185.2 39.6H202.7M1802.5 39.6H1785.0" stroke="#5a5a5a" stroke-width="2.6" fill="none"/>
<g fill="#262626" font-size="50">
<text x="183.4" y="1391.5" text-anchor="middle">0</text>
<text x="345.1" y="1391.5" text-anchor="middle">2</text>
<text x="506.9" y="1391.5" text-anchor="middle">4</text>
<text x="668.6" y="1391.5" text-anchor="middle">6</text>
<text x="830.3" y="1391.5" text-anchor="middle">8</text>
<text x="992.0" y="1391.5" text-anchor="middle">10</text>
<text x="1153.8" y="1391.5" text-anchor="middle">12</text>
<text x="1315.5" y="1391.5" text-anchor="middle">14</text>
<text x="1477.2" y="1391.5" text-anchor="middle">16</text>
<text x="1639.0" y="1391.5" text-anchor="middle">18</text>
<text x="1800.7" y="1391.5" text-anchor="middle">20</text>
<text x="164.3" y="1338.4" text-anchor="end">0</text>
<text x="164.3" y="1210.5" text-anchor="end">0.2</text>
<text x="164.3" y="1082.6" text-anchor="end">0.4</text>
<text x="164.3" y="954.7" text-anchor="end">0.6</text>
<text x="164.3" y="826.8" text-anchor="end">0.8</text>
<text x="164.3" y="698.9" text-anchor="end">1</text>
<text x="164.3" y="571.0" text-anchor="end">1.2</text>
<text x="164.3" y="443.1" text-anchor="end">1.4</text>
<text x="164.3" y="315.2" text-anchor="end">1.6</text>
<text x="164.3" y="187.3" text-anchor="end">1.8</text>
<text x="164.3" y="59.4" text-anchor="end">2</text>
</g>
<text x="993" y="1466.3" text-anchor="middle" font-size="55" fill="#262626">Number of epochs</text>
<text transform="translate(68,681) rotate(-90)" x="0" y="0" text-anchor="middle" font-size="55" fill="#262626">Training loss</text>
<rect x="1375.4" y="80.2" width="385.5" height="197.3" fill="#ffffff" stroke="#7a7a7a" stroke-width="2.6"/>
<g stroke-width="2.6">
<line x1="1388" y1="117.3" x2="1538" y2="117.3" stroke="#7791a5"/>
<line x1="1388" y1="179.5" x2="1538" y2="179.5" stroke="#cfaa9e"/>
<line x1="1388" y1="241" x2="1538" y2="241" stroke="#d3c189"/>
</g>
<g fill="#262626" font-size="44.3">
<text x="1549" y="134.8">SGDM</text>
<text x="1549" y="195.4">RMSProp</text>
<text x="1549" y="257.2">Adam</text>
</g>
<g clip-path="url(#insclip)" fill="none" stroke-linejoin="round" stroke-linecap="round">
<path d="M732.2,789.2C733.0,791.3 735.3,800.8 737.6,803.6C739.9,806.4 745.8,808.0 748.4,809.0C751.0,810.0 753.8,809.0 755.6,810.8C757.4,812.6 758.9,820.1 761.0,821.6C763.1,823.1 767.4,821.3 770.0,821.6C772.6,821.9 775.7,823.7 779.0,823.4C782.3,823.1 790.8,820.6 793.4,819.8C796.0,819.0 795.5,816.5 797.0,818.0C798.5,819.5 802.4,831.1 804.2,830.6C806.0,830.1 807.3,818.8 809.6,814.4C811.9,810.0 817.1,804.1 820.4,800.0C823.7,795.9 829.4,790.7 833.0,785.6C836.6,780.5 843.3,765.8 845.6,764.0C847.9,762.2 847.7,775.1 849.2,773.0C850.7,770.9 853.6,754.0 856.4,749.6C859.2,745.2 866.7,741.9 869.0,742.4C871.3,742.9 870.5,750.4 872.6,753.2C874.7,756.0 881.1,760.4 883.4,762.2C885.7,764.0 887.3,766.6 888.8,765.8C890.3,765.0 891.6,758.6 894.2,756.8C896.8,755.0 904.0,756.5 906.8,753.2C909.6,749.9 911.2,737.3 914.0,733.4C916.8,729.5 924.3,724.4 926.6,726.2C928.9,728.0 928.9,738.8 930.2,746.0C931.5,753.2 933.3,772.2 935.6,776.6C937.9,781.0 943.1,778.4 946.4,776.6C949.7,774.8 955.6,765.3 959.0,764.0C962.4,762.7 967.7,767.6 970.0,767.6C972.3,767.6 973.9,763.7 975.4,764.0C976.9,764.3 979.3,767.9 980.8,769.4C982.3,770.9 984.9,771.5 986.2,774.8C987.5,778.1 988.0,786.4 989.8,792.8C991.6,799.2 997.0,815.7 998.8,819.8C1000.6,823.9 1001.1,823.1 1002.4,821.6C1003.7,820.1 1006.0,810.5 1007.8,809.0C1009.6,807.5 1012.9,810.3 1015.0,810.8C1017.1,811.3 1020.1,813.6 1022.2,812.6C1024.3,811.6 1027.7,805.1 1029.4,803.6C1031.1,802.1 1032.7,804.1 1033.9,801.8C1035.1,799.5 1035.8,788.4 1037.5,787.4C1039.2,786.4 1043.4,793.1 1045.6,794.6C1047.8,796.1 1050.7,797.4 1052.8,798.2C1054.9,799.0 1057.7,798.5 1060.0,800.0C1062.3,801.5 1066.7,805.7 1069.0,809.0C1071.3,812.3 1073.6,819.5 1076.2,823.4C1078.8,827.3 1084.7,835.2 1087.0,836.0C1089.3,836.8 1090.3,829.6 1092.4,828.8C1094.5,828.0 1097.5,829.8 1101.4,830.6C1105.3,831.4 1115.8,834.7 1119.4,834.2C1123.0,833.7 1124.8,826.7 1126.6,827.0C1128.4,827.3 1129.9,836.0 1132.0,836.0C1134.1,836.0 1137.1,828.8 1141.0,827.0C1144.9,825.2 1155.1,824.2 1159.0,823.4C1162.9,822.6 1165.2,820.3 1168.0,821.6C1170.8,822.9 1176.5,831.1 1178.8,832.4C1181.1,833.7 1182.4,838.6 1184.2,830.6C1186.0,822.6 1189.6,785.1 1191.4,776.6C1193.2,768.1 1195.0,771.7 1196.8,771.2C1198.6,770.7 1202.5,774.5 1204.0,773.0C1205.5,771.5 1206.1,763.8 1207.6,760.4C1209.1,757.0 1212.7,752.9 1214.8,749.0C1216.9,745.1 1220.4,732.8 1222.2,733.4C1224.0,734.0 1226.3,747.3 1227.6,753.2C1228.9,759.1 1229.9,770.7 1231.2,774.8C1232.5,778.9 1234.8,781.5 1236.6,782.0C1238.4,782.5 1242.4,781.7 1243.8,778.4C1245.2,775.1 1245.2,760.9 1246.5,758.6C1247.8,756.3 1251.1,759.1 1252.8,762.2C1254.5,765.3 1256.7,775.3 1258.2,780.2C1259.7,785.1 1261.8,795.1 1263.6,796.4C1265.4,797.7 1268.2,790.0 1270.8,789.2C1273.4,788.4 1279.5,787.1 1281.6,791.0C1283.7,794.9 1283.9,812.6 1285.2,816.2C1286.5,819.8 1288.8,819.0 1290.6,816.2C1292.4,813.4 1296.0,801.0 1297.8,796.4C1299.6,791.8 1300.6,786.1 1303.2,783.8C1305.8,781.5 1312.5,779.7 1315.8,780.2C1319.1,780.7 1323.0,787.4 1326.6,787.4C1330.2,787.4 1337.7,780.5 1341.0,780.2C1344.3,779.9 1347.4,784.1 1350.0,785.6C1352.6,787.1 1356.7,792.3 1359.0,791.0C1361.3,789.7 1363.9,777.4 1366.2,776.6C1368.5,775.8 1372.9,781.5 1375.2,785.6C1377.5,789.7 1379.8,801.8 1382.4,805.4C1385.0,809.0 1388.8,810.3 1393.2,810.8C1397.6,811.3 1409.1,810.8 1413.0,809.0C1416.9,807.2 1418.4,800.0 1420.2,798.2C1422.0,796.4 1424.1,798.5 1425.6,796.4C1427.1,794.3 1428.7,785.3 1431.0,783.8C1433.3,782.3 1439.2,784.8 1441.8,785.6C1444.4,786.4 1446.9,787.4 1449.0,789.2C1451.1,791.0 1454.3,797.7 1456.2,798.2C1458.1,798.7 1460.8,791.8 1462.2,792.8C1463.6,793.8 1464.3,802.8 1465.8,805.4C1467.3,808.0 1470.2,808.7 1473.0,810.8C1475.8,812.9 1482.8,818.5 1485.6,819.8C1488.4,821.1 1490.5,818.3 1492.8,819.8C1495.1,821.3 1499.5,830.1 1501.8,830.6C1504.1,831.1 1507.2,824.4 1509.0,823.4C1510.8,822.4 1512.3,822.9 1514.4,823.4C1516.5,823.9 1521.1,825.7 1523.4,827.0C1525.7,828.3 1528.3,832.1 1530.6,832.4C1532.9,832.7 1537.5,828.3 1539.6,828.8C1541.7,829.3 1542.7,834.5 1545.0,836.0C1547.3,837.5 1553.2,839.6 1555.8,839.6C1558.4,839.6 1559.9,835.7 1563.0,836.0C1566.1,836.3 1574.3,842.2 1577.4,841.4C1580.5,840.6 1582.3,833.7 1584.6,830.6C1586.9,827.5 1590.8,821.3 1593.6,819.8C1596.4,818.3 1601.3,821.1 1604.4,819.8C1607.5,818.5 1612.9,811.3 1615.2,810.8C1617.5,810.3 1618.5,814.1 1620.6,816.2C1622.7,818.3 1627.5,824.2 1629.6,825.2C1631.7,826.2 1633.2,823.1 1635.0,823.4C1636.8,823.7 1640.4,826.7 1642.2,827.0C1644.0,827.3 1645.8,826.5 1647.6,825.2C1649.4,823.9 1652.5,819.8 1654.8,818.0C1657.1,816.2 1662.0,817.2 1663.8,812.6C1665.6,808.0 1665.6,789.5 1667.4,785.6C1669.2,781.7 1673.8,786.6 1676.4,785.6C1679.0,784.6 1683.1,779.7 1685.4,778.4C1687.7,777.1 1690.5,778.1 1692.6,776.6C1694.7,775.1 1698.8,768.9 1699.8,767.6" stroke="#dcf0fa" stroke-width="4.5"/>
<polyline points="732.2,810.8 738.5,800.0 742.1,728.0 745.7,623.6 752.0,627.2 759.2,627.2 767.3,622.7 770.9,674.0 773.6,800.0 779.0,805.4 795.2,816.2 798.8,818.0 800.6,711.8 804.2,715.4 813.2,721.7 824.0,709.1 827.6,710.0 829.4,814.4 842.0,819.8 852.8,834.2 869.0,832.4 872.6,818.0 877.0,640.0 879.0,446.6 881.9,388.6 885.7,369.3 890.6,367.4 898.3,369.3 901.2,375.1 904.1,446.6 906.0,523.9 908.0,640.0 910.4,807.2 923.0,821.6 928.4,818.0 933.8,794.6 941.0,798.2 955.4,798.2 960.8,836.0 975.0,843.2 984.4,843.2 997.0,839.6 999.7,832.4 1001.5,755.0 1005.1,728.0 1009.6,722.6 1016.8,715.4 1021.3,706.4 1027.6,652.4 1032.1,710.0 1036.6,740.6 1042.0,742.4 1046.5,722.6 1050.1,731.6 1056.4,778.4 1061.8,803.6 1067.2,807.2 1071.7,789.2 1074.4,810.8 1078.0,814.4 1085.2,818.0 1094.2,814.4 1099.6,819.8 1101.4,830.6 1117.6,830.6 1119.4,818.0 1122.0,640.0 1124.2,552.1 1128.6,493.4 1133.8,458.2 1139.6,447.9 1146.2,447.9 1148.4,456.7 1149.9,508.1 1151.4,566.8 1152.1,640.0 1157.2,764.0 1162.6,810.8 1168.0,819.8 1177.0,823.4 1186.0,836.0 1195.0,832.4 1200.4,814.4 1211.2,796.4 1214.8,728.0 1216.6,670.4 1218.6,668.6 1225.8,666.8 1228.5,679.4 1233.0,684.8 1240.2,699.2 1243.8,782.0 1245.6,800.0 1251.0,807.2 1263.6,812.6 1269.0,807.2 1274.4,823.4 1287.0,821.6 1296.9,827.0 1300.5,800.0 1306.8,744.2 1312.2,737.0 1324.8,737.0 1328.4,747.8 1332.0,800.0 1337.4,836.0 1350.0,841.4 1377.0,839.6 1386.0,834.2 1393.2,834.2 1395.0,809.0 1397.0,640.0 1399.3,532.4 1402.7,529.0 1410.6,523.3 1412.3,498.4 1414.0,491.5 1420.8,488.1 1422.5,490.4 1423.7,526.7 1425.4,583.4 1425.9,640.0 1428.3,773.0 1431.0,783.8 1436.4,787.4 1440.0,776.6 1443.6,801.8 1449.0,807.2 1455.0,809.0 1462.2,814.4 1468.5,821.6 1470.3,782.0 1474.8,753.2 1482.0,738.8 1491.0,737.0 1496.4,717.2 1499.1,764.0 1509.0,794.6 1519.8,798.2 1525.2,832.4 1530.6,837.8 1539.6,836.0 1541.4,728.0 1543.5,300.0 1571.7,300.0 1574.7,800.0 1581.0,803.6 1588.2,809.0 1591.8,796.4 1599.0,794.6 1603.5,787.4 1609.8,796.4 1617.0,805.4 1624.2,819.8 1631.4,836.0 1636.8,837.8 1642.2,827.0 1644.0,791.0 1651.2,767.6 1658.4,764.0 1667.4,765.8 1671.0,782.0 1676.4,818.0 1681.8,828.8 1689.0,819.8 1699.8,818.0" stroke="#fce6da" stroke-width="4.5"/>
<path d="M732.2,819.8C735.0,821.3 745.3,827.0 752.0,830.6C758.7,834.2 772.6,842.7 779.0,845.0C785.4,847.3 790.6,847.6 797.0,846.8C803.4,846.0 816.3,841.1 824.0,839.6C831.7,838.1 844.6,837.3 851.0,836.0C857.4,834.7 863.9,833.2 869.0,830.6C874.1,828.0 882.6,820.8 887.0,818.0C891.4,815.2 895.7,811.3 899.6,810.8C903.5,810.3 909.4,813.1 914.0,814.4C918.6,815.7 925.6,817.7 932.0,819.8C938.4,821.9 952.9,827.1 959.0,828.8C965.1,830.5 969.1,831.0 975.0,832.0C980.9,833.0 993.6,834.7 1000.6,836.0C1007.6,837.3 1016.8,839.6 1024.0,841.4C1031.2,843.2 1043.3,846.3 1051.0,848.6C1058.7,850.9 1070.8,855.0 1078.0,857.6C1085.2,860.2 1096.3,866.3 1101.4,866.6C1106.5,866.9 1109.6,860.9 1114.0,859.4C1118.4,857.9 1125.6,856.8 1132.0,855.8C1138.4,854.8 1151.3,853.7 1159.0,852.2C1166.7,850.7 1178.0,845.5 1186.0,845.0C1194.0,844.5 1208.3,847.6 1215.0,848.6C1221.7,849.6 1225.3,851.7 1233.0,852.2C1240.7,852.7 1261.3,851.2 1269.0,852.2C1276.7,853.2 1281.9,857.6 1287.0,859.4C1292.1,861.2 1301.1,863.3 1305.0,864.8C1308.9,866.3 1308.9,870.2 1314.0,870.2C1319.1,870.2 1332.0,867.1 1341.0,864.8C1350.0,862.5 1366.7,857.6 1377.0,854.0C1387.3,850.4 1405.3,841.7 1413.0,839.6C1420.7,837.5 1425.9,838.8 1431.0,839.6C1436.1,840.4 1444.1,843.7 1449.0,845.0C1453.9,846.3 1461.6,847.6 1465.0,848.6C1468.4,849.6 1468.0,850.4 1473.0,852.2C1478.0,854.0 1492.3,857.9 1500.0,861.2C1507.7,864.5 1518.0,872.3 1527.0,875.6C1536.0,878.9 1552.7,883.6 1563.0,884.6C1573.3,885.6 1591.3,883.3 1599.0,882.8C1606.7,882.3 1610.6,882.0 1617.0,881.0C1623.4,880.0 1636.3,877.4 1644.0,875.6C1651.7,873.8 1663.0,871.0 1671.0,868.4C1679.0,865.8 1695.7,859.1 1699.8,857.6" stroke="#fcf4dc" stroke-width="4.5"/>
<polyline points="732.2,819.8 735.0,821.2 737.9,823.0 740.7,825.5 743.5,825.9 746.3,827.5 749.2,829.3 752.0,830.6 754.7,831.2 757.4,833.5 760.1,835.3 762.8,837.1 765.5,836.7 768.2,838.7 770.9,839.6 773.6,842.9 776.3,844.1 779.0,845.0 782.0,844.1 785.0,846.9 788.0,847.1 791.0,846.6 794.0,846.8 797.0,846.8 800.0,845.1 803.0,843.9 806.0,844.5 809.0,842.5 812.0,842.0 815.0,841.3 818.0,840.0 821.0,840.3 824.0,839.6 827.0,839.0 830.0,839.7 833.0,838.4 836.0,838.4 839.0,837.6 842.0,837.6 845.0,836.7 848.0,835.8 851.0,836.0 854.0,836.4 857.0,835.5 860.0,834.2 863.0,832.9 866.0,831.0 869.0,830.6 871.6,828.1 874.1,826.5 876.7,824.1 879.3,824.1 881.9,821.3 884.4,820.7 887.0,818.0 890.1,815.9 893.3,815.6 896.5,813.5 899.6,810.8 903.2,810.4 906.8,811.8 910.4,814.6 914.0,814.4 917.0,815.2 920.0,817.4 923.0,816.8 926.0,816.9 929.0,819.2 932.0,819.8 935.0,821.5 938.0,821.2 941.0,821.7 944.0,823.4 947.0,826.0 950.0,826.5 953.0,825.8 956.0,827.1 959.0,828.8 962.2,828.4 965.4,828.9 968.6,831.5 971.8,830.5 975.0,832.0 978.2,832.7 981.4,832.9 984.6,832.7 987.8,834.6 991.0,833.5 994.2,835.4 997.4,834.5 1000.6,836.0 1003.5,836.5 1006.5,836.6 1009.4,837.4 1012.3,839.9 1015.2,840.2 1018.1,839.5 1021.1,841.7 1024.0,841.4 1027.0,841.4 1030.0,842.7 1033.0,844.7 1036.0,845.0 1039.0,844.4 1042.0,847.5 1045.0,846.3 1048.0,847.2 1051.0,848.6 1054.0,850.3 1057.0,850.2 1060.0,851.1 1063.0,851.5 1066.0,852.5 1069.0,854.8 1072.0,854.9 1075.0,856.9 1078.0,857.6 1080.9,858.4 1083.8,859.7 1086.8,862.2 1089.7,862.1 1092.6,863.4 1095.6,865.3 1098.5,864.7 1101.4,866.6 1104.6,863.9 1107.7,864.1 1110.8,862.0 1114.0,859.4 1117.0,858.1 1120.0,857.4 1123.0,858.2 1126.0,858.1 1129.0,855.6 1132.0,855.8 1135.0,856.6 1138.0,856.0 1141.0,854.9 1144.0,854.0 1147.0,852.8 1150.0,852.2 1153.0,854.2 1156.0,851.9 1159.0,852.2 1162.0,851.9 1165.0,850.0 1168.0,850.6 1171.0,849.3 1174.0,847.7 1177.0,846.6 1180.0,847.2 1183.0,844.7 1186.0,845.0 1189.2,844.7 1192.4,846.0 1195.7,847.1 1198.9,846.9 1202.1,846.4 1205.3,848.5 1208.6,847.0 1211.8,846.9 1215.0,848.6 1218.0,848.6 1221.0,849.7 1224.0,849.3 1227.0,850.2 1230.0,851.3 1233.0,852.2 1236.0,852.4 1239.0,851.2 1242.0,851.8 1245.0,853.2 1248.0,853.4 1251.0,852.6 1254.0,852.7 1257.0,852.4 1260.0,851.3 1263.0,851.0 1266.0,850.9 1269.0,852.2 1272.0,854.5 1275.0,855.1 1278.0,857.0 1281.0,855.8 1284.0,858.6 1287.0,859.4 1290.0,860.3 1293.0,861.8 1296.0,861.6 1299.0,864.3 1302.0,862.8 1305.0,864.8 1308.0,866.7 1311.0,869.0 1314.0,870.2 1317.0,870.6 1320.0,869.6 1323.0,868.9 1326.0,868.6 1329.0,868.3 1332.0,866.2 1335.0,866.5 1338.0,866.4 1341.0,864.8 1344.0,864.9 1347.0,862.8 1350.0,862.9 1353.0,862.1 1356.0,860.5 1359.0,859.7 1362.0,858.2 1365.0,857.8 1368.0,857.0 1371.0,854.7 1374.0,855.3 1377.0,854.0 1380.0,854.1 1383.0,852.6 1386.0,851.0 1389.0,848.9 1392.0,848.6 1395.0,847.0 1398.0,845.4 1401.0,845.3 1404.0,842.1 1407.0,842.7 1410.0,839.6 1413.0,839.6 1416.0,839.9 1419.0,839.6 1422.0,838.9 1425.0,840.1 1428.0,839.6 1431.0,839.6 1434.0,840.8 1437.0,842.5 1440.0,841.7 1443.0,841.9 1446.0,843.6 1449.0,845.0 1452.2,846.2 1455.4,845.7 1458.6,846.3 1461.8,848.9 1465.0,848.6 1469.0,850.8 1473.0,852.2 1476.0,853.0 1479.0,855.2 1482.0,854.8 1485.0,856.6 1488.0,856.4 1491.0,858.0 1494.0,860.0 1497.0,861.3 1500.0,861.2 1502.7,863.6 1505.4,863.8 1508.1,865.7 1510.8,866.5 1513.5,867.5 1516.2,869.8 1518.9,872.2 1521.6,873.6 1524.3,874.7 1527.0,875.6 1530.0,877.5 1533.0,876.5 1536.0,877.0 1539.0,878.5 1542.0,878.8 1545.0,879.4 1548.0,880.6 1551.0,881.9 1554.0,882.3 1557.0,882.6 1560.0,884.7 1563.0,884.6 1566.0,885.7 1569.0,884.2 1572.0,883.0 1575.0,882.8 1578.0,884.8 1581.0,882.5 1584.0,884.1 1587.0,883.6 1590.0,882.8 1593.0,883.9 1596.0,881.7 1599.0,882.8 1602.0,881.6 1605.0,882.1 1608.0,880.7 1611.0,882.5 1614.0,880.6 1617.0,881.0 1620.0,879.5 1623.0,878.6 1626.0,879.5 1629.0,878.5 1632.0,878.3 1635.0,877.8 1638.0,877.6 1641.0,877.4 1644.0,875.6 1647.0,875.3 1650.0,873.2 1653.0,873.1 1656.0,871.6 1659.0,870.3 1662.0,870.7 1665.0,870.6 1668.0,868.4 1671.0,868.4 1673.9,866.7 1676.8,865.8 1679.6,865.7 1682.5,864.1 1685.4,863.3 1688.3,862.6 1691.2,860.6 1694.0,860.5 1696.9,859.7 1699.8,857.6" stroke="#e6b54a" stroke-width="1.8"/>
<polyline points="732.2,810.8 738.5,800.0 742.1,728.0 745.7,623.6 752.0,627.2 759.2,627.2 767.3,622.7 770.9,674.0 773.6,800.0 779.0,805.4 795.2,816.2 798.8,818.0 800.6,711.8 804.2,715.4 813.2,721.7 824.0,709.1 827.6,710.0 829.4,814.4 842.0,819.8 852.8,834.2 869.0,832.4 872.6,818.0 877.0,640.0 879.0,446.6 881.9,388.6 885.7,369.3 890.6,367.4 898.3,369.3 901.2,375.1 904.1,446.6 906.0,523.9 908.0,640.0 910.4,807.2 923.0,821.6 928.4,818.0 933.8,794.6 941.0,798.2 955.4,798.2 960.8,836.0 975.0,843.2 984.4,843.2 997.0,839.6 999.7,832.4 1001.5,755.0 1005.1,728.0 1009.6,722.6 1016.8,715.4 1021.3,706.4 1027.6,652.4 1032.1,710.0 1036.6,740.6 1042.0,742.4 1046.5,722.6 1050.1,731.6 1056.4,778.4 1061.8,803.6 1067.2,807.2 1071.7,789.2 1074.4,810.8 1078.0,814.4 1085.2,818.0 1094.2,814.4 1099.6,819.8 1101.4,830.6 1117.6,830.6 1119.4,818.0 1122.0,640.0 1124.2,552.1 1128.6,493.4 1133.8,458.2 1139.6,447.9 1146.2,447.9 1148.4,456.7 1149.9,508.1 1151.4,566.8 1152.1,640.0 1157.2,764.0 1162.6,810.8 1168.0,819.8 1177.0,823.4 1186.0,836.0 1195.0,832.4 1200.4,814.4 1211.2,796.4 1214.8,728.0 1216.6,670.4 1218.6,668.6 1225.8,666.8 1228.5,679.4 1233.0,684.8 1240.2,699.2 1243.8,782.0 1245.6,800.0 1251.0,807.2 1263.6,812.6 1269.0,807.2 1274.4,823.4 1287.0,821.6 1296.9,827.0 1300.5,800.0 1306.8,744.2 1312.2,737.0 1324.8,737.0 1328.4,747.8 1332.0,800.0 1337.4,836.0 1350.0,841.4 1377.0,839.6 1386.0,834.2 1393.2,834.2 1395.0,809.0 1397.0,640.0 1399.3,532.4 1402.7,529.0 1410.6,523.3 1412.3,498.4 1414.0,491.5 1420.8,488.1 1422.5,490.4 1423.7,526.7 1425.4,583.4 1425.9,640.0 1428.3,773.0 1431.0,783.8 1436.4,787.4 1440.0,776.6 1443.6,801.8 1449.0,807.2 1455.0,809.0 1462.2,814.4 1468.5,821.6 1470.3,782.0 1474.8,753.2 1482.0,738.8 1491.0,737.0 1496.4,717.2 1499.1,764.0 1509.0,794.6 1519.8,798.2 1525.2,832.4 1530.6,837.8 1539.6,836.0 1541.4,728.0 1543.5,300.0 1571.7,300.0 1574.7,800.0 1581.0,803.6 1588.2,809.0 1591.8,796.4 1599.0,794.6 1603.5,787.4 1609.8,796.4 1617.0,805.4 1624.2,819.8 1631.4,836.0 1636.8,837.8 1642.2,827.0 1644.0,791.0 1651.2,767.6 1658.4,764.0 1667.4,765.8 1671.0,782.0 1676.4,818.0 1681.8,828.8 1689.0,819.8 1699.8,818.0" stroke="#cf6f4a" stroke-width="1.7"/>
<polyline points="732.2,789.2 733.3,792.0 734.4,795.6 735.4,798.5 736.5,799.3 737.6,803.6 740.3,803.0 743.0,805.8 745.7,806.7 748.4,809.0 752.0,811.1 755.6,810.8 757.0,814.3 758.3,816.6 759.6,819.1 761.0,821.6 764.0,822.2 767.0,820.2 770.0,821.6 773.0,822.0 776.0,821.4 779.0,823.4 781.9,824.3 784.8,820.2 787.6,822.5 790.5,818.8 793.4,819.8 797.0,818.0 798.4,821.3 799.9,822.4 801.3,825.2 802.8,829.4 804.2,830.6 805.1,826.0 806.0,823.4 806.9,824.2 807.8,819.8 808.7,815.5 809.6,814.4 811.4,813.9 813.2,811.4 815.0,805.7 816.8,804.5 818.6,800.9 820.4,800.0 822.2,797.2 824.0,796.4 825.8,792.5 827.6,792.6 829.4,787.9 831.2,786.3 833.0,785.6 834.4,784.5 835.8,780.4 837.2,778.1 838.6,776.4 840.0,773.5 841.4,770.7 842.8,766.9 844.2,767.3 845.6,764.0 846.8,768.9 848.0,771.9 849.2,773.0 850.0,771.1 850.8,767.2 851.6,764.7 852.4,763.4 853.2,760.7 854.0,755.9 854.8,753.7 855.6,751.7 856.4,749.6 858.9,748.2 861.4,748.0 864.0,745.3 866.5,742.0 869.0,742.4 869.9,746.4 870.8,747.5 871.7,750.6 872.6,753.2 874.8,753.9 876.9,756.5 879.1,758.2 881.2,761.5 883.4,762.2 886.1,762.4 888.8,765.8 890.1,763.7 891.5,760.0 892.9,759.8 894.2,756.8 896.7,754.2 899.2,754.5 901.8,754.0 904.3,754.5 906.8,753.2 907.7,748.9 908.6,748.1 909.5,744.6 910.4,742.4 911.3,740.7 912.2,740.2 913.1,735.8 914.0,733.4 916.5,733.8 919.0,729.2 921.6,730.8 924.1,727.1 926.6,726.2 927.1,727.8 927.6,732.9 928.1,736.3 928.7,735.5 929.2,739.4 929.7,744.3 930.2,746.0 930.7,748.1 931.2,750.5 931.7,752.4 932.2,755.3 932.7,760.4 933.1,764.6 933.6,767.5 934.1,768.3 934.6,769.1 935.1,773.1 935.6,776.6 938.3,777.7 941.0,777.9 943.7,777.2 946.4,776.6 948.5,773.4 950.6,772.5 952.7,770.2 954.8,768.7 956.9,765.2 959.0,764.0 961.8,766.7 964.5,767.4 967.2,765.3 970.0,767.6 972.7,765.0 975.4,764.0 978.1,768.2 980.8,769.4 983.5,771.2 986.2,774.8 986.7,779.1 987.2,780.0 987.7,783.3 988.3,785.9 988.8,786.5 989.3,789.4 989.8,792.8 990.7,794.5 991.6,798.9 992.5,801.7 993.4,802.1 994.3,807.8 995.2,808.7 996.1,810.7 997.0,814.1 997.9,819.0 998.8,819.8 1002.4,821.6 1003.5,819.3 1004.6,817.1 1005.6,815.7 1006.7,813.4 1007.8,809.0 1011.4,810.9 1015.0,810.8 1018.6,811.4 1022.2,812.6 1024.0,810.7 1025.8,809.7 1027.6,807.0 1029.4,803.6 1033.9,801.8 1034.6,799.2 1035.3,795.4 1036.1,792.6 1036.8,791.2 1037.5,787.4 1039.5,789.5 1041.5,789.1 1043.6,793.6 1045.6,794.6 1048.0,797.4 1050.4,798.2 1052.8,798.2 1056.4,800.7 1060.0,800.0 1062.2,803.9 1064.5,804.6 1066.8,807.9 1069.0,809.0 1070.2,810.9 1071.4,812.2 1072.6,815.6 1073.8,817.8 1075.0,822.7 1076.2,823.4 1078.0,826.3 1079.8,827.8 1081.6,830.2 1083.4,830.3 1085.2,834.0 1087.0,836.0 1088.8,834.4 1090.6,830.8 1092.4,828.8 1095.4,828.4 1098.4,829.6 1101.4,830.6 1104.0,830.4 1106.5,832.4 1109.1,830.7 1111.7,831.0 1114.3,832.4 1116.8,834.5 1119.4,834.2 1121.8,832.8 1124.2,830.0 1126.6,827.0 1127.9,831.0 1129.3,831.0 1130.7,831.9 1132.0,836.0 1134.2,833.7 1136.5,831.3 1138.8,828.0 1141.0,827.0 1143.6,827.2 1146.1,825.3 1148.7,824.4 1151.3,824.3 1153.9,826.2 1156.4,821.9 1159.0,823.4 1162.0,822.2 1165.0,821.3 1168.0,821.6 1170.2,822.6 1172.3,825.6 1174.5,827.0 1176.6,831.9 1178.8,832.4 1181.5,831.5 1184.2,830.6 1184.6,828.7 1184.9,823.8 1185.3,822.4 1185.6,820.2 1186.0,818.5 1186.4,813.4 1186.7,811.5 1187.1,810.4 1187.4,807.6 1187.8,802.5 1188.2,801.1 1188.5,799.2 1188.9,795.1 1189.2,793.5 1189.6,790.8 1190.0,789.3 1190.3,784.9 1190.7,782.7 1191.0,778.7 1191.4,776.6 1194.1,774.8 1196.8,771.2 1200.4,771.4 1204.0,773.0 1204.7,770.5 1205.4,767.4 1206.2,764.7 1206.9,761.5 1207.6,760.4 1209.0,757.0 1210.5,756.0 1211.9,752.6 1213.4,749.5 1214.8,749.0 1216.0,747.6 1217.3,742.9 1218.5,742.9 1219.7,739.0 1221.0,735.6 1222.2,733.4 1223.0,737.7 1223.7,740.6 1224.5,741.2 1225.3,743.2 1226.1,748.1 1226.8,751.7 1227.6,753.2 1228.0,756.3 1228.5,759.7 1229.0,760.9 1229.4,764.5 1229.8,765.8 1230.3,769.0 1230.8,771.6 1231.2,774.8 1233.0,776.7 1234.8,779.2 1236.6,782.0 1239.0,782.0 1241.4,778.3 1243.8,778.4 1244.2,774.4 1244.6,771.8 1245.0,771.8 1245.3,767.2 1245.7,762.5 1246.1,762.8 1246.5,758.6 1249.7,761.9 1252.8,762.2 1253.6,766.1 1254.3,766.8 1255.1,770.9 1255.9,771.7 1256.7,773.6 1257.4,779.1 1258.2,780.2 1259.1,784.2 1260.0,784.4 1260.9,789.8 1261.8,789.1 1262.7,792.9 1263.6,796.4 1266.0,792.1 1268.4,790.3 1270.8,789.2 1273.5,788.3 1276.2,791.0 1278.9,789.7 1281.6,791.0 1282.0,792.6 1282.4,795.3 1282.8,798.6 1283.2,803.6 1283.6,805.4 1284.0,806.2 1284.4,811.3 1284.8,813.5 1285.2,816.2 1287.9,816.0 1290.6,816.2 1291.5,813.8 1292.4,811.9 1293.3,810.0 1294.2,806.3 1295.1,804.4 1296.0,801.2 1296.9,799.4 1297.8,796.4 1298.9,793.4 1300.0,791.0 1301.0,788.9 1302.1,787.2 1303.2,783.8 1305.7,782.2 1308.2,784.1 1310.8,781.6 1313.3,782.3 1315.8,780.2 1318.5,782.8 1321.2,785.6 1323.9,786.3 1326.6,787.4 1329.0,785.9 1331.4,784.6 1333.8,784.2 1336.2,783.6 1338.6,782.8 1341.0,780.2 1343.2,780.1 1345.5,781.1 1347.8,782.7 1350.0,785.6 1352.2,785.3 1354.5,786.5 1356.8,787.7 1359.0,791.0 1360.2,787.6 1361.4,784.7 1362.6,784.5 1363.8,781.9 1365.0,780.9 1366.2,776.6 1368.5,780.7 1370.7,782.1 1373.0,785.1 1375.2,785.6 1376.1,786.2 1377.0,789.5 1377.9,794.7 1378.8,795.4 1379.7,796.8 1380.6,801.5 1381.5,802.6 1382.4,805.4 1385.1,806.9 1387.8,807.4 1390.5,808.4 1393.2,810.8 1396.0,808.9 1398.9,810.7 1401.7,811.8 1404.5,811.7 1407.3,810.6 1410.2,811.0 1413.0,809.0 1414.8,805.7 1416.6,802.8 1418.4,802.6 1420.2,798.2 1422.9,797.7 1425.6,796.4 1426.7,794.6 1427.8,789.4 1428.8,787.8 1429.9,786.2 1431.0,783.8 1433.7,785.2 1436.4,786.0 1439.1,786.2 1441.8,785.6 1444.2,786.2 1446.6,787.5 1449.0,789.2 1450.8,792.9 1452.6,795.7 1454.4,795.9 1456.2,798.2 1458.2,795.2 1460.2,795.1 1462.2,792.8 1462.9,795.5 1463.6,797.3 1464.4,799.3 1465.1,802.4 1465.8,805.4 1468.2,807.6 1470.6,807.5 1473.0,810.8 1475.5,812.8 1478.0,816.2 1480.6,817.2 1483.1,817.0 1485.6,819.8 1489.2,819.5 1492.8,819.8 1494.6,820.4 1496.4,825.1 1498.2,826.8 1500.0,827.1 1501.8,830.6 1504.2,828.4 1506.6,826.2 1509.0,823.4 1511.7,823.7 1514.4,823.4 1517.4,824.1 1520.4,825.0 1523.4,827.0 1525.8,828.2 1528.2,832.6 1530.6,832.4 1533.6,830.5 1536.6,830.0 1539.6,828.8 1541.4,831.0 1543.2,832.3 1545.0,836.0 1547.7,836.5 1550.4,836.6 1553.1,838.0 1555.8,839.6 1558.2,837.9 1560.6,836.6 1563.0,836.0 1565.9,838.8 1568.8,837.3 1571.6,838.6 1574.5,841.0 1577.4,841.4 1579.2,838.3 1581.0,836.1 1582.8,833.9 1584.6,830.6 1586.4,826.7 1588.2,827.0 1590.0,822.5 1591.8,821.0 1593.6,819.8 1596.3,821.0 1599.0,821.8 1601.7,820.5 1604.4,819.8 1606.6,816.7 1608.7,816.0 1610.9,813.5 1613.0,814.0 1615.2,810.8 1617.9,812.4 1620.6,816.2 1622.8,817.2 1625.1,821.3 1627.3,823.5 1629.6,825.2 1632.3,824.7 1635.0,823.4 1637.4,824.5 1639.8,827.6 1642.2,827.0 1644.9,825.9 1647.6,825.2 1650.0,824.5 1652.4,820.0 1654.8,818.0 1657.0,816.5 1659.3,814.7 1661.5,814.8 1663.8,812.6 1664.2,810.9 1664.5,806.2 1664.9,804.6 1665.2,802.7 1665.6,799.1 1666.0,797.0 1666.3,794.2 1666.7,791.9 1667.0,787.7 1667.4,785.6 1670.4,784.8 1673.4,783.7 1676.4,785.6 1678.7,785.4 1680.9,783.2 1683.2,779.8 1685.4,778.4 1689.0,779.4 1692.6,776.6 1694.4,776.0 1696.2,770.7 1698.0,771.2 1699.8,767.6" stroke="#1a5688" stroke-width="1.6"/>
</g>
<path d="M730 902H1699.2" stroke="#6e6e6e" stroke-width="3" fill="none"/>
<path d="M747.0 902V891M928.8 902V891M1110.5 902V891M1292.2 902V891M1474.0 902V891M1655.8 902V891" stroke="#5a5a5a" stroke-width="2.4" fill="none"/>
<g fill="#262626" font-size="34" text-anchor="middle">
<text x="747.0" y="951.8">16</text>
<text x="928.8" y="951.8">16.5</text>
<text x="1110.5" y="951.8">17</text>
<text x="1292.2" y="951.8">17.5</text>
<text x="1474.0" y="951.8">18</text>
<text x="1655.8" y="951.8">18.5</text>
</g>
<path d="M672.5 968V344H1718.5V968Z" fill="none" stroke="#2b6a64" stroke-width="3.1" stroke-dasharray="15 13.1" stroke-dashoffset="-0.3"/>
<path d="M1467.8 1345.2V1206.7H1678V1345.2Z" fill="none" stroke="#2b6a64" stroke-width="3.1" stroke-dasharray="15 13.1" stroke-dashoffset="-0.3"/>
<g stroke="#58a49c" stroke-width="1.9" fill="none" stroke-linecap="round">
<path d="M1570.2 1204.3L1334.8 976.2"/>
<path d="M1341.9 1002.1L1334.3 975.7L1361.8 981.6"/>
</g>
</svg></body></html>
